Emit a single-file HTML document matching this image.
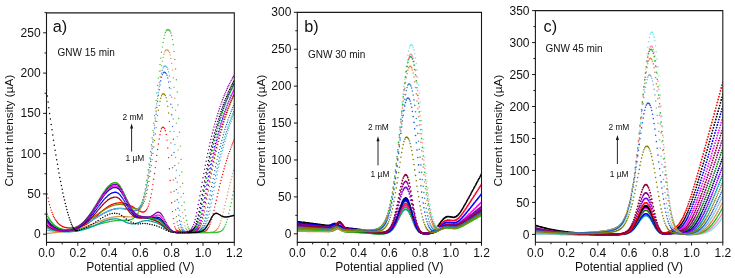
<!DOCTYPE html>
<html><head><meta charset="utf-8"><style>
html,body{margin:0;padding:0;background:#fff;}
svg{display:block;will-change:transform;}
text{font-family:"Liberation Sans", sans-serif;fill:#111;}
</style></head><body>
<svg width="735" height="278" viewBox="0 0 735 278">
<rect width="735" height="278" fill="#fff"/>
<defs><clipPath id="ca"><rect x="46.5" y="12.9" width="187.8" height="229.5"/></clipPath><clipPath id="cb"><rect x="297.3" y="12.4" width="184.2" height="230.0"/></clipPath><clipPath id="cc"><rect x="535.4" y="10.6" width="187.39999999999998" height="231.6"/></clipPath></defs>
<g clip-path="url(#ca)">
<path d="M46.5 189.6h0M47.3 194.1h0M48.1 198.0h0M48.8 201.6h0M49.6 204.8h0M50.4 207.6h0M51.2 210.1h0M52.0 212.4h0M52.8 214.4h0M53.5 216.2h0M54.3 217.8h0M55.1 219.2h0M55.9 220.4h0M56.7 221.5h0M57.5 222.5h0M58.2 223.4h0M59.0 224.1h0M59.8 224.8h0M60.6 225.4h0M61.4 225.9h0M62.2 226.3h0M62.9 226.7h0M63.7 227.0h0M64.5 227.2h0M65.3 227.4h0M66.1 227.6h0M66.8 227.7h0M67.6 227.8h0M68.4 227.9h0M69.2 227.9h0M70.0 228.0h0M70.8 228.0h0M71.5 227.9h0M72.3 227.9h0M73.1 227.8h0M73.9 227.8h0M74.7 227.7h0M75.5 227.6h0M76.2 227.5h0M77.0 227.3h0M77.8 227.2h0M78.6 227.0h0M79.4 226.8h0M80.1 226.6h0M80.9 226.4h0M81.7 226.2h0M82.5 225.9h0M83.3 225.6h0M84.1 225.3h0M84.8 225.0h0M85.6 224.6h0M86.4 224.2h0M87.2 223.7h0M88.0 223.3h0M88.8 222.7h0M89.5 222.2h0M90.3 221.6h0M91.1 221.0h0M91.9 220.4h0M92.7 219.7h0M93.5 219.0h0M94.2 218.3h0M95.0 217.6h0M95.8 216.9h0M96.6 216.2h0M97.4 215.4h0M98.1 214.7h0M98.9 214.0h0M99.7 213.2h0M100.5 212.5h0M101.3 211.8h0M102.1 211.1h0M102.8 210.4h0M103.6 209.8h0M104.4 209.2h0M105.2 208.6h0M106.0 208.0h0M106.8 207.4h0M107.5 206.9h0M108.3 206.4h0M109.1 206.0h0M109.9 205.5h0M110.7 205.1h0M111.4 204.8h0M112.2 204.4h0M113.0 204.1h0M113.8 203.8h0M114.6 203.6h0M115.4 203.4h0M116.1 203.2h0M116.9 203.1h0M117.7 202.9h0M118.5 202.9h0M119.3 202.8h0M120.1 202.8h0M120.8 202.8h0M121.6 202.9h0M122.4 202.9h0M123.2 203.0h0M124.0 203.2h0M124.8 203.4h0M125.5 203.6h0M126.3 203.8h0M127.1 204.1h0M127.9 204.4h0M128.7 204.7h0M129.4 205.1h0M130.2 205.4h0M131.0 205.9h0M131.8 206.3h0M132.6 206.7h0M133.4 207.2h0M134.1 207.7h0M134.9 208.2h0M135.7 208.6h0M136.5 209.2h0M137.3 209.6h0M138.1 210.1h0M138.8 210.6h0M139.6 211.0h0M140.4 211.4h0M141.2 211.7h0M142.0 212.0h0M142.7 212.1h0M143.5 212.0h0M144.3 211.8h0M145.1 211.3h0M145.9 210.6h0M146.7 209.5h0M147.4 208.1h0M148.2 206.2h0M149.0 203.9h0M149.8 201.1h0M150.6 197.8h0M151.4 193.9h0M152.1 189.5h0M152.9 184.6h0M153.7 179.2h0M154.5 173.5h0M155.3 167.6h0M156.1 161.5h0M156.8 155.4h0M157.6 149.5h0M158.4 144.0h0M159.2 139.0h0M160.0 134.7h0M160.7 131.2h0M161.5 128.8h0M162.3 127.4h0M163.1 127.1h0M163.9 127.6h0M164.7 128.6h0M165.4 130.7h0M166.2 134.4h0M167.0 140.1h0M167.8 147.9h0M168.6 157.6h0M169.4 168.7h0M170.1 180.5h0M170.9 192.1h0M171.7 202.7h0M172.5 211.6h0M173.3 218.6h0M174.0 223.6h0M174.8 226.9h0M175.6 228.9h0M176.4 230.1h0M177.2 230.7h0M178.0 231.0h0M178.7 231.2h0M179.5 231.4h0M180.3 231.5h0M181.1 231.6h0M181.9 231.7h0M182.7 231.7h0M183.4 231.8h0M184.2 231.9h0M185.0 231.9h0M185.8 232.0h0M186.6 232.0h0M187.4 232.1h0M188.1 232.1h0M188.9 232.2h0M189.7 232.2h0M190.5 232.3h0M191.3 232.3h0M192.0 232.3h0M192.8 232.3h0M193.6 232.4h0M194.4 232.4h0M195.2 232.4h0M196.0 232.4h0M196.7 232.4h0M197.5 232.4h0M198.3 232.4h0M199.1 232.4h0M199.9 232.3h0M200.7 232.3h0M201.4 232.2h0M202.2 232.1h0M203.0 232.0h0M203.8 231.7h0M204.6 231.5h0M205.3 231.1h0M206.1 230.5h0M206.9 229.8h0M207.7 228.8h0M208.5 227.6h0M209.3 226.1h0M210.0 224.3h0M210.8 222.1h0M211.6 219.6h0M212.4 216.7h0M213.2 213.7h0M214.0 210.5h0M214.7 207.1h0M215.5 203.7h0M216.3 200.2h0M217.1 196.8h0M217.9 193.4h0M218.7 190.0h0M219.4 186.7h0M220.2 183.5h0M221.0 180.4h0M221.8 177.3h0M222.6 174.4h0M223.3 171.5h0M224.1 168.7h0M224.9 166.0h0M225.7 163.4h0M226.5 160.8h0M227.3 158.3h0M228.0 155.9h0M228.8 153.6h0M229.6 151.4h0M230.4 149.2h0M231.2 147.1h0M232.0 145.0h0M232.7 143.0h0M233.5 141.1h0M234.3 139.2h0" stroke="#ff0000" stroke-width="1.4" stroke-linecap="round"/>
<path d="M46.5 227.5h0M47.3 227.9h0M48.1 228.3h0M48.8 228.6h0M49.6 228.9h0M50.4 229.2h0M51.2 229.4h0M52.0 229.6h0M52.8 229.8h0M53.5 230.0h0M54.3 230.1h0M55.1 230.2h0M55.9 230.3h0M56.7 230.3h0M57.5 230.4h0M58.2 230.4h0M59.0 230.4h0M59.8 230.4h0M60.6 230.4h0M61.4 230.4h0M62.2 230.3h0M62.9 230.2h0M63.7 230.2h0M64.5 230.1h0M65.3 229.9h0M66.1 229.8h0M66.8 229.7h0M67.6 229.5h0M68.4 229.4h0M69.2 229.2h0M70.0 229.0h0M70.8 228.8h0M71.5 228.6h0M72.3 228.3h0M73.1 228.1h0M73.9 227.8h0M74.7 227.6h0M75.5 227.3h0M76.2 227.0h0M77.0 226.6h0M77.8 226.3h0M78.6 226.0h0M79.4 225.6h0M80.1 225.2h0M80.9 224.9h0M81.7 224.5h0M82.5 224.0h0M83.3 223.6h0M84.1 223.2h0M84.8 222.7h0M85.6 222.3h0M86.4 221.8h0M87.2 221.3h0M88.0 220.8h0M88.8 220.3h0M89.5 219.8h0M90.3 219.3h0M91.1 218.7h0M91.9 218.2h0M92.7 217.7h0M93.5 217.1h0M94.2 216.6h0M95.0 216.0h0M95.8 215.5h0M96.6 214.9h0M97.4 214.4h0M98.1 213.8h0M98.9 213.3h0M99.7 212.7h0M100.5 212.2h0M101.3 211.7h0M102.1 211.2h0M102.8 210.7h0M103.6 210.2h0M104.4 209.7h0M105.2 209.2h0M106.0 208.8h0M106.8 208.3h0M107.5 207.9h0M108.3 207.5h0M109.1 207.1h0M109.9 206.8h0M110.7 206.4h0M111.4 206.1h0M112.2 205.8h0M113.0 205.6h0M113.8 205.3h0M114.6 205.1h0M115.4 204.9h0M116.1 204.8h0M116.9 204.6h0M117.7 204.5h0M118.5 204.5h0M119.3 204.4h0M120.1 204.4h0M120.8 204.4h0M121.6 204.5h0M122.4 204.5h0M123.2 204.6h0M124.0 204.8h0M124.8 204.9h0M125.5 205.1h0M126.3 205.3h0M127.1 205.6h0M127.9 205.9h0M128.7 206.1h0M129.4 206.4h0M130.2 206.8h0M131.0 207.1h0M131.8 207.4h0M132.6 207.7h0M133.4 208.0h0M134.1 208.3h0M134.9 208.5h0M135.7 208.7h0M136.5 208.9h0M137.3 208.9h0M138.1 208.9h0M138.8 208.7h0M139.6 208.4h0M140.4 207.8h0M141.2 207.1h0M142.0 206.1h0M142.7 204.9h0M143.5 203.3h0M144.3 201.4h0M145.1 199.1h0M145.9 196.5h0M146.7 193.4h0M147.4 189.8h0M148.2 185.8h0M149.0 181.4h0M149.8 176.5h0M150.6 171.3h0M151.4 165.6h0M152.1 159.6h0M152.9 153.4h0M153.7 147.0h0M154.5 140.5h0M155.3 134.0h0M156.1 127.6h0M156.8 121.4h0M157.6 115.6h0M158.4 110.3h0M159.2 105.6h0M160.0 101.5h0M160.7 98.2h0M161.5 95.8h0M162.3 94.2h0M163.1 93.7h0M163.9 93.9h0M164.7 94.5h0M165.4 95.6h0M166.2 97.8h0M167.0 101.2h0M167.8 106.2h0M168.6 113.0h0M169.4 121.5h0M170.1 131.6h0M170.9 142.9h0M171.7 155.2h0M172.5 167.7h0M173.3 179.9h0M174.0 191.2h0M174.8 201.3h0M175.6 209.8h0M176.4 216.6h0M177.2 221.7h0M178.0 225.4h0M178.7 227.9h0M179.5 229.5h0M180.3 230.5h0M181.1 231.1h0M181.9 231.5h0M182.7 231.7h0M183.4 231.8h0M184.2 231.9h0M185.0 232.0h0M185.8 232.0h0M186.6 232.1h0M187.4 232.1h0M188.1 232.1h0M188.9 232.2h0M189.7 232.2h0M190.5 232.2h0M191.3 232.2h0M192.0 232.1h0M192.8 232.1h0M193.6 232.0h0M194.4 231.8h0M195.2 231.7h0M196.0 231.4h0M196.7 231.0h0M197.5 230.5h0M198.3 229.7h0M199.1 228.8h0M199.9 227.5h0M200.7 226.0h0M201.4 224.0h0M202.2 221.6h0M203.0 218.7h0M203.8 215.5h0M204.6 211.9h0M205.3 208.0h0M206.1 203.9h0M206.9 199.6h0M207.7 195.3h0M208.5 191.0h0M209.3 186.6h0M210.0 182.3h0M210.8 178.1h0M211.6 174.0h0M212.4 170.0h0M213.2 166.1h0M214.0 162.3h0M214.7 158.5h0M215.5 154.9h0M216.3 151.4h0M217.1 148.0h0M217.9 144.8h0M218.7 141.6h0M219.4 138.5h0M220.2 135.5h0M221.0 132.6h0M221.8 129.7h0M222.6 127.0h0M223.3 124.4h0M224.1 121.8h0M224.9 119.3h0M225.7 116.9h0M226.5 114.5h0M227.3 112.3h0M228.0 110.1h0M228.8 107.9h0M229.6 105.9h0M230.4 103.9h0M231.2 101.9h0M232.0 100.1h0M232.7 98.2h0M233.5 96.5h0M234.3 94.8h0" stroke="#808000" stroke-width="1.4" stroke-linecap="round"/>
<path d="M46.5 225.9h0M47.3 226.5h0M48.1 227.0h0M48.8 227.5h0M49.6 227.9h0M50.4 228.3h0M51.2 228.6h0M52.0 228.9h0M52.8 229.2h0M53.5 229.4h0M54.3 229.6h0M55.1 229.8h0M55.9 229.9h0M56.7 230.0h0M57.5 230.1h0M58.2 230.2h0M59.0 230.3h0M59.8 230.3h0M60.6 230.3h0M61.4 230.3h0M62.2 230.3h0M62.9 230.3h0M63.7 230.2h0M64.5 230.2h0M65.3 230.1h0M66.1 230.0h0M66.8 229.9h0M67.6 229.8h0M68.4 229.7h0M69.2 229.6h0M70.0 229.4h0M70.8 229.2h0M71.5 229.1h0M72.3 228.9h0M73.1 228.7h0M73.9 228.4h0M74.7 228.2h0M75.5 228.0h0M76.2 227.7h0M77.0 227.4h0M77.8 227.2h0M78.6 226.9h0M79.4 226.6h0M80.1 226.3h0M80.9 225.9h0M81.7 225.6h0M82.5 225.2h0M83.3 224.9h0M84.1 224.5h0M84.8 224.1h0M85.6 223.7h0M86.4 223.3h0M87.2 222.9h0M88.0 222.5h0M88.8 222.0h0M89.5 221.6h0M90.3 221.2h0M91.1 220.7h0M91.9 220.3h0M92.7 219.8h0M93.5 219.3h0M94.2 218.9h0M95.0 218.4h0M95.8 217.9h0M96.6 217.4h0M97.4 217.0h0M98.1 216.5h0M98.9 216.0h0M99.7 215.6h0M100.5 215.1h0M101.3 214.7h0M102.1 214.2h0M102.8 213.8h0M103.6 213.4h0M104.4 213.0h0M105.2 212.6h0M106.0 212.2h0M106.8 211.8h0M107.5 211.4h0M108.3 211.1h0M109.1 210.8h0M109.9 210.5h0M110.7 210.2h0M111.4 209.9h0M112.2 209.6h0M113.0 209.4h0M113.8 209.2h0M114.6 209.0h0M115.4 208.9h0M116.1 208.7h0M116.9 208.6h0M117.7 208.5h0M118.5 208.5h0M119.3 208.4h0M120.1 208.4h0M120.8 208.4h0M121.6 208.5h0M122.4 208.5h0M123.2 208.6h0M124.0 208.7h0M124.8 208.8h0M125.5 209.0h0M126.3 209.1h0M127.1 209.3h0M127.9 209.5h0M128.7 209.7h0M129.4 209.9h0M130.2 210.1h0M131.0 210.3h0M131.8 210.5h0M132.6 210.6h0M133.4 210.7h0M134.1 210.7h0M134.9 210.7h0M135.7 210.6h0M136.5 210.4h0M137.3 210.1h0M138.1 209.6h0M138.8 208.9h0M139.6 208.1h0M140.4 207.0h0M141.2 205.7h0M142.0 204.1h0M142.7 202.2h0M143.5 199.9h0M144.3 197.3h0M145.1 194.3h0M145.9 190.8h0M146.7 187.0h0M147.4 182.7h0M148.2 178.0h0M149.0 172.9h0M149.8 167.4h0M150.6 161.5h0M151.4 155.2h0M152.1 148.7h0M152.9 142.0h0M153.7 135.1h0M154.5 128.1h0M155.3 121.1h0M156.1 114.2h0M156.8 107.5h0M157.6 101.2h0M158.4 95.2h0M159.2 89.7h0M160.0 84.9h0M160.7 80.7h0M161.5 77.3h0M162.3 74.7h0M163.1 73.0h0M163.9 72.2h0M164.7 72.3h0M165.4 72.7h0M166.2 73.6h0M167.0 75.2h0M167.8 78.0h0M168.6 82.1h0M169.4 87.8h0M170.1 95.1h0M170.9 104.2h0M171.7 114.7h0M172.5 126.6h0M173.3 139.3h0M174.0 152.5h0M174.8 165.6h0M175.6 178.1h0M176.4 189.6h0M177.2 199.7h0M178.0 208.2h0M178.7 215.1h0M179.5 220.5h0M180.3 224.5h0M181.1 227.3h0M181.9 229.2h0M182.7 230.4h0M183.4 231.1h0M184.2 231.6h0M185.0 231.9h0M185.8 232.0h0M186.6 232.1h0M187.4 232.2h0M188.1 232.2h0M188.9 232.2h0M189.7 232.3h0M190.5 232.3h0M191.3 232.3h0M192.0 232.3h0M192.8 232.3h0M193.6 232.2h0M194.4 232.2h0M195.2 232.1h0M196.0 232.0h0M196.7 231.9h0M197.5 231.6h0M198.3 231.3h0M199.1 230.9h0M199.9 230.3h0M200.7 229.5h0M201.4 228.5h0M202.2 227.2h0M203.0 225.5h0M203.8 223.4h0M204.6 220.9h0M205.3 218.0h0M206.1 214.7h0M206.9 211.1h0M207.7 207.2h0M208.5 203.2h0M209.3 199.1h0M210.0 194.9h0M210.8 190.7h0M211.6 186.5h0M212.4 182.4h0M213.2 178.4h0M214.0 174.4h0M214.7 170.6h0M215.5 166.8h0M216.3 163.2h0M217.1 159.6h0M217.9 156.2h0M218.7 152.8h0M219.4 149.6h0M220.2 146.5h0M221.0 143.4h0M221.8 140.5h0M222.6 137.6h0M223.3 134.8h0M224.1 132.1h0M224.9 129.5h0M225.7 127.0h0M226.5 124.5h0M227.3 122.2h0M228.0 119.9h0M228.8 117.6h0M229.6 115.5h0M230.4 113.4h0M231.2 111.3h0M232.0 109.4h0M232.7 107.5h0M233.5 105.6h0M234.3 103.8h0" stroke="#2060e0" stroke-width="1.4" stroke-linecap="round"/>
<path d="M46.5 229.9h0M47.3 230.1h0M48.1 230.3h0M48.8 230.5h0M49.6 230.6h0M50.4 230.7h0M51.2 230.8h0M52.0 230.9h0M52.8 231.0h0M53.5 231.0h0M54.3 231.1h0M55.1 231.1h0M55.9 231.1h0M56.7 231.1h0M57.5 231.1h0M58.2 231.1h0M59.0 231.1h0M59.8 231.0h0M60.6 231.0h0M61.4 230.9h0M62.2 230.9h0M62.9 230.8h0M63.7 230.7h0M64.5 230.6h0M65.3 230.5h0M66.1 230.4h0M66.8 230.2h0M67.6 230.1h0M68.4 229.9h0M69.2 229.8h0M70.0 229.6h0M70.8 229.4h0M71.5 229.2h0M72.3 229.0h0M73.1 228.8h0M73.9 228.6h0M74.7 228.3h0M75.5 228.1h0M76.2 227.8h0M77.0 227.5h0M77.8 227.2h0M78.6 226.9h0M79.4 226.6h0M80.1 226.3h0M80.9 226.0h0M81.7 225.6h0M82.5 225.3h0M83.3 224.9h0M84.1 224.5h0M84.8 224.1h0M85.6 223.7h0M86.4 223.3h0M87.2 222.9h0M88.0 222.5h0M88.8 222.1h0M89.5 221.6h0M90.3 221.2h0M91.1 220.7h0M91.9 220.3h0M92.7 219.8h0M93.5 219.3h0M94.2 218.9h0M95.0 218.4h0M95.8 217.9h0M96.6 217.5h0M97.4 217.0h0M98.1 216.5h0M98.9 216.0h0M99.7 215.6h0M100.5 215.1h0M101.3 214.7h0M102.1 214.2h0M102.8 213.8h0M103.6 213.4h0M104.4 213.0h0M105.2 212.6h0M106.0 212.2h0M106.8 211.8h0M107.5 211.4h0M108.3 211.1h0M109.1 210.8h0M109.9 210.5h0M110.7 210.2h0M111.4 209.9h0M112.2 209.6h0M113.0 209.4h0M113.8 209.2h0M114.6 209.0h0M115.4 208.9h0M116.1 208.7h0M116.9 208.6h0M117.7 208.5h0M118.5 208.5h0M119.3 208.4h0M120.1 208.4h0M120.8 208.4h0M121.6 208.4h0M122.4 208.5h0M123.2 208.6h0M124.0 208.7h0M124.8 208.8h0M125.5 208.9h0M126.3 209.1h0M127.1 209.2h0M127.9 209.4h0M128.7 209.6h0M129.4 209.8h0M130.2 209.9h0M131.0 210.1h0M131.8 210.2h0M132.6 210.2h0M133.4 210.3h0M134.1 210.2h0M134.9 210.1h0M135.7 209.9h0M136.5 209.6h0M137.3 209.2h0M138.1 208.5h0M138.8 207.8h0M139.6 206.8h0M140.4 205.5h0M141.2 204.1h0M142.0 202.3h0M142.7 200.2h0M143.5 197.8h0M144.3 195.1h0M145.1 191.9h0M145.9 188.4h0M146.7 184.5h0M147.4 180.1h0M148.2 175.4h0M149.0 170.2h0M149.8 164.7h0M150.6 158.8h0M151.4 152.6h0M152.1 146.1h0M152.9 139.4h0M153.7 132.6h0M154.5 125.6h0M155.3 118.7h0M156.1 111.8h0M156.8 105.1h0M157.6 98.6h0M158.4 92.5h0M159.2 86.8h0M160.0 81.7h0M160.7 77.2h0M161.5 73.3h0M162.3 70.2h0M163.1 67.9h0M163.9 66.5h0M164.7 66.0h0M165.4 66.1h0M166.2 66.6h0M167.0 67.5h0M167.8 69.2h0M168.6 71.9h0M169.4 76.0h0M170.1 81.5h0M170.9 88.6h0M171.7 97.3h0M172.5 107.5h0M173.3 119.0h0M174.0 131.4h0M174.8 144.4h0M175.6 157.5h0M176.4 170.3h0M177.2 182.2h0M178.0 193.0h0M178.7 202.4h0M179.5 210.3h0M180.3 216.6h0M181.1 221.5h0M181.9 225.1h0M182.7 227.6h0M183.4 229.4h0M184.2 230.5h0M185.0 231.2h0M185.8 231.7h0M186.6 231.9h0M187.4 232.1h0M188.1 232.2h0M188.9 232.2h0M189.7 232.3h0M190.5 232.3h0M191.3 232.3h0M192.0 232.3h0M192.8 232.4h0M193.6 232.4h0M194.4 232.4h0M195.2 232.4h0M196.0 232.3h0M196.7 232.3h0M197.5 232.2h0M198.3 232.2h0M199.1 232.0h0M199.9 231.9h0M200.7 231.6h0M201.4 231.3h0M202.2 230.9h0M203.0 230.3h0M203.8 229.4h0M204.6 228.4h0M205.3 227.0h0M206.1 225.2h0M206.9 223.1h0M207.7 220.6h0M208.5 217.6h0M209.3 214.3h0M210.0 210.7h0M210.8 206.9h0M211.6 202.9h0M212.4 198.8h0M213.2 194.7h0M214.0 190.6h0M214.7 186.5h0M215.5 182.5h0M216.3 178.5h0M217.1 174.7h0M217.9 170.9h0M218.7 167.2h0M219.4 163.7h0M220.2 160.2h0M221.0 156.9h0M221.8 153.6h0M222.6 150.4h0M223.3 147.4h0M224.1 144.4h0M224.9 141.5h0M225.7 138.7h0M226.5 136.0h0M227.3 133.4h0M228.0 130.8h0M228.8 128.3h0M229.6 125.9h0M230.4 123.6h0M231.2 121.4h0M232.0 119.2h0M232.7 117.1h0M233.5 115.0h0M234.3 113.1h0" stroke="#50b0e0" stroke-width="1.4" stroke-linecap="round"/>
<path d="M46.5 233.6h0M47.3 233.5h0M48.1 233.4h0M48.8 233.3h0M49.6 233.2h0M50.4 233.1h0M51.2 233.0h0M52.0 232.9h0M52.8 232.8h0M53.5 232.7h0M54.3 232.6h0M55.1 232.5h0M55.9 232.5h0M56.7 232.4h0M57.5 232.3h0M58.2 232.2h0M59.0 232.2h0M59.8 232.1h0M60.6 232.0h0M61.4 231.9h0M62.2 231.8h0M62.9 231.7h0M63.7 231.6h0M64.5 231.5h0M65.3 231.4h0M66.1 231.3h0M66.8 231.2h0M67.6 231.1h0M68.4 231.0h0M69.2 230.9h0M70.0 230.7h0M70.8 230.6h0M71.5 230.5h0M72.3 230.3h0M73.1 230.2h0M73.9 230.0h0M74.7 229.8h0M75.5 229.6h0M76.2 229.5h0M77.0 229.3h0M77.8 229.1h0M78.6 228.9h0M79.4 228.7h0M80.1 228.4h0M80.9 228.2h0M81.7 228.0h0M82.5 227.7h0M83.3 227.5h0M84.1 227.2h0M84.8 227.0h0M85.6 226.7h0M86.4 226.4h0M87.2 226.2h0M88.0 225.9h0M88.8 225.6h0M89.5 225.3h0M90.3 225.0h0M91.1 224.7h0M91.9 224.4h0M92.7 224.1h0M93.5 223.8h0M94.2 223.4h0M95.0 223.1h0M95.8 222.8h0M96.6 222.5h0M97.4 222.2h0M98.1 221.9h0M98.9 221.6h0M99.7 221.3h0M100.5 221.0h0M101.3 220.7h0M102.1 220.4h0M102.8 220.1h0M103.6 219.8h0M104.4 219.5h0M105.2 219.2h0M106.0 219.0h0M106.8 218.7h0M107.5 218.5h0M108.3 218.3h0M109.1 218.0h0M109.9 217.8h0M110.7 217.6h0M111.4 217.5h0M112.2 217.3h0M113.0 217.1h0M113.8 217.0h0M114.6 216.9h0M115.4 216.8h0M116.1 216.7h0M116.9 216.6h0M117.7 216.5h0M118.5 216.5h0M119.3 216.5h0M120.1 216.4h0M120.8 216.4h0M121.6 216.4h0M122.4 216.5h0M123.2 216.5h0M124.0 216.6h0M124.8 216.6h0M125.5 216.7h0M126.3 216.7h0M127.1 216.8h0M127.9 216.8h0M128.7 216.9h0M129.4 216.9h0M130.2 216.9h0M131.0 216.9h0M131.8 216.8h0M132.6 216.7h0M133.4 216.5h0M134.1 216.2h0M134.9 215.9h0M135.7 215.4h0M136.5 214.8h0M137.3 214.1h0M138.1 213.2h0M138.8 212.1h0M139.6 210.8h0M140.4 209.3h0M141.2 207.5h0M142.0 205.4h0M142.7 203.1h0M143.5 200.4h0M144.3 197.3h0M145.1 193.9h0M145.9 190.2h0M146.7 186.0h0M147.4 181.5h0M148.2 176.6h0M149.0 171.2h0M149.8 165.6h0M150.6 159.5h0M151.4 153.1h0M152.1 146.5h0M152.9 139.6h0M153.7 132.5h0M154.5 125.2h0M155.3 117.9h0M156.1 110.6h0M156.8 103.3h0M157.6 96.2h0M158.4 89.3h0M159.2 82.7h0M160.0 76.6h0M160.7 70.9h0M161.5 65.7h0M162.3 61.2h0M163.1 57.4h0M163.9 54.3h0M164.7 52.0h0M165.4 50.5h0M166.2 49.9h0M167.0 50.0h0M167.8 50.3h0M168.6 51.0h0M169.4 52.5h0M170.1 54.9h0M170.9 58.5h0M171.7 63.4h0M172.5 69.9h0M173.3 77.8h0M174.0 87.3h0M174.8 98.2h0M175.6 110.3h0M176.4 123.2h0M177.2 136.6h0M178.0 150.0h0M178.7 163.2h0M179.5 175.5h0M180.3 186.9h0M181.1 196.9h0M181.9 205.5h0M182.7 212.6h0M183.4 218.3h0M184.2 222.6h0M185.0 225.9h0M185.8 228.2h0M186.6 229.8h0M187.4 230.8h0M188.1 231.5h0M188.9 231.9h0M189.7 232.1h0M190.5 232.3h0M191.3 232.4h0M192.0 232.4h0M192.8 232.4h0M193.6 232.5h0M194.4 232.5h0M195.2 232.5h0M196.0 232.5h0M196.7 232.5h0M197.5 232.5h0M198.3 232.5h0M199.1 232.5h0M199.9 232.5h0M200.7 232.5h0M201.4 232.5h0M202.2 232.5h0M203.0 232.5h0M203.8 232.5h0M204.6 232.5h0M205.3 232.5h0M206.1 232.5h0M206.9 232.5h0M207.7 232.5h0M208.5 232.5h0M209.3 232.4h0M210.0 232.4h0M210.8 232.3h0M211.6 232.2h0M212.4 232.1h0M213.2 231.9h0M214.0 231.6h0M214.7 231.3h0M215.5 230.8h0M216.3 230.2h0M217.1 229.3h0M217.9 228.2h0M218.7 226.9h0M219.4 225.2h0M220.2 223.2h0M221.0 220.8h0M221.8 218.1h0M222.6 215.2h0M223.3 212.1h0M224.1 208.9h0M224.9 205.5h0M225.7 202.1h0M226.5 198.7h0M227.3 195.3h0M228.0 192.0h0M228.8 188.7h0M229.6 185.6h0M230.4 182.4h0M231.2 179.4h0M232.0 176.5h0M232.7 173.6h0M233.5 170.8h0M234.3 168.1h0" stroke="#d89858" stroke-width="1.4" stroke-linecap="round"/>
<path d="M46.5 214.7h0M47.3 216.4h0M48.1 217.9h0M48.8 219.3h0M49.6 220.5h0M50.4 221.6h0M51.2 222.6h0M52.0 223.6h0M52.8 224.4h0M53.5 225.1h0M54.3 225.8h0M55.1 226.4h0M55.9 226.9h0M56.7 227.4h0M57.5 227.8h0M58.2 228.2h0M59.0 228.5h0M59.8 228.8h0M60.6 229.1h0M61.4 229.3h0M62.2 229.5h0M62.9 229.7h0M63.7 229.8h0M64.5 229.9h0M65.3 230.0h0M66.1 230.1h0M66.8 230.2h0M67.6 230.2h0M68.4 230.3h0M69.2 230.3h0M70.0 230.3h0M70.8 230.3h0M71.5 230.2h0M72.3 230.2h0M73.1 230.1h0M73.9 230.1h0M74.7 230.0h0M75.5 229.9h0M76.2 229.8h0M77.0 229.7h0M77.8 229.6h0M78.6 229.5h0M79.4 229.4h0M80.1 229.2h0M80.9 229.1h0M81.7 228.9h0M82.5 228.8h0M83.3 228.6h0M84.1 228.4h0M84.8 228.2h0M85.6 228.1h0M86.4 227.9h0M87.2 227.7h0M88.0 227.5h0M88.8 227.3h0M89.5 227.0h0M90.3 226.8h0M91.1 226.6h0M91.9 226.4h0M92.7 226.2h0M93.5 225.9h0M94.2 225.7h0M95.0 225.5h0M95.8 225.2h0M96.6 225.0h0M97.4 224.8h0M98.1 224.5h0M98.9 224.3h0M99.7 224.1h0M100.5 223.8h0M101.3 223.6h0M102.1 223.4h0M102.8 223.2h0M103.6 223.0h0M104.4 222.8h0M105.2 222.6h0M106.0 222.4h0M106.8 222.2h0M107.5 222.0h0M108.3 221.8h0M109.1 221.7h0M109.9 221.5h0M110.7 221.4h0M111.4 221.2h0M112.2 221.1h0M113.0 221.0h0M113.8 220.9h0M114.6 220.8h0M115.4 220.7h0M116.1 220.6h0M116.9 220.6h0M117.7 220.5h0M118.5 220.5h0M119.3 220.4h0M120.1 220.4h0M120.8 220.4h0M121.6 220.4h0M122.4 220.4h0M123.2 220.3h0M124.0 220.3h0M124.8 220.3h0M125.5 220.3h0M126.3 220.3h0M127.1 220.2h0M127.9 220.2h0M128.7 220.1h0M129.4 219.9h0M130.2 219.7h0M131.0 219.5h0M131.8 219.2h0M132.6 218.8h0M133.4 218.4h0M134.1 217.8h0M134.9 217.1h0M135.7 216.3h0M136.5 215.4h0M137.3 214.2h0M138.1 212.9h0M138.8 211.3h0M139.6 209.6h0M140.4 207.6h0M141.2 205.3h0M142.0 202.7h0M142.7 199.8h0M143.5 196.6h0M144.3 193.0h0M145.1 189.1h0M145.9 184.8h0M146.7 180.2h0M147.4 175.2h0M148.2 169.8h0M149.0 164.0h0M149.8 158.0h0M150.6 151.5h0M151.4 144.8h0M152.1 137.8h0M152.9 130.6h0M153.7 123.2h0M154.5 115.7h0M155.3 108.1h0M156.1 100.4h0M156.8 92.9h0M157.6 85.4h0M158.4 78.1h0M159.2 71.1h0M160.0 64.4h0M160.7 58.1h0M161.5 52.3h0M162.3 47.1h0M163.1 42.4h0M163.9 38.4h0M164.7 35.1h0M165.4 32.5h0M166.2 30.8h0M167.0 29.8h0M167.8 29.7h0M168.6 29.8h0M169.4 30.3h0M170.1 31.3h0M170.9 33.0h0M171.7 35.7h0M172.5 39.6h0M173.3 44.8h0M174.0 51.4h0M174.8 59.4h0M175.6 69.0h0M176.4 79.8h0M177.2 91.9h0M178.0 104.9h0M178.7 118.5h0M179.5 132.3h0M180.3 146.1h0M181.1 159.4h0M181.9 171.9h0M182.7 183.3h0M183.4 193.5h0M184.2 202.3h0M185.0 209.7h0M185.8 215.8h0M186.6 220.5h0M187.4 224.2h0M188.1 226.9h0M188.9 228.8h0M189.7 230.2h0M190.5 231.1h0M191.3 231.7h0M192.0 232.0h0M192.8 232.2h0M193.6 232.4h0M194.4 232.4h0M195.2 232.5h0M196.0 232.5h0M196.7 232.5h0M197.5 232.5h0M198.3 232.5h0M199.1 232.5h0M199.9 232.6h0M200.7 232.6h0M201.4 232.6h0M202.2 232.6h0M203.0 232.6h0M203.8 232.6h0M204.6 232.6h0M205.3 232.6h0M206.1 232.6h0M206.9 232.6h0M207.7 232.6h0M208.5 232.6h0M209.3 232.6h0M210.0 232.6h0M210.8 232.6h0M211.6 232.6h0M212.4 232.5h0M213.2 232.5h0M214.0 232.5h0M214.7 232.5h0M215.5 232.4h0M216.3 232.4h0M217.1 232.3h0M217.9 232.2h0M218.7 232.0h0M219.4 231.8h0M220.2 231.6h0M221.0 231.2h0M221.8 230.6h0M222.6 229.9h0M223.3 229.0h0M224.1 227.8h0M224.9 226.3h0M225.7 224.4h0M226.5 222.2h0M227.3 219.6h0M228.0 216.7h0M228.8 213.5h0M229.6 210.0h0M230.4 206.4h0M231.2 202.7h0M232.0 199.0h0M232.7 195.3h0M233.5 191.5h0M234.3 187.9h0" stroke="#30c030" stroke-width="1.4" stroke-linecap="round"/>
<path d="M46.5 226.5h0M47.3 227.0h0M48.1 227.6h0M48.8 228.0h0M49.6 228.5h0M50.4 228.9h0M51.2 229.2h0M52.0 229.5h0M52.8 229.8h0M53.5 230.1h0M54.3 230.3h0M55.1 230.5h0M55.9 230.7h0M56.7 230.9h0M57.5 231.0h0M58.2 231.1h0M59.0 231.3h0M59.8 231.4h0M60.6 231.4h0M61.4 231.5h0M62.2 231.6h0M62.9 231.6h0M63.7 231.7h0M64.5 231.7h0M65.3 231.7h0M66.1 231.8h0M66.8 231.8h0M67.6 231.8h0M68.4 231.8h0M69.2 231.7h0M70.0 231.7h0M70.8 231.7h0M71.5 231.6h0M72.3 231.6h0M73.1 231.5h0M73.9 231.4h0M74.7 231.4h0M75.5 231.3h0M76.2 231.2h0M77.0 231.0h0M77.8 230.9h0M78.6 230.8h0M79.4 230.6h0M80.1 230.5h0M80.9 230.3h0M81.7 230.1h0M82.5 229.9h0M83.3 229.7h0M84.1 229.5h0M84.8 229.3h0M85.6 229.0h0M86.4 228.8h0M87.2 228.5h0M88.0 228.3h0M88.8 228.0h0M89.5 227.7h0M90.3 227.4h0M91.1 227.0h0M91.9 226.7h0M92.7 226.4h0M93.5 226.0h0M94.2 225.7h0M95.0 225.3h0M95.8 225.0h0M96.6 224.6h0M97.4 224.3h0M98.1 223.9h0M98.9 223.6h0M99.7 223.2h0M100.5 222.8h0M101.3 222.5h0M102.1 222.2h0M102.8 221.8h0M103.6 221.5h0M104.4 221.2h0M105.2 220.9h0M106.0 220.6h0M106.8 220.4h0M107.5 220.1h0M108.3 219.9h0M109.1 219.7h0M109.9 219.5h0M110.7 219.3h0M111.4 219.2h0M112.2 219.1h0M113.0 219.0h0M113.8 218.9h0M114.6 218.9h0M115.4 218.8h0M116.1 218.9h0M116.9 218.9h0M117.7 219.0h0M118.5 219.2h0M119.3 219.4h0M120.1 219.7h0M120.8 219.9h0M121.6 220.3h0M122.4 220.6h0M123.2 220.9h0M124.0 221.3h0M124.8 221.7h0M125.5 222.0h0M126.3 222.4h0M127.1 222.7h0M127.9 223.0h0M128.7 223.2h0M129.4 223.4h0M130.2 223.6h0M131.0 223.8h0M131.8 223.8h0M132.6 223.9h0M133.4 223.8h0M134.1 223.8h0M134.9 223.6h0M135.7 223.5h0M136.5 223.3h0M137.3 223.0h0M138.1 222.7h0M138.8 222.5h0M139.6 222.2h0M140.4 221.9h0M141.2 221.6h0M142.0 221.3h0M142.7 221.1h0M143.5 220.9h0M144.3 220.8h0M145.1 220.6h0M145.9 220.6h0M146.7 220.6h0M147.4 220.6h0M148.2 220.7h0M149.0 220.8h0M149.8 220.9h0M150.6 221.1h0M151.4 221.3h0M152.1 221.5h0M152.9 221.7h0M153.7 221.9h0M154.5 222.1h0M155.3 222.3h0M156.1 222.6h0M156.8 222.9h0M157.6 223.2h0M158.4 223.6h0M159.2 224.0h0M160.0 224.4h0M160.7 224.9h0M161.5 225.5h0M162.3 226.0h0M163.1 226.6h0M163.9 227.3h0M164.7 227.9h0M165.4 228.5h0M166.2 229.1h0M167.0 229.6h0M167.8 230.1h0M168.6 230.5h0M169.4 230.9h0M170.1 231.3h0M170.9 231.5h0M171.7 231.8h0M172.5 232.0h0M173.3 232.1h0M174.0 232.2h0M174.8 232.3h0M175.6 232.4h0M176.4 232.5h0M177.2 232.5h0M178.0 232.5h0M178.7 232.5h0M179.5 232.6h0M180.3 232.6h0M181.1 232.6h0M181.9 232.6h0M182.7 232.6h0M183.4 232.6h0M184.2 232.6h0M185.0 232.6h0M185.8 232.6h0M186.6 232.6h0M187.4 232.6h0M188.1 232.6h0M188.9 232.6h0M189.7 232.6h0M190.5 232.6h0M191.3 232.6h0M192.0 232.5h0M192.8 232.5h0M193.6 232.5h0M194.4 232.5h0M195.2 232.4h0M196.0 232.4h0M196.7 232.3h0M197.5 232.2h0M198.3 232.0h0M199.1 231.8h0M199.9 231.5h0M200.7 231.0h0M201.4 230.4h0M202.2 229.7h0M203.0 228.7h0M203.8 227.3h0M204.6 225.7h0M205.3 223.6h0M206.1 221.2h0M206.9 218.3h0M207.7 215.1h0M208.5 211.6h0M209.3 207.8h0M210.0 203.9h0M210.8 199.8h0M211.6 195.7h0M212.4 191.6h0M213.2 187.5h0M214.0 183.5h0M214.7 179.6h0M215.5 175.7h0M216.3 171.9h0M217.1 168.3h0M217.9 164.7h0M218.7 161.2h0M219.4 157.9h0M220.2 154.6h0M221.0 151.4h0M221.8 148.3h0M222.6 145.4h0M223.3 142.5h0M224.1 139.7h0M224.9 136.9h0M225.7 134.3h0M226.5 131.8h0M227.3 129.3h0M228.0 126.9h0M228.8 124.6h0M229.6 122.3h0M230.4 120.1h0M231.2 118.0h0M232.0 116.0h0M232.7 114.0h0M233.5 112.0h0M234.3 110.2h0" stroke="#00a0a0" stroke-width="1.4" stroke-linecap="round"/>
<path d="M46.5 224.5h0M47.3 225.3h0M48.1 226.0h0M48.8 226.6h0M49.6 227.1h0M50.4 227.6h0M51.2 228.1h0M52.0 228.5h0M52.8 228.9h0M53.5 229.2h0M54.3 229.5h0M55.1 229.8h0M55.9 230.0h0M56.7 230.2h0M57.5 230.4h0M58.2 230.6h0M59.0 230.7h0M59.8 230.8h0M60.6 230.9h0M61.4 231.0h0M62.2 231.1h0M62.9 231.1h0M63.7 231.1h0M64.5 231.1h0M65.3 231.1h0M66.1 231.1h0M66.8 231.1h0M67.6 231.0h0M68.4 230.9h0M69.2 230.8h0M70.0 230.7h0M70.8 230.6h0M71.5 230.4h0M72.3 230.3h0M73.1 230.1h0M73.9 229.9h0M74.7 229.6h0M75.5 229.4h0M76.2 229.1h0M77.0 228.8h0M77.8 228.4h0M78.6 228.1h0M79.4 227.7h0M80.1 227.3h0M80.9 226.8h0M81.7 226.3h0M82.5 225.8h0M83.3 225.3h0M84.1 224.7h0M84.8 224.1h0M85.6 223.5h0M86.4 222.8h0M87.2 222.1h0M88.0 221.4h0M88.8 220.7h0M89.5 219.9h0M90.3 219.1h0M91.1 218.3h0M91.9 217.4h0M92.7 216.6h0M93.5 215.7h0M94.2 214.8h0M95.0 213.9h0M95.8 212.9h0M96.6 212.0h0M97.4 211.1h0M98.1 210.1h0M98.9 209.2h0M99.7 208.3h0M100.5 207.4h0M101.3 206.5h0M102.1 205.6h0M102.8 204.8h0M103.6 203.9h0M104.4 203.1h0M105.2 202.4h0M106.0 201.6h0M106.8 201.0h0M107.5 200.3h0M108.3 199.7h0M109.1 199.2h0M109.9 198.7h0M110.7 198.3h0M111.4 198.0h0M112.2 197.7h0M113.0 197.4h0M113.8 197.2h0M114.6 197.1h0M115.4 197.1h0M116.1 197.1h0M116.9 197.3h0M117.7 197.7h0M118.5 198.1h0M119.3 198.7h0M120.1 199.4h0M120.8 200.2h0M121.6 201.1h0M122.4 202.1h0M123.2 203.2h0M124.0 204.2h0M124.8 205.4h0M125.5 206.5h0M126.3 207.7h0M127.1 208.8h0M127.9 209.9h0M128.7 211.0h0M129.4 212.0h0M130.2 212.9h0M131.0 213.8h0M131.8 214.6h0M132.6 215.3h0M133.4 215.9h0M134.1 216.4h0M134.9 216.9h0M135.7 217.2h0M136.5 217.5h0M137.3 217.7h0M138.1 217.8h0M138.8 217.9h0M139.6 217.9h0M140.4 217.9h0M141.2 217.9h0M142.0 217.9h0M142.7 217.9h0M143.5 217.9h0M144.3 217.9h0M145.1 217.9h0M145.9 218.0h0M146.7 218.1h0M147.4 218.2h0M148.2 218.4h0M149.0 218.6h0M149.8 218.8h0M150.6 219.1h0M151.4 219.3h0M152.1 219.6h0M152.9 219.8h0M153.7 220.1h0M154.5 220.3h0M155.3 220.6h0M156.1 220.9h0M156.8 221.2h0M157.6 221.6h0M158.4 222.0h0M159.2 222.5h0M160.0 223.0h0M160.7 223.6h0M161.5 224.2h0M162.3 224.9h0M163.1 225.6h0M163.9 226.3h0M164.7 227.0h0M165.4 227.7h0M166.2 228.4h0M167.0 229.1h0M167.8 229.6h0M168.6 230.2h0M169.4 230.6h0M170.1 231.0h0M170.9 231.4h0M171.7 231.6h0M172.5 231.9h0M173.3 232.0h0M174.0 232.2h0M174.8 232.3h0M175.6 232.4h0M176.4 232.4h0M177.2 232.5h0M178.0 232.5h0M178.7 232.5h0M179.5 232.5h0M180.3 232.6h0M181.1 232.6h0M181.9 232.6h0M182.7 232.6h0M183.4 232.6h0M184.2 232.6h0M185.0 232.6h0M185.8 232.6h0M186.6 232.6h0M187.4 232.5h0M188.1 232.5h0M188.9 232.5h0M189.7 232.5h0M190.5 232.4h0M191.3 232.4h0M192.0 232.3h0M192.8 232.1h0M193.6 232.0h0M194.4 231.7h0M195.2 231.4h0M196.0 230.9h0M196.7 230.3h0M197.5 229.5h0M198.3 228.5h0M199.1 227.1h0M199.9 225.3h0M200.7 223.2h0M201.4 220.6h0M202.2 217.6h0M203.0 214.3h0M203.8 210.6h0M204.6 206.6h0M205.3 202.5h0M206.1 198.2h0M206.9 193.9h0M207.7 189.6h0M208.5 185.3h0M209.3 181.1h0M210.0 177.0h0M210.8 172.9h0M211.6 169.0h0M212.4 165.1h0M213.2 161.4h0M214.0 157.7h0M214.7 154.2h0M215.5 150.8h0M216.3 147.4h0M217.1 144.2h0M217.9 141.1h0M218.7 138.1h0M219.4 135.1h0M220.2 132.3h0M221.0 129.5h0M221.8 126.8h0M222.6 124.2h0M223.3 121.7h0M224.1 119.3h0M224.9 116.9h0M225.7 114.6h0M226.5 112.4h0M227.3 110.3h0M228.0 108.2h0M228.8 106.1h0M229.6 104.2h0M230.4 102.3h0M231.2 100.5h0M232.0 98.7h0M232.7 96.9h0M233.5 95.3h0M234.3 93.6h0" stroke="#a00000" stroke-width="1.45" stroke-linecap="round"/>
<path d="M46.5 218.1h0M47.3 219.4h0M48.1 220.7h0M48.8 221.8h0M49.6 222.8h0M50.4 223.7h0M51.2 224.6h0M52.0 225.3h0M52.8 226.0h0M53.5 226.6h0M54.3 227.1h0M55.1 227.6h0M55.9 228.0h0M56.7 228.4h0M57.5 228.8h0M58.2 229.1h0M59.0 229.4h0M59.8 229.6h0M60.6 229.8h0M61.4 230.0h0M62.2 230.1h0M62.9 230.2h0M63.7 230.3h0M64.5 230.4h0M65.3 230.4h0M66.1 230.5h0M66.8 230.4h0M67.6 230.4h0M68.4 230.4h0M69.2 230.3h0M70.0 230.2h0M70.8 230.1h0M71.5 229.9h0M72.3 229.7h0M73.1 229.5h0M73.9 229.3h0M74.7 229.1h0M75.5 228.8h0M76.2 228.5h0M77.0 228.1h0M77.8 227.8h0M78.6 227.4h0M79.4 226.9h0M80.1 226.5h0M80.9 225.9h0M81.7 225.4h0M82.5 224.8h0M83.3 224.2h0M84.1 223.6h0M84.8 222.9h0M85.6 222.2h0M86.4 221.5h0M87.2 220.7h0M88.0 219.9h0M88.8 219.0h0M89.5 218.1h0M90.3 217.2h0M91.1 216.3h0M91.9 215.3h0M92.7 214.4h0M93.5 213.4h0M94.2 212.3h0M95.0 211.3h0M95.8 210.3h0M96.6 209.2h0M97.4 208.1h0M98.1 207.1h0M98.9 206.0h0M99.7 205.0h0M100.5 203.9h0M101.3 202.9h0M102.1 201.9h0M102.8 201.0h0M103.6 200.0h0M104.4 199.1h0M105.2 198.2h0M106.0 197.4h0M106.8 196.7h0M107.5 195.9h0M108.3 195.3h0M109.1 194.7h0M109.9 194.1h0M110.7 193.6h0M111.4 193.2h0M112.2 192.9h0M113.0 192.6h0M113.8 192.4h0M114.6 192.3h0M115.4 192.3h0M116.1 192.3h0M116.9 192.6h0M117.7 192.9h0M118.5 193.5h0M119.3 194.1h0M120.1 194.9h0M120.8 195.9h0M121.6 196.9h0M122.4 198.0h0M123.2 199.2h0M124.0 200.5h0M124.8 201.8h0M125.5 203.1h0M126.3 204.4h0M127.1 205.7h0M127.9 207.0h0M128.7 208.3h0M129.4 209.5h0M130.2 210.6h0M131.0 211.7h0M131.8 212.6h0M132.6 213.5h0M133.4 214.3h0M134.1 215.0h0M134.9 215.5h0M135.7 216.0h0M136.5 216.4h0M137.3 216.7h0M138.1 217.0h0M138.8 217.1h0M139.6 217.3h0M140.4 217.3h0M141.2 217.4h0M142.0 217.4h0M142.7 217.5h0M143.5 217.5h0M144.3 217.5h0M145.1 217.6h0M145.9 217.6h0M146.7 217.7h0M147.4 217.8h0M148.2 217.9h0M149.0 218.0h0M149.8 218.1h0M150.6 218.2h0M151.4 218.3h0M152.1 218.3h0M152.9 218.4h0M153.7 218.4h0M154.5 218.4h0M155.3 218.4h0M156.1 218.4h0M156.8 218.5h0M157.6 218.7h0M158.4 218.9h0M159.2 219.3h0M160.0 219.8h0M160.7 220.4h0M161.5 221.1h0M162.3 221.9h0M163.1 222.8h0M163.9 223.7h0M164.7 224.7h0M165.4 225.7h0M166.2 226.6h0M167.0 227.5h0M167.8 228.4h0M168.6 229.1h0M169.4 229.8h0M170.1 230.4h0M170.9 230.8h0M171.7 231.2h0M172.5 231.6h0M173.3 231.8h0M174.0 232.0h0M174.8 232.2h0M175.6 232.3h0M176.4 232.4h0M177.2 232.4h0M178.0 232.5h0M178.7 232.5h0M179.5 232.5h0M180.3 232.6h0M181.1 232.6h0M181.9 232.6h0M182.7 232.6h0M183.4 232.6h0M184.2 232.6h0M185.0 232.6h0M185.8 232.5h0M186.6 232.5h0M187.4 232.5h0M188.1 232.5h0M188.9 232.4h0M189.7 232.4h0M190.5 232.3h0M191.3 232.1h0M192.0 232.0h0M192.8 231.7h0M193.6 231.4h0M194.4 230.9h0M195.2 230.3h0M196.0 229.5h0M196.7 228.4h0M197.5 227.0h0M198.3 225.3h0M199.1 223.1h0M199.9 220.5h0M200.7 217.5h0M201.4 214.1h0M202.2 210.4h0M203.0 206.4h0M203.8 202.2h0M204.6 197.9h0M205.3 193.6h0M206.1 189.2h0M206.9 184.9h0M207.7 180.7h0M208.5 176.5h0M209.3 172.4h0M210.0 168.4h0M210.8 164.5h0M211.6 160.8h0M212.4 157.1h0M213.2 153.5h0M214.0 150.1h0M214.7 146.7h0M215.5 143.5h0M216.3 140.3h0M217.1 137.3h0M217.9 134.3h0M218.7 131.4h0M219.4 128.6h0M220.2 125.9h0M221.0 123.3h0M221.8 120.8h0M222.6 118.3h0M223.3 115.9h0M224.1 113.6h0M224.9 111.4h0M225.7 109.2h0M226.5 107.1h0M227.3 105.1h0M228.0 103.1h0M228.8 101.2h0M229.6 99.3h0M230.4 97.5h0M231.2 95.8h0M232.0 94.1h0M232.7 92.5h0M233.5 90.9h0M234.3 89.3h0" stroke="#0000ff" stroke-width="1.45" stroke-linecap="round"/>
<path d="M46.5 219.7h0M47.3 220.9h0M48.1 222.0h0M48.8 223.0h0M49.6 223.9h0M50.4 224.7h0M51.2 225.4h0M52.0 226.1h0M52.8 226.7h0M53.5 227.2h0M54.3 227.7h0M55.1 228.1h0M55.9 228.5h0M56.7 228.9h0M57.5 229.2h0M58.2 229.4h0M59.0 229.7h0M59.8 229.8h0M60.6 230.0h0M61.4 230.2h0M62.2 230.3h0M62.9 230.4h0M63.7 230.4h0M64.5 230.5h0M65.3 230.5h0M66.1 230.5h0M66.8 230.4h0M67.6 230.4h0M68.4 230.3h0M69.2 230.2h0M70.0 230.1h0M70.8 229.9h0M71.5 229.7h0M72.3 229.5h0M73.1 229.3h0M73.9 229.0h0M74.7 228.7h0M75.5 228.4h0M76.2 228.1h0M77.0 227.7h0M77.8 227.2h0M78.6 226.8h0M79.4 226.3h0M80.1 225.8h0M80.9 225.2h0M81.7 224.6h0M82.5 223.9h0M83.3 223.3h0M84.1 222.5h0M84.8 221.8h0M85.6 221.0h0M86.4 220.1h0M87.2 219.3h0M88.0 218.4h0M88.8 217.4h0M89.5 216.4h0M90.3 215.4h0M91.1 214.4h0M91.9 213.3h0M92.7 212.2h0M93.5 211.1h0M94.2 209.9h0M95.0 208.7h0M95.8 207.6h0M96.6 206.4h0M97.4 205.2h0M98.1 204.0h0M98.9 202.8h0M99.7 201.7h0M100.5 200.5h0M101.3 199.4h0M102.1 198.2h0M102.8 197.2h0M103.6 196.1h0M104.4 195.1h0M105.2 194.1h0M106.0 193.2h0M106.8 192.3h0M107.5 191.5h0M108.3 190.8h0M109.1 190.1h0M109.9 189.5h0M110.7 189.0h0M111.4 188.5h0M112.2 188.1h0M113.0 187.8h0M113.8 187.6h0M114.6 187.5h0M115.4 187.4h0M116.1 187.5h0M116.9 187.8h0M117.7 188.2h0M118.5 188.8h0M119.3 189.5h0M120.1 190.5h0M120.8 191.5h0M121.6 192.7h0M122.4 193.9h0M123.2 195.3h0M124.0 196.7h0M124.8 198.2h0M125.5 199.7h0M126.3 201.2h0M127.1 202.7h0M127.9 204.2h0M128.7 205.6h0M129.4 207.0h0M130.2 208.3h0M131.0 209.5h0M131.8 210.7h0M132.6 211.7h0M133.4 212.6h0M134.1 213.5h0M134.9 214.2h0M135.7 214.8h0M136.5 215.3h0M137.3 215.8h0M138.1 216.1h0M138.8 216.4h0M139.6 216.6h0M140.4 216.7h0M141.2 216.9h0M142.0 217.0h0M142.7 217.0h0M143.5 217.1h0M144.3 217.2h0M145.1 217.3h0M145.9 217.4h0M146.7 217.5h0M147.4 217.5h0M148.2 217.6h0M149.0 217.7h0M149.8 217.8h0M150.6 217.8h0M151.4 217.7h0M152.1 217.7h0M152.9 217.6h0M153.7 217.5h0M154.5 217.4h0M155.3 217.2h0M156.1 217.1h0M156.8 217.1h0M157.6 217.2h0M158.4 217.4h0M159.2 217.7h0M160.0 218.1h0M160.7 218.8h0M161.5 219.5h0M162.3 220.4h0M163.1 221.4h0M163.9 222.4h0M164.7 223.5h0M165.4 224.6h0M166.2 225.7h0M167.0 226.8h0M167.8 227.7h0M168.6 228.6h0M169.4 229.4h0M170.1 230.0h0M170.9 230.6h0M171.7 231.1h0M172.5 231.4h0M173.3 231.7h0M174.0 231.9h0M174.8 232.1h0M175.6 232.3h0M176.4 232.4h0M177.2 232.4h0M178.0 232.5h0M178.7 232.5h0M179.5 232.5h0M180.3 232.5h0M181.1 232.6h0M181.9 232.6h0M182.7 232.6h0M183.4 232.5h0M184.2 232.5h0M185.0 232.5h0M185.8 232.5h0M186.6 232.4h0M187.4 232.4h0M188.1 232.3h0M188.9 232.2h0M189.7 232.1h0M190.5 231.9h0M191.3 231.6h0M192.0 231.2h0M192.8 230.7h0M193.6 230.0h0M194.4 229.0h0M195.2 227.8h0M196.0 226.3h0M196.7 224.3h0M197.5 222.0h0M198.3 219.1h0M199.1 215.9h0M199.9 212.3h0M200.7 208.4h0M201.4 204.3h0M202.2 200.0h0M203.0 195.6h0M203.8 191.2h0M204.6 186.8h0M205.3 182.4h0M206.1 178.1h0M206.9 173.9h0M207.7 169.8h0M208.5 165.8h0M209.3 161.8h0M210.0 158.1h0M210.8 154.4h0M211.6 150.8h0M212.4 147.3h0M213.2 143.9h0M214.0 140.7h0M214.7 137.5h0M215.5 134.4h0M216.3 131.5h0M217.1 128.6h0M217.9 125.8h0M218.7 123.1h0M219.4 120.4h0M220.2 117.9h0M221.0 115.4h0M221.8 113.0h0M222.6 110.7h0M223.3 108.5h0M224.1 106.3h0M224.9 104.2h0M225.7 102.1h0M226.5 100.1h0M227.3 98.2h0M228.0 96.4h0M228.8 94.5h0M229.6 92.8h0M230.4 91.1h0M231.2 89.5h0M232.0 87.9h0M232.7 86.3h0M233.5 84.8h0M234.3 83.4h0" stroke="#000080" stroke-width="1.45" stroke-linecap="round"/>
<path d="M46.5 222.1h0M47.3 223.1h0M48.1 224.0h0M48.8 224.8h0M49.6 225.5h0M50.4 226.2h0M51.2 226.8h0M52.0 227.3h0M52.8 227.8h0M53.5 228.2h0M54.3 228.6h0M55.1 228.9h0M55.9 229.2h0M56.7 229.5h0M57.5 229.7h0M58.2 229.9h0M59.0 230.1h0M59.8 230.3h0M60.6 230.4h0M61.4 230.5h0M62.2 230.6h0M62.9 230.6h0M63.7 230.7h0M64.5 230.7h0M65.3 230.7h0M66.1 230.6h0M66.8 230.6h0M67.6 230.5h0M68.4 230.4h0M69.2 230.3h0M70.0 230.1h0M70.8 229.9h0M71.5 229.8h0M72.3 229.5h0M73.1 229.3h0M73.9 229.0h0M74.7 228.7h0M75.5 228.3h0M76.2 228.0h0M77.0 227.5h0M77.8 227.1h0M78.6 226.6h0M79.4 226.1h0M80.1 225.6h0M80.9 225.0h0M81.7 224.3h0M82.5 223.7h0M83.3 223.0h0M84.1 222.2h0M84.8 221.4h0M85.6 220.6h0M86.4 219.7h0M87.2 218.8h0M88.0 217.9h0M88.8 216.9h0M89.5 215.9h0M90.3 214.8h0M91.1 213.7h0M91.9 212.6h0M92.7 211.5h0M93.5 210.3h0M94.2 209.1h0M95.0 207.9h0M95.8 206.7h0M96.6 205.5h0M97.4 204.2h0M98.1 203.0h0M98.9 201.8h0M99.7 200.6h0M100.5 199.4h0M101.3 198.2h0M102.1 197.0h0M102.8 195.9h0M103.6 194.8h0M104.4 193.8h0M105.2 192.8h0M106.0 191.8h0M106.8 190.9h0M107.5 190.1h0M108.3 189.3h0M109.1 188.6h0M109.9 188.0h0M110.7 187.4h0M111.4 186.9h0M112.2 186.5h0M113.0 186.2h0M113.8 186.0h0M114.6 185.9h0M115.4 185.8h0M116.1 185.9h0M116.9 186.2h0M117.7 186.6h0M118.5 187.2h0M119.3 188.0h0M120.1 189.0h0M120.8 190.0h0M121.6 191.3h0M122.4 192.6h0M123.2 194.0h0M124.0 195.5h0M124.8 197.0h0M125.5 198.5h0M126.3 200.1h0M127.1 201.7h0M127.9 203.2h0M128.7 204.7h0M129.4 206.2h0M130.2 207.5h0M131.0 208.8h0M131.8 210.0h0M132.6 211.1h0M133.4 212.1h0M134.1 213.0h0M134.9 213.7h0M135.7 214.4h0M136.5 215.0h0M137.3 215.4h0M138.1 215.8h0M138.8 216.1h0M139.6 216.4h0M140.4 216.5h0M141.2 216.7h0M142.0 216.8h0M142.7 216.9h0M143.5 217.0h0M144.3 217.1h0M145.1 217.1h0M145.9 217.2h0M146.7 217.3h0M147.4 217.3h0M148.2 217.3h0M149.0 217.3h0M149.8 217.3h0M150.6 217.2h0M151.4 217.0h0M152.1 216.8h0M152.9 216.5h0M153.7 216.2h0M154.5 215.9h0M155.3 215.6h0M156.1 215.3h0M156.8 215.1h0M157.6 215.0h0M158.4 215.1h0M159.2 215.3h0M160.0 215.7h0M160.7 216.3h0M161.5 217.2h0M162.3 218.1h0M163.1 219.3h0M163.9 220.5h0M164.7 221.8h0M165.4 223.1h0M166.2 224.4h0M167.0 225.6h0M167.8 226.8h0M168.6 227.8h0M169.4 228.7h0M170.1 229.5h0M170.9 230.2h0M171.7 230.8h0M172.5 231.2h0M173.3 231.6h0M174.0 231.8h0M174.8 232.0h0M175.6 232.2h0M176.4 232.3h0M177.2 232.4h0M178.0 232.5h0M178.7 232.5h0M179.5 232.5h0M180.3 232.5h0M181.1 232.6h0M181.9 232.6h0M182.7 232.6h0M183.4 232.6h0M184.2 232.6h0M185.0 232.6h0M185.8 232.6h0M186.6 232.5h0M187.4 232.5h0M188.1 232.5h0M188.9 232.5h0M189.7 232.4h0M190.5 232.4h0M191.3 232.3h0M192.0 232.1h0M192.8 232.0h0M193.6 231.7h0M194.4 231.4h0M195.2 230.9h0M196.0 230.3h0M196.7 229.5h0M197.5 228.4h0M198.3 227.0h0M199.1 225.2h0M199.9 223.0h0M200.7 220.4h0M201.4 217.3h0M202.2 213.9h0M203.0 210.1h0M203.8 206.1h0M204.6 201.8h0M205.3 197.5h0M206.1 193.1h0M206.9 188.7h0M207.7 184.3h0M208.5 180.0h0M209.3 175.8h0M210.0 171.6h0M210.8 167.6h0M211.6 163.7h0M212.4 159.9h0M213.2 156.1h0M214.0 152.5h0M214.7 149.0h0M215.5 145.6h0M216.3 142.3h0M217.1 139.2h0M217.9 136.1h0M218.7 133.1h0M219.4 130.1h0M220.2 127.3h0M221.0 124.6h0M221.8 121.9h0M222.6 119.4h0M223.3 116.9h0M224.1 114.5h0M224.9 112.1h0M225.7 109.9h0M226.5 107.7h0M227.3 105.5h0M228.0 103.5h0M228.8 101.5h0M229.6 99.5h0M230.4 97.7h0M231.2 95.8h0M232.0 94.1h0M232.7 92.4h0M233.5 90.7h0M234.3 89.1h0" stroke="#ff00ff" stroke-width="1.45" stroke-linecap="round"/>
<path d="M46.5 212.4h0M47.3 214.3h0M48.1 216.1h0M48.8 217.6h0M49.6 219.0h0M50.4 220.3h0M51.2 221.4h0M52.0 222.5h0M52.8 223.4h0M53.5 224.3h0M54.3 225.0h0M55.1 225.7h0M55.9 226.3h0M56.7 226.9h0M57.5 227.3h0M58.2 227.8h0M59.0 228.2h0M59.8 228.5h0M60.6 228.8h0M61.4 229.0h0M62.2 229.2h0M62.9 229.4h0M63.7 229.5h0M64.5 229.6h0M65.3 229.7h0M66.1 229.8h0M66.8 229.8h0M67.6 229.8h0M68.4 229.7h0M69.2 229.6h0M70.0 229.5h0M70.8 229.4h0M71.5 229.2h0M72.3 229.0h0M73.1 228.7h0M73.9 228.5h0M74.7 228.2h0M75.5 227.8h0M76.2 227.4h0M77.0 227.0h0M77.8 226.6h0M78.6 226.1h0M79.4 225.5h0M80.1 224.9h0M80.9 224.3h0M81.7 223.7h0M82.5 223.0h0M83.3 222.2h0M84.1 221.4h0M84.8 220.6h0M85.6 219.7h0M86.4 218.8h0M87.2 217.8h0M88.0 216.8h0M88.8 215.7h0M89.5 214.7h0M90.3 213.5h0M91.1 212.4h0M91.9 211.2h0M92.7 210.0h0M93.5 208.7h0M94.2 207.5h0M95.0 206.2h0M95.8 204.9h0M96.6 203.6h0M97.4 202.3h0M98.1 201.0h0M98.9 199.6h0M99.7 198.3h0M100.5 197.1h0M101.3 195.8h0M102.1 194.6h0M102.8 193.4h0M103.6 192.2h0M104.4 191.1h0M105.2 190.0h0M106.0 189.0h0M106.8 188.0h0M107.5 187.1h0M108.3 186.3h0M109.1 185.6h0M109.9 184.9h0M110.7 184.3h0M111.4 183.8h0M112.2 183.4h0M113.0 183.0h0M113.8 182.8h0M114.6 182.6h0M115.4 182.6h0M116.1 182.7h0M116.9 183.0h0M117.7 183.4h0M118.5 184.1h0M119.3 185.0h0M120.1 186.0h0M120.8 187.1h0M121.6 188.4h0M122.4 189.8h0M123.2 191.4h0M124.0 192.9h0M124.8 194.6h0M125.5 196.3h0M126.3 198.0h0M127.1 199.7h0M127.9 201.3h0M128.7 203.0h0M129.4 204.5h0M130.2 206.0h0M131.0 207.4h0M131.8 208.7h0M132.6 209.9h0M133.4 211.0h0M134.1 212.0h0M134.9 212.9h0M135.7 213.6h0M136.5 214.3h0M137.3 214.8h0M138.1 215.2h0M138.8 215.6h0M139.6 215.9h0M140.4 216.2h0M141.2 216.4h0M142.0 216.5h0M142.7 216.7h0M143.5 216.8h0M144.3 217.0h0M145.1 217.1h0M145.9 217.3h0M146.7 217.4h0M147.4 217.6h0M148.2 217.8h0M149.0 218.0h0M149.8 218.2h0M150.6 218.3h0M151.4 218.5h0M152.1 218.6h0M152.9 218.8h0M153.7 218.9h0M154.5 219.0h0M155.3 219.1h0M156.1 219.2h0M156.8 219.4h0M157.6 219.7h0M158.4 220.0h0M159.2 220.4h0M160.0 220.9h0M160.7 221.5h0M161.5 222.2h0M162.3 222.9h0M163.1 223.7h0M163.9 224.6h0M164.7 225.5h0M165.4 226.4h0M166.2 227.3h0M167.0 228.1h0M167.8 228.8h0M168.6 229.5h0M169.4 230.1h0M170.1 230.6h0M170.9 231.0h0M171.7 231.4h0M172.5 231.7h0M173.3 231.9h0M174.0 232.1h0M174.8 232.2h0M175.6 232.3h0M176.4 232.4h0M177.2 232.5h0M178.0 232.5h0M178.7 232.5h0M179.5 232.5h0M180.3 232.5h0M181.1 232.6h0M181.9 232.6h0M182.7 232.6h0M183.4 232.6h0M184.2 232.5h0M185.0 232.5h0M185.8 232.5h0M186.6 232.5h0M187.4 232.4h0M188.1 232.4h0M188.9 232.3h0M189.7 232.2h0M190.5 232.1h0M191.3 231.9h0M192.0 231.6h0M192.8 231.2h0M193.6 230.7h0M194.4 230.0h0M195.2 229.0h0M196.0 227.8h0M196.7 226.3h0M197.5 224.3h0M198.3 221.9h0M199.1 219.1h0M199.9 215.8h0M200.7 212.2h0M201.4 208.3h0M202.2 204.2h0M203.0 199.8h0M203.8 195.4h0M204.6 191.0h0M205.3 186.6h0M206.1 182.2h0M206.9 177.9h0M207.7 173.6h0M208.5 169.5h0M209.3 165.5h0M210.0 161.6h0M210.8 157.7h0M211.6 154.0h0M212.4 150.4h0M213.2 147.0h0M214.0 143.6h0M214.7 140.3h0M215.5 137.1h0M216.3 134.0h0M217.1 131.0h0M217.9 128.1h0M218.7 125.3h0M219.4 122.6h0M220.2 120.0h0M221.0 117.4h0M221.8 114.9h0M222.6 112.5h0M223.3 110.2h0M224.1 107.9h0M224.9 105.8h0M225.7 103.6h0M226.5 101.6h0M227.3 99.6h0M228.0 97.7h0M228.8 95.8h0M229.6 94.0h0M230.4 92.2h0M231.2 90.5h0M232.0 88.9h0M232.7 87.3h0M233.5 85.7h0M234.3 84.2h0" stroke="#10b010" stroke-width="1.45" stroke-linecap="round"/>
<path d="M46.5 220.5h0M47.3 221.6h0M48.1 222.7h0M48.8 223.6h0M49.6 224.4h0M50.4 225.2h0M51.2 225.9h0M52.0 226.5h0M52.8 227.0h0M53.5 227.5h0M54.3 228.0h0M55.1 228.4h0M55.9 228.7h0M56.7 229.1h0M57.5 229.3h0M58.2 229.6h0M59.0 229.8h0M59.8 230.0h0M60.6 230.1h0M61.4 230.2h0M62.2 230.3h0M62.9 230.4h0M63.7 230.5h0M64.5 230.5h0M65.3 230.5h0M66.1 230.5h0M66.8 230.4h0M67.6 230.3h0M68.4 230.2h0M69.2 230.1h0M70.0 230.0h0M70.8 229.8h0M71.5 229.6h0M72.3 229.4h0M73.1 229.1h0M73.9 228.8h0M74.7 228.5h0M75.5 228.2h0M76.2 227.8h0M77.0 227.3h0M77.8 226.9h0M78.6 226.4h0M79.4 225.9h0M80.1 225.3h0M80.9 224.7h0M81.7 224.0h0M82.5 223.3h0M83.3 222.6h0M84.1 221.8h0M84.8 221.0h0M85.6 220.2h0M86.4 219.3h0M87.2 218.3h0M88.0 217.3h0M88.8 216.3h0M89.5 215.3h0M90.3 214.2h0M91.1 213.1h0M91.9 211.9h0M92.7 210.7h0M93.5 209.5h0M94.2 208.3h0M95.0 207.1h0M95.8 205.8h0M96.6 204.5h0M97.4 203.3h0M98.1 202.0h0M98.9 200.7h0M99.7 199.5h0M100.5 198.2h0M101.3 197.0h0M102.1 195.8h0M102.8 194.6h0M103.6 193.5h0M104.4 192.4h0M105.2 191.4h0M106.0 190.4h0M106.8 189.5h0M107.5 188.6h0M108.3 187.8h0M109.1 187.1h0M109.9 186.4h0M110.7 185.9h0M111.4 185.4h0M112.2 185.0h0M113.0 184.6h0M113.8 184.4h0M114.6 184.3h0M115.4 184.2h0M116.1 184.3h0M116.9 184.6h0M117.7 185.0h0M118.5 185.7h0M119.3 186.5h0M120.1 187.5h0M120.8 188.6h0M121.6 189.8h0M122.4 191.2h0M123.2 192.7h0M124.0 194.2h0M124.8 195.8h0M125.5 197.4h0M126.3 199.0h0M127.1 200.7h0M127.9 202.3h0M128.7 203.8h0M129.4 205.3h0M130.2 206.8h0M131.0 208.1h0M131.8 209.4h0M132.6 210.5h0M133.4 211.6h0M134.1 212.5h0M134.9 213.3h0M135.7 214.0h0M136.5 214.6h0M137.3 215.1h0M138.1 215.5h0M138.8 215.9h0M139.6 216.1h0M140.4 216.3h0M141.2 216.5h0M142.0 216.6h0M142.7 216.7h0M143.5 216.8h0M144.3 216.9h0M145.1 217.0h0M145.9 217.0h0M146.7 217.0h0M147.4 217.0h0M148.2 217.0h0M149.0 216.9h0M149.8 216.7h0M150.6 216.4h0M151.4 216.1h0M152.1 215.7h0M152.9 215.2h0M153.7 214.6h0M154.5 214.1h0M155.3 213.5h0M156.1 213.0h0M156.8 212.6h0M157.6 212.3h0M158.4 212.2h0M159.2 212.4h0M160.0 212.7h0M160.7 213.4h0M161.5 214.3h0M162.3 215.4h0M163.1 216.7h0M163.9 218.1h0M164.7 219.6h0M165.4 221.2h0M166.2 222.7h0M167.0 224.2h0M167.8 225.6h0M168.6 226.8h0M169.4 228.0h0M170.1 228.9h0M170.9 229.7h0M171.7 230.4h0M172.5 230.9h0M173.3 231.4h0M174.0 231.7h0M174.8 231.9h0M175.6 232.1h0M176.4 232.3h0M177.2 232.4h0M178.0 232.4h0M178.7 232.5h0M179.5 232.5h0M180.3 232.5h0M181.1 232.5h0M181.9 232.5h0M182.7 232.5h0M183.4 232.4h0M184.2 232.4h0M185.0 232.3h0M185.8 232.2h0M186.6 232.1h0M187.4 231.9h0M188.1 231.6h0M188.9 231.3h0M189.7 230.8h0M190.5 230.1h0M191.3 229.2h0M192.0 228.0h0M192.8 226.5h0M193.6 224.6h0M194.4 222.3h0M195.2 219.5h0M196.0 216.3h0M196.7 212.7h0M197.5 208.7h0M198.3 204.5h0M199.1 200.2h0M199.9 195.7h0M200.7 191.2h0M201.4 186.7h0M202.2 182.2h0M203.0 177.8h0M203.8 173.5h0M204.6 169.3h0M205.3 165.2h0M206.1 161.2h0M206.9 157.3h0M207.7 153.5h0M208.5 149.8h0M209.3 146.3h0M210.0 142.8h0M210.8 139.4h0M211.6 136.2h0M212.4 133.0h0M213.2 130.0h0M214.0 127.0h0M214.7 124.1h0M215.5 121.4h0M216.3 118.7h0M217.1 116.0h0M217.9 113.5h0M218.7 111.0h0M219.4 108.7h0M220.2 106.4h0M221.0 104.1h0M221.8 101.9h0M222.6 99.8h0M223.3 97.8h0M224.1 95.8h0M224.9 93.9h0M225.7 92.1h0M226.5 90.3h0M227.3 88.5h0M228.0 86.8h0M228.8 85.2h0M229.6 83.6h0M230.4 82.1h0M231.2 80.6h0M232.0 79.1h0M232.7 77.7h0M233.5 76.4h0M234.3 75.1h0" stroke="#8000a0" stroke-width="1.45" stroke-linecap="round"/>
<path d="M46.5 90.0h0M47.3 96.0h0M48.1 101.9h0M48.8 107.7h0M49.6 113.4h0M50.4 118.9h0M51.2 124.4h0M52.0 129.8h0M52.8 135.0h0M53.5 140.2h0M54.3 145.2h0M55.1 150.2h0M55.9 155.0h0M56.7 159.7h0M57.5 164.3h0M58.2 168.8h0M59.0 173.1h0M59.8 177.4h0M60.6 181.5h0M61.4 185.5h0M62.2 189.3h0M62.9 193.1h0M63.7 196.7h0M64.5 200.1h0M65.3 203.4h0M66.1 206.6h0M66.8 209.6h0M67.6 212.5h0M68.4 215.1h0M69.2 217.7h0M70.0 220.0h0M70.8 222.2h0M71.5 224.2h0M72.3 225.9h0M73.1 227.5h0M73.9 228.8h0M74.7 229.8h0M75.5 230.5h0M76.2 230.8h0M77.0 230.6h0M77.8 230.4h0M79.4 230.0h0M81.7 229.2h0M84.1 228.3h0M86.4 227.3h0M88.8 226.1h0M91.1 224.8h0M93.5 223.4h0M95.8 221.9h0M98.1 220.4h0M100.5 218.8h0M102.8 217.4h0M105.2 216.1h0M107.5 215.0h0M109.9 214.1h0M112.2 213.5h0M114.6 213.2h0M116.9 213.4h0M119.3 214.1h0M121.6 215.4h0M124.0 217.1h0M126.3 218.9h0M128.7 220.6h0M131.0 222.1h0M133.4 223.1h0M135.7 223.7h0M138.1 223.9h0M140.4 223.8h0M142.7 223.6h0M145.1 223.6h0M147.4 223.8h0M149.8 224.2h0M152.1 224.7h0M154.5 225.3h0M156.8 226.0h0M159.2 226.9h0M161.5 227.9h0M163.9 229.1h0M166.2 230.3h0M168.6 231.3h0M170.9 231.9h0M173.3 232.3h0M175.6 232.5h0M178.0 232.5h0M180.3 232.6h0M182.7 232.5h0M185.0 232.5h0M187.4 232.3h0M189.7 231.8h0M190.5 231.5h0M191.3 231.1h0M192.0 230.5h0M192.8 229.8h0M193.6 228.8h0M194.4 227.5h0M195.2 225.9h0M196.0 223.8h0M196.7 221.3h0M197.5 218.4h0M198.3 215.1h0M199.1 211.4h0M199.9 207.4h0M200.7 203.2h0M201.4 198.8h0M202.2 194.4h0M203.0 189.9h0M203.8 185.5h0M204.6 181.1h0M205.3 176.8h0M206.1 172.6h0M206.9 168.4h0M207.7 164.4h0M208.5 160.5h0M209.3 156.7h0M210.0 153.0h0M210.8 149.4h0M211.6 145.9h0M212.4 142.5h0M213.2 139.3h0M214.0 136.1h0M214.7 133.0h0M215.5 130.0h0M216.3 127.1h0M217.1 124.3h0M217.9 121.6h0M218.7 119.0h0M219.4 116.4h0M220.2 114.0h0M221.0 111.6h0M221.8 109.2h0M222.6 107.0h0M223.3 104.8h0M224.1 102.7h0M224.9 100.6h0M225.7 98.7h0M226.5 96.7h0M227.3 94.9h0M228.0 93.0h0M228.8 91.3h0M229.6 89.6h0M230.4 87.9h0M231.2 86.3h0M232.0 84.8h0M232.7 83.3h0M233.5 81.8h0M234.3 80.4h0" stroke="#000000" stroke-width="1.5" stroke-linecap="round"/>
<path d="M187.8 232.6h0M188.3 232.6h0M188.8 232.6h0M189.2 232.6h0M189.7 232.6h0M190.2 232.6h0M190.6 232.6h0M191.1 232.5h0M191.6 232.5h0M192.0 232.5h0M192.5 232.5h0M193.0 232.5h0M193.5 232.5h0M193.9 232.5h0M194.4 232.5h0M194.9 232.4h0M195.3 232.4h0M195.8 232.4h0M196.3 232.4h0M196.7 232.3h0M197.2 232.3h0M197.7 232.2h0M198.1 232.2h0M198.6 232.1h0M199.1 232.0h0M199.6 231.9h0M200.0 231.8h0M200.5 231.7h0M201.0 231.5h0M201.4 231.4h0M201.9 231.2h0M202.4 230.9h0M202.8 230.7h0M203.3 230.4h0M203.8 230.0h0M204.3 229.6h0M204.7 229.2h0M205.2 228.7h0M205.7 228.1h0M206.1 227.5h0M206.6 226.8h0M207.1 226.1h0M207.5 225.3h0M208.0 224.5h0M208.5 223.6h0M208.9 222.7h0M209.4 221.8h0M209.9 220.8h0M210.4 219.9h0M210.8 219.0h0M211.3 218.1h0M211.8 217.3h0M212.2 216.5h0M212.7 215.8h0M213.2 215.2h0M213.6 214.7h0M214.1 214.2h0M214.6 213.9h0M215.1 213.6h0M215.5 213.4h0M216.0 213.3h0M216.5 213.3h0M216.9 213.4h0M217.4 213.5h0M217.9 213.7h0M218.3 214.0h0M218.8 214.2h0M219.3 214.5h0M219.7 214.8h0M220.2 215.1h0M220.7 215.4h0M221.2 215.7h0M221.6 215.9h0M222.1 216.2h0M222.6 216.4h0M223.0 216.6h0M223.5 216.7h0M224.0 216.8h0M224.4 216.9h0M224.9 217.0h0M225.4 217.0h0M225.8 217.0h0M226.3 217.0h0M226.8 217.0h0M227.3 216.9h0M227.7 216.8h0M228.2 216.8h0M228.7 216.7h0M229.1 216.6h0M229.6 216.5h0M230.1 216.3h0M230.5 216.2h0M231.0 216.1h0M231.5 216.0h0M232.0 215.9h0M232.4 215.8h0M232.9 215.7h0M233.4 215.6h0M233.8 215.5h0M234.3 215.5h0" stroke="#000000" stroke-width="1.5" stroke-linecap="round"/>
</g>
<g clip-path="url(#cb)">
<path d="M297.3 229.4h0M298.1 229.4h0M298.8 229.4h0M299.6 229.5h0M300.4 229.5h0M301.1 229.5h0M301.9 229.6h0M302.7 229.6h0M303.4 229.6h0M304.2 229.7h0M305.0 229.7h0M305.7 229.7h0M306.5 229.8h0M307.3 229.8h0M308.0 229.9h0M308.8 229.9h0M309.6 229.9h0M310.3 230.0h0M311.1 230.0h0M311.9 230.0h0M312.7 230.1h0M313.4 230.1h0M314.2 230.1h0M315.0 230.2h0M315.7 230.2h0M316.5 230.2h0M317.3 230.3h0M318.0 230.3h0M318.8 230.3h0M319.6 230.4h0M320.3 230.4h0M321.1 230.5h0M321.9 230.5h0M322.6 230.5h0M323.4 230.6h0M324.2 230.6h0M324.9 230.6h0M325.7 230.7h0M326.5 230.7h0M327.2 230.7h0M328.0 230.8h0M328.8 230.8h0M329.5 230.8h0M330.3 230.8h0M331.1 230.7h0M331.8 230.7h0M332.6 230.5h0M333.4 230.2h0M334.1 229.9h0M334.9 229.4h0M335.7 228.9h0M336.4 228.4h0M337.2 227.9h0M338.0 227.6h0M338.7 227.6h0M339.5 227.7h0M340.3 228.1h0M341.0 228.6h0M341.8 229.2h0M342.6 229.7h0M343.4 230.3h0M344.1 230.7h0M344.9 231.0h0M345.7 231.3h0M346.4 231.4h0M347.2 231.6h0M348.0 231.6h0M348.7 231.7h0M349.5 231.7h0M350.3 231.8h0M351.0 231.8h0M351.8 231.9h0M352.6 231.9h0M353.3 231.9h0M354.1 232.0h0M354.9 232.0h0M355.6 232.0h0M356.4 232.1h0M357.2 232.1h0M357.9 232.1h0M358.7 232.2h0M359.5 232.2h0M360.2 232.3h0M361.0 232.3h0M361.8 232.4h0M362.5 232.4h0M363.3 232.5h0M364.1 232.5h0M364.8 232.6h0M365.6 232.6h0M366.4 232.7h0M367.1 232.8h0M367.9 232.8h0M368.7 232.9h0M369.4 233.0h0M370.2 233.0h0M371.0 233.1h0M371.7 233.2h0M372.5 233.3h0M373.3 233.3h0M374.1 233.4h0M374.8 233.5h0M375.6 233.5h0M376.4 233.6h0M377.1 233.6h0M377.9 233.6h0M378.7 233.7h0M379.4 233.7h0M380.2 233.7h0M381.0 233.7h0M381.7 233.6h0M382.5 233.6h0M383.3 233.5h0M384.0 233.5h0M384.8 233.4h0M385.6 233.2h0M386.3 233.0h0M387.1 232.8h0M387.9 232.6h0M388.6 232.2h0M389.4 231.8h0M390.2 231.4h0M390.9 230.8h0M391.7 230.1h0M392.5 229.4h0M393.2 228.4h0M394.0 227.4h0M394.8 226.2h0M395.5 224.9h0M396.3 223.5h0M397.1 222.1h0M397.8 220.5h0M398.6 219.0h0M399.4 217.4h0M400.1 215.8h0M400.9 214.4h0M401.7 213.0h0M402.4 211.8h0M403.2 210.8h0M404.0 210.1h0M404.8 209.6h0M405.5 209.4h0M406.3 209.5h0M407.1 209.9h0M407.8 210.6h0M408.6 211.6h0M409.4 212.9h0M410.1 214.4h0M410.9 216.2h0M411.7 218.1h0M412.4 220.0h0M413.2 221.9h0M414.0 223.8h0M414.7 225.5h0M415.5 227.1h0M416.3 228.4h0M417.0 229.6h0M417.8 230.6h0M418.6 231.4h0M419.3 232.0h0M420.1 232.5h0M420.9 232.9h0M421.6 233.2h0M422.4 233.4h0M423.2 233.5h0M423.9 233.6h0M424.7 233.6h0M425.5 233.6h0M426.2 233.6h0M427.0 233.6h0M427.8 233.6h0M428.5 233.5h0M429.3 233.4h0M430.1 233.3h0M430.8 233.2h0M431.6 233.1h0M432.4 232.9h0M433.1 232.7h0M433.9 232.5h0M434.7 232.2h0M435.5 231.9h0M436.2 231.5h0M437.0 231.2h0M437.8 230.8h0M438.5 230.4h0M439.3 230.0h0M440.1 229.6h0M440.8 229.2h0M441.6 228.9h0M442.4 228.6h0M443.1 228.3h0M443.9 228.0h0M444.7 227.8h0M445.4 227.6h0M446.2 227.5h0M447.0 227.4h0M447.7 227.4h0M448.5 227.3h0M449.3 227.3h0M450.0 227.4h0M450.8 227.4h0M451.6 227.4h0M452.3 227.4h0M453.1 227.4h0M453.9 227.4h0M454.6 227.4h0M455.4 227.3h0M456.2 227.2h0M456.9 227.0h0M457.7 226.8h0M458.5 226.6h0M459.2 226.3h0M460.0 226.0h0M460.8 225.7h0M461.5 225.3h0M462.3 225.0h0M463.1 224.6h0M463.8 224.2h0M464.6 223.8h0M465.4 223.4h0M466.2 223.0h0M466.9 222.6h0M467.7 222.2h0M468.5 221.7h0M469.2 221.3h0M470.0 220.9h0M470.8 220.5h0M471.5 220.1h0M472.3 219.6h0M473.1 219.2h0M473.8 218.8h0M474.6 218.4h0M475.4 218.0h0M476.1 217.5h0M476.9 217.1h0M477.7 216.7h0M478.4 216.3h0M479.2 215.9h0M480.0 215.4h0M480.7 215.0h0M481.5 214.6h0" stroke="#00a0a0" stroke-width="1.8" stroke-linecap="round"/>
<path d="M297.3 230.1h0M298.1 230.1h0M298.8 230.2h0M299.6 230.2h0M300.4 230.2h0M301.1 230.2h0M301.9 230.3h0M302.7 230.3h0M303.4 230.3h0M304.2 230.4h0M305.0 230.4h0M305.7 230.4h0M306.5 230.4h0M307.3 230.5h0M308.0 230.5h0M308.8 230.5h0M309.6 230.6h0M310.3 230.6h0M311.1 230.6h0M311.9 230.7h0M312.7 230.7h0M313.4 230.7h0M314.2 230.7h0M315.0 230.8h0M315.7 230.8h0M316.5 230.8h0M317.3 230.9h0M318.0 230.9h0M318.8 230.9h0M319.6 230.9h0M320.3 231.0h0M321.1 231.0h0M321.9 231.0h0M322.6 231.1h0M323.4 231.1h0M324.2 231.1h0M324.9 231.2h0M325.7 231.2h0M326.5 231.2h0M327.2 231.2h0M328.0 231.3h0M328.8 231.3h0M329.5 231.3h0M330.3 231.2h0M331.1 231.2h0M331.8 231.0h0M332.6 230.8h0M333.4 230.5h0M334.1 230.1h0M334.9 229.7h0M335.7 229.3h0M336.4 229.0h0M337.2 228.8h0M338.0 228.7h0M338.7 228.8h0M339.5 229.1h0M340.3 229.5h0M341.0 230.0h0M341.8 230.4h0M342.6 230.9h0M343.4 231.2h0M344.1 231.5h0M344.9 231.7h0M345.7 231.8h0M346.4 231.9h0M347.2 232.0h0M348.0 232.0h0M348.7 232.0h0M349.5 232.1h0M350.3 232.1h0M351.0 232.1h0M351.8 232.2h0M352.6 232.2h0M353.3 232.2h0M354.1 232.2h0M354.9 232.3h0M355.6 232.3h0M356.4 232.3h0M357.2 232.4h0M357.9 232.4h0M358.7 232.4h0M359.5 232.5h0M360.2 232.5h0M361.0 232.5h0M361.8 232.6h0M362.5 232.6h0M363.3 232.7h0M364.1 232.7h0M364.8 232.8h0M365.6 232.8h0M366.4 232.9h0M367.1 232.9h0M367.9 233.0h0M368.7 233.1h0M369.4 233.1h0M370.2 233.2h0M371.0 233.3h0M371.7 233.3h0M372.5 233.4h0M373.3 233.5h0M374.1 233.5h0M374.8 233.6h0M375.6 233.6h0M376.4 233.7h0M377.1 233.7h0M377.9 233.7h0M378.7 233.8h0M379.4 233.8h0M380.2 233.8h0M381.0 233.7h0M381.7 233.7h0M382.5 233.6h0M383.3 233.6h0M384.0 233.5h0M384.8 233.4h0M385.6 233.2h0M386.3 233.0h0M387.1 232.8h0M387.9 232.5h0M388.6 232.1h0M389.4 231.7h0M390.2 231.2h0M390.9 230.5h0M391.7 229.8h0M392.5 228.9h0M393.2 227.9h0M394.0 226.8h0M394.8 225.5h0M395.5 224.1h0M396.3 222.6h0M397.1 221.0h0M397.8 219.3h0M398.6 217.6h0M399.4 215.9h0M400.1 214.2h0M400.9 212.6h0M401.7 211.1h0M402.4 209.8h0M403.2 208.7h0M404.0 207.9h0M404.8 207.4h0M405.5 207.2h0M406.3 207.3h0M407.1 207.7h0M407.8 208.5h0M408.6 209.6h0M409.4 211.0h0M410.1 212.7h0M410.9 214.6h0M411.7 216.6h0M412.4 218.7h0M413.2 220.8h0M414.0 222.8h0M414.7 224.7h0M415.5 226.4h0M416.3 227.9h0M417.0 229.2h0M417.8 230.3h0M418.6 231.2h0M419.3 231.9h0M420.1 232.4h0M420.9 232.8h0M421.6 233.1h0M422.4 233.3h0M423.2 233.5h0M423.9 233.5h0M424.7 233.6h0M425.5 233.6h0M426.2 233.6h0M427.0 233.6h0M427.8 233.5h0M428.5 233.5h0M429.3 233.4h0M430.1 233.3h0M430.8 233.2h0M431.6 233.0h0M432.4 232.8h0M433.1 232.6h0M433.9 232.3h0M434.7 232.0h0M435.5 231.6h0M436.2 231.3h0M437.0 230.8h0M437.8 230.4h0M438.5 230.0h0M439.3 229.5h0M440.1 229.1h0M440.8 228.7h0M441.6 228.3h0M442.4 227.9h0M443.1 227.6h0M443.9 227.4h0M444.7 227.1h0M445.4 227.0h0M446.2 226.8h0M447.0 226.7h0M447.7 226.6h0M448.5 226.6h0M449.3 226.6h0M450.0 226.6h0M450.8 226.7h0M451.6 226.7h0M452.3 226.7h0M453.1 226.7h0M453.9 226.7h0M454.6 226.6h0M455.4 226.5h0M456.2 226.4h0M456.9 226.2h0M457.7 226.0h0M458.5 225.8h0M459.2 225.5h0M460.0 225.2h0M460.8 224.8h0M461.5 224.4h0M462.3 224.1h0M463.1 223.7h0M463.8 223.2h0M464.6 222.8h0M465.4 222.4h0M466.2 222.0h0M466.9 221.5h0M467.7 221.1h0M468.5 220.7h0M469.2 220.2h0M470.0 219.8h0M470.8 219.3h0M471.5 218.9h0M472.3 218.5h0M473.1 218.0h0M473.8 217.6h0M474.6 217.1h0M475.4 216.7h0M476.1 216.2h0M476.9 215.8h0M477.7 215.3h0M478.4 214.9h0M479.2 214.5h0M480.0 214.0h0M480.7 213.6h0M481.5 213.1h0" stroke="#10b010" stroke-width="1.8" stroke-linecap="round"/>
<path d="M297.3 226.4h0M298.1 226.5h0M298.8 226.5h0M299.6 226.6h0M300.4 226.6h0M301.1 226.7h0M301.9 226.8h0M302.7 226.8h0M303.4 226.9h0M304.2 226.9h0M305.0 227.0h0M305.7 227.1h0M306.5 227.1h0M307.3 227.2h0M308.0 227.2h0M308.8 227.3h0M309.6 227.3h0M310.3 227.4h0M311.1 227.5h0M311.9 227.5h0M312.7 227.6h0M313.4 227.6h0M314.2 227.7h0M315.0 227.8h0M315.7 227.8h0M316.5 227.9h0M317.3 227.9h0M318.0 228.0h0M318.8 228.1h0M319.6 228.1h0M320.3 228.2h0M321.1 228.2h0M321.9 228.3h0M322.6 228.4h0M323.4 228.4h0M324.2 228.5h0M324.9 228.5h0M325.7 228.6h0M326.5 228.6h0M327.2 228.7h0M328.0 228.8h0M328.8 228.8h0M329.5 228.9h0M330.3 228.9h0M331.1 228.9h0M331.8 228.8h0M332.6 228.6h0M333.4 228.3h0M334.1 227.8h0M334.9 227.1h0M335.7 226.3h0M336.4 225.4h0M337.2 224.5h0M338.0 223.7h0M338.7 223.1h0M339.5 223.0h0M340.3 223.3h0M341.0 223.9h0M341.8 224.8h0M342.6 225.9h0M343.4 226.9h0M344.1 227.8h0M344.9 228.6h0M345.7 229.2h0M346.4 229.6h0M347.2 229.9h0M348.0 230.1h0M348.7 230.3h0M349.5 230.4h0M350.3 230.4h0M351.0 230.5h0M351.8 230.6h0M352.6 230.6h0M353.3 230.7h0M354.1 230.8h0M354.9 230.8h0M355.6 230.9h0M356.4 230.9h0M357.2 231.0h0M357.9 231.1h0M358.7 231.1h0M359.5 231.2h0M360.2 231.2h0M361.0 231.3h0M361.8 231.4h0M362.5 231.5h0M363.3 231.5h0M364.1 231.6h0M364.8 231.7h0M365.6 231.8h0M366.4 231.9h0M367.1 231.9h0M367.9 232.0h0M368.7 232.1h0M369.4 232.2h0M370.2 232.3h0M371.0 232.4h0M371.7 232.5h0M372.5 232.6h0M373.3 232.7h0M374.1 232.8h0M374.8 232.9h0M375.6 233.0h0M376.4 233.0h0M377.1 233.1h0M377.9 233.2h0M378.7 233.2h0M379.4 233.2h0M380.2 233.3h0M381.0 233.3h0M381.7 233.3h0M382.5 233.2h0M383.3 233.2h0M384.0 233.1h0M384.8 233.0h0M385.6 232.9h0M386.3 232.7h0M387.1 232.5h0M387.9 232.2h0M388.6 231.8h0M389.4 231.4h0M390.2 230.9h0M390.9 230.2h0M391.7 229.5h0M392.5 228.6h0M393.2 227.5h0M394.0 226.3h0M394.8 224.9h0M395.5 223.4h0M396.3 221.8h0M397.1 220.1h0M397.8 218.3h0M398.6 216.4h0M399.4 214.6h0M400.1 212.8h0M400.9 211.1h0M401.7 209.5h0M402.4 208.1h0M403.2 206.9h0M404.0 206.1h0M404.8 205.5h0M405.5 205.3h0M406.3 205.4h0M407.1 205.8h0M407.8 206.6h0M408.6 207.8h0M409.4 209.3h0M410.1 211.2h0M410.9 213.2h0M411.7 215.4h0M412.4 217.6h0M413.2 219.9h0M414.0 222.1h0M414.7 224.1h0M415.5 225.9h0M416.3 227.5h0M417.0 228.9h0M417.8 230.1h0M418.6 231.0h0M419.3 231.7h0M420.1 232.3h0M420.9 232.8h0M421.6 233.1h0M422.4 233.3h0M423.2 233.4h0M423.9 233.5h0M424.7 233.6h0M425.5 233.6h0M426.2 233.6h0M427.0 233.5h0M427.8 233.5h0M428.5 233.4h0M429.3 233.3h0M430.1 233.2h0M430.8 233.0h0M431.6 232.8h0M432.4 232.6h0M433.1 232.3h0M433.9 232.0h0M434.7 231.6h0M435.5 231.2h0M436.2 230.7h0M437.0 230.1h0M437.8 229.6h0M438.5 229.0h0M439.3 228.4h0M440.1 227.9h0M440.8 227.3h0M441.6 226.8h0M442.4 226.3h0M443.1 225.9h0M443.9 225.5h0M444.7 225.2h0M445.4 224.9h0M446.2 224.7h0M447.0 224.6h0M447.7 224.5h0M448.5 224.5h0M449.3 224.5h0M450.0 224.6h0M450.8 224.6h0M451.6 224.7h0M452.3 224.8h0M453.1 224.8h0M453.9 224.8h0M454.6 224.7h0M455.4 224.6h0M456.2 224.4h0M456.9 224.1h0M457.7 223.7h0M458.5 223.3h0M459.2 222.8h0M460.0 222.3h0M460.8 221.7h0M461.5 221.1h0M462.3 220.5h0M463.1 219.8h0M463.8 219.1h0M464.6 218.4h0M465.4 217.7h0M466.2 216.9h0M466.9 216.2h0M467.7 215.5h0M468.5 214.7h0M469.2 214.0h0M470.0 213.3h0M470.8 212.5h0M471.5 211.8h0M472.3 211.0h0M473.1 210.3h0M473.8 209.5h0M474.6 208.8h0M475.4 208.0h0M476.1 207.3h0M476.9 206.5h0M477.7 205.8h0M478.4 205.0h0M479.2 204.3h0M480.0 203.5h0M480.7 202.8h0M481.5 202.1h0" stroke="#ff00ff" stroke-width="1.8" stroke-linecap="round"/>
<path d="M297.3 225.7h0M298.1 225.7h0M298.8 225.8h0M299.6 225.9h0M300.4 225.9h0M301.1 226.0h0M301.9 226.1h0M302.7 226.1h0M303.4 226.2h0M304.2 226.2h0M305.0 226.3h0M305.7 226.4h0M306.5 226.4h0M307.3 226.5h0M308.0 226.6h0M308.8 226.6h0M309.6 226.7h0M310.3 226.8h0M311.1 226.8h0M311.9 226.9h0M312.7 227.0h0M313.4 227.0h0M314.2 227.1h0M315.0 227.2h0M315.7 227.2h0M316.5 227.3h0M317.3 227.4h0M318.0 227.4h0M318.8 227.5h0M319.6 227.6h0M320.3 227.6h0M321.1 227.7h0M321.9 227.7h0M322.6 227.8h0M323.4 227.9h0M324.2 227.9h0M324.9 228.0h0M325.7 228.1h0M326.5 228.1h0M327.2 228.2h0M328.0 228.3h0M328.8 228.3h0M329.5 228.4h0M330.3 228.4h0M331.1 228.4h0M331.8 228.3h0M332.6 228.1h0M333.4 227.7h0M334.1 227.2h0M334.9 226.4h0M335.7 225.5h0M336.4 224.5h0M337.2 223.5h0M338.0 222.6h0M338.7 222.0h0M339.5 221.9h0M340.3 222.1h0M341.0 222.8h0M341.8 223.9h0M342.6 225.0h0M343.4 226.2h0M344.1 227.2h0M344.9 228.1h0M345.7 228.7h0M346.4 229.2h0M347.2 229.6h0M348.0 229.8h0M348.7 229.9h0M349.5 230.0h0M350.3 230.1h0M351.0 230.2h0M351.8 230.3h0M352.6 230.3h0M353.3 230.4h0M354.1 230.5h0M354.9 230.5h0M355.6 230.6h0M356.4 230.6h0M357.2 230.7h0M357.9 230.8h0M358.7 230.9h0M359.5 230.9h0M360.2 231.0h0M361.0 231.1h0M361.8 231.1h0M362.5 231.2h0M363.3 231.3h0M364.1 231.4h0M364.8 231.5h0M365.6 231.6h0M366.4 231.6h0M367.1 231.7h0M367.9 231.8h0M368.7 231.9h0M369.4 232.0h0M370.2 232.1h0M371.0 232.2h0M371.7 232.4h0M372.5 232.5h0M373.3 232.6h0M374.1 232.6h0M374.8 232.7h0M375.6 232.8h0M376.4 232.9h0M377.1 233.0h0M377.9 233.0h0M378.7 233.1h0M379.4 233.1h0M380.2 233.1h0M381.0 233.2h0M381.7 233.1h0M382.5 233.1h0M383.3 233.1h0M384.0 233.0h0M384.8 232.9h0M385.6 232.8h0M386.3 232.6h0M387.1 232.4h0M387.9 232.1h0M388.6 231.7h0M389.4 231.2h0M390.2 230.7h0M390.9 230.0h0M391.7 229.2h0M392.5 228.2h0M393.2 227.1h0M394.0 225.8h0M394.8 224.3h0M395.5 222.8h0M396.3 221.0h0M397.1 219.2h0M397.8 217.3h0M398.6 215.3h0M399.4 213.4h0M400.1 211.5h0M400.9 209.6h0M401.7 208.0h0M402.4 206.5h0M403.2 205.3h0M404.0 204.3h0M404.8 203.8h0M405.5 203.5h0M406.3 203.6h0M407.1 204.1h0M407.8 205.0h0M408.6 206.2h0M409.4 207.8h0M410.1 209.7h0M410.9 211.9h0M411.7 214.2h0M412.4 216.6h0M413.2 219.0h0M414.0 221.3h0M414.7 223.5h0M415.5 225.4h0M416.3 227.1h0M417.0 228.6h0M417.8 229.8h0M418.6 230.8h0M419.3 231.6h0M420.1 232.2h0M420.9 232.7h0M421.6 233.0h0M422.4 233.2h0M423.2 233.4h0M423.9 233.5h0M424.7 233.5h0M425.5 233.5h0M426.2 233.5h0M427.0 233.4h0M427.8 233.3h0M428.5 233.2h0M429.3 233.1h0M430.1 232.9h0M430.8 232.7h0M431.6 232.4h0M432.4 232.0h0M433.1 231.6h0M433.9 231.1h0M434.7 230.6h0M435.5 229.9h0M436.2 229.2h0M437.0 228.5h0M437.8 227.7h0M438.5 226.8h0M439.3 226.0h0M440.1 225.2h0M440.8 224.4h0M441.6 223.6h0M442.4 222.9h0M443.1 222.2h0M443.9 221.7h0M444.7 221.2h0M445.4 220.8h0M446.2 220.5h0M447.0 220.3h0M447.7 220.2h0M448.5 220.1h0M449.3 220.2h0M450.0 220.3h0M450.8 220.4h0M451.6 220.5h0M452.3 220.6h0M453.1 220.6h0M453.9 220.6h0M454.6 220.5h0M455.4 220.2h0M456.2 219.9h0M456.9 219.4h0M457.7 218.9h0M458.5 218.2h0M459.2 217.5h0M460.0 216.6h0M460.8 215.7h0M461.5 214.7h0M462.3 213.7h0M463.1 212.6h0M463.8 211.5h0M464.6 210.4h0M465.4 209.2h0M466.2 208.1h0M466.9 206.9h0M467.7 205.7h0M468.5 204.6h0M469.2 203.4h0M470.0 202.2h0M470.8 201.0h0M471.5 199.8h0M472.3 198.6h0M473.1 197.4h0M473.8 196.2h0M474.6 195.1h0M475.4 193.9h0M476.1 192.7h0M476.9 191.5h0M477.7 190.3h0M478.4 189.1h0M479.2 187.9h0M480.0 186.7h0M480.7 185.5h0M481.5 184.3h0" stroke="#ff0030" stroke-width="1.8" stroke-linecap="round"/>
<path d="M297.3 227.9h0M298.1 227.9h0M298.8 228.0h0M299.6 228.0h0M300.4 228.1h0M301.1 228.1h0M301.9 228.2h0M302.7 228.2h0M303.4 228.3h0M304.2 228.3h0M305.0 228.3h0M305.7 228.4h0M306.5 228.4h0M307.3 228.5h0M308.0 228.5h0M308.8 228.6h0M309.6 228.6h0M310.3 228.7h0M311.1 228.7h0M311.9 228.8h0M312.7 228.8h0M313.4 228.9h0M314.2 228.9h0M315.0 229.0h0M315.7 229.0h0M316.5 229.1h0M317.3 229.1h0M318.0 229.2h0M318.8 229.2h0M319.6 229.2h0M320.3 229.3h0M321.1 229.3h0M321.9 229.4h0M322.6 229.4h0M323.4 229.5h0M324.2 229.5h0M324.9 229.6h0M325.7 229.6h0M326.5 229.7h0M327.2 229.7h0M328.0 229.8h0M328.8 229.8h0M329.5 229.8h0M330.3 229.8h0M331.1 229.8h0M331.8 229.7h0M332.6 229.5h0M333.4 229.3h0M334.1 228.9h0M334.9 228.5h0M335.7 228.0h0M336.4 227.5h0M337.2 227.1h0M338.0 226.8h0M338.7 226.7h0M339.5 226.9h0M340.3 227.3h0M341.0 227.8h0M341.8 228.4h0M342.6 229.0h0M343.4 229.5h0M344.1 229.9h0M344.9 230.3h0M345.7 230.5h0M346.4 230.7h0M347.2 230.8h0M348.0 230.9h0M348.7 231.0h0M349.5 231.1h0M350.3 231.1h0M351.0 231.2h0M351.8 231.2h0M352.6 231.2h0M353.3 231.3h0M354.1 231.3h0M354.9 231.4h0M355.6 231.4h0M356.4 231.5h0M357.2 231.5h0M357.9 231.6h0M358.7 231.6h0M359.5 231.7h0M360.2 231.7h0M361.0 231.8h0M361.8 231.8h0M362.5 231.9h0M363.3 232.0h0M364.1 232.0h0M364.8 232.1h0M365.6 232.2h0M366.4 232.2h0M367.1 232.3h0M367.9 232.4h0M368.7 232.5h0M369.4 232.6h0M370.2 232.6h0M371.0 232.7h0M371.7 232.8h0M372.5 232.9h0M373.3 233.0h0M374.1 233.1h0M374.8 233.1h0M375.6 233.2h0M376.4 233.3h0M377.1 233.3h0M377.9 233.3h0M378.7 233.4h0M379.4 233.4h0M380.2 233.4h0M381.0 233.4h0M381.7 233.4h0M382.5 233.3h0M383.3 233.2h0M384.0 233.1h0M384.8 233.0h0M385.6 232.8h0M386.3 232.6h0M387.1 232.4h0M387.9 232.0h0M388.6 231.6h0M389.4 231.1h0M390.2 230.4h0M390.9 229.7h0M391.7 228.8h0M392.5 227.7h0M393.2 226.5h0M394.0 225.1h0M394.8 223.5h0M395.5 221.7h0M396.3 219.9h0M397.1 217.9h0M397.8 215.8h0M398.6 213.7h0M399.4 211.5h0M400.1 209.5h0M400.9 207.5h0M401.7 205.6h0M402.4 204.0h0M403.2 202.7h0M404.0 201.7h0M404.8 201.0h0M405.5 200.8h0M406.3 200.9h0M407.1 201.4h0M407.8 202.4h0M408.6 203.7h0M409.4 205.5h0M410.1 207.6h0M410.9 209.9h0M411.7 212.5h0M412.4 215.1h0M413.2 217.7h0M414.0 220.2h0M414.7 222.5h0M415.5 224.7h0M416.3 226.5h0M417.0 228.1h0M417.8 229.5h0M418.6 230.6h0M419.3 231.4h0M420.1 232.1h0M420.9 232.6h0M421.6 233.0h0M422.4 233.2h0M423.2 233.4h0M423.9 233.5h0M424.7 233.6h0M425.5 233.6h0M426.2 233.6h0M427.0 233.6h0M427.8 233.5h0M428.5 233.5h0M429.3 233.4h0M430.1 233.3h0M430.8 233.2h0M431.6 233.0h0M432.4 232.8h0M433.1 232.6h0M433.9 232.3h0M434.7 232.0h0M435.5 231.6h0M436.2 231.3h0M437.0 230.8h0M437.8 230.4h0M438.5 230.0h0M439.3 229.5h0M440.1 229.1h0M440.8 228.7h0M441.6 228.3h0M442.4 227.9h0M443.1 227.6h0M443.9 227.4h0M444.7 227.1h0M445.4 227.0h0M446.2 226.8h0M447.0 226.7h0M447.7 226.6h0M448.5 226.6h0M449.3 226.6h0M450.0 226.6h0M450.8 226.6h0M451.6 226.7h0M452.3 226.7h0M453.1 226.7h0M453.9 226.6h0M454.6 226.6h0M455.4 226.5h0M456.2 226.3h0M456.9 226.1h0M457.7 225.9h0M458.5 225.6h0M459.2 225.3h0M460.0 224.9h0M460.8 224.6h0M461.5 224.2h0M462.3 223.7h0M463.1 223.3h0M463.8 222.8h0M464.6 222.4h0M465.4 221.9h0M466.2 221.4h0M466.9 220.9h0M467.7 220.5h0M468.5 220.0h0M469.2 219.5h0M470.0 219.0h0M470.8 218.5h0M471.5 218.0h0M472.3 217.5h0M473.1 217.0h0M473.8 216.6h0M474.6 216.1h0M475.4 215.6h0M476.1 215.1h0M476.9 214.6h0M477.7 214.1h0M478.4 213.6h0M479.2 213.1h0M480.0 212.6h0M480.7 212.1h0M481.5 211.7h0" stroke="#008000" stroke-width="1.8" stroke-linecap="round"/>
<path d="M297.3 223.8h0M298.1 223.9h0M298.8 224.0h0M299.6 224.1h0M300.4 224.1h0M301.1 224.2h0M301.9 224.3h0M302.7 224.4h0M303.4 224.5h0M304.2 224.5h0M305.0 224.6h0M305.7 224.7h0M306.5 224.8h0M307.3 224.9h0M308.0 224.9h0M308.8 225.0h0M309.6 225.1h0M310.3 225.2h0M311.1 225.3h0M311.9 225.3h0M312.7 225.4h0M313.4 225.5h0M314.2 225.6h0M315.0 225.7h0M315.7 225.7h0M316.5 225.8h0M317.3 225.9h0M318.0 226.0h0M318.8 226.1h0M319.6 226.1h0M320.3 226.2h0M321.1 226.3h0M321.9 226.4h0M322.6 226.4h0M323.4 226.5h0M324.2 226.6h0M324.9 226.7h0M325.7 226.7h0M326.5 226.8h0M327.2 226.8h0M328.0 226.8h0M328.8 226.8h0M329.5 226.7h0M330.3 226.4h0M331.1 226.1h0M331.8 225.7h0M332.6 225.2h0M333.4 224.8h0M334.1 224.4h0M334.9 224.1h0M335.7 224.1h0M336.4 224.3h0M337.2 224.7h0M338.0 225.3h0M338.7 225.9h0M339.5 226.5h0M340.3 227.1h0M341.0 227.6h0M341.8 227.9h0M342.6 228.2h0M343.4 228.4h0M344.1 228.6h0M344.9 228.7h0M345.7 228.8h0M346.4 228.9h0M347.2 229.0h0M348.0 229.1h0M348.7 229.1h0M349.5 229.2h0M350.3 229.3h0M351.0 229.4h0M351.8 229.5h0M352.6 229.5h0M353.3 229.6h0M354.1 229.7h0M354.9 229.8h0M355.6 229.9h0M356.4 229.9h0M357.2 230.0h0M357.9 230.1h0M358.7 230.2h0M359.5 230.3h0M360.2 230.3h0M361.0 230.4h0M361.8 230.5h0M362.5 230.6h0M363.3 230.7h0M364.1 230.8h0M364.8 230.9h0M365.6 231.0h0M366.4 231.1h0M367.1 231.2h0M367.9 231.3h0M368.7 231.5h0M369.4 231.6h0M370.2 231.7h0M371.0 231.8h0M371.7 231.9h0M372.5 232.0h0M373.3 232.1h0M374.1 232.3h0M374.8 232.4h0M375.6 232.5h0M376.4 232.5h0M377.1 232.6h0M377.9 232.7h0M378.7 232.8h0M379.4 232.8h0M380.2 232.8h0M381.0 232.9h0M381.7 232.9h0M382.5 232.8h0M383.3 232.8h0M384.0 232.7h0M384.8 232.6h0M385.6 232.5h0M386.3 232.3h0M387.1 232.0h0M387.9 231.7h0M388.6 231.2h0M389.4 230.7h0M390.2 230.0h0M390.9 229.2h0M391.7 228.3h0M392.5 227.2h0M393.2 225.8h0M394.0 224.3h0M394.8 222.6h0M395.5 220.7h0M396.3 218.7h0M397.1 216.5h0M397.8 214.3h0M398.6 212.0h0M399.4 209.7h0M400.1 207.4h0M400.9 205.2h0M401.7 203.2h0M402.4 201.5h0M403.2 200.0h0M404.0 199.0h0M404.8 198.3h0M405.5 198.0h0M406.3 198.1h0M407.1 198.7h0M407.8 199.7h0M408.6 201.2h0M409.4 203.1h0M410.1 205.3h0M410.9 207.9h0M411.7 210.7h0M412.4 213.5h0M413.2 216.3h0M414.0 219.0h0M414.7 221.6h0M415.5 223.9h0M416.3 225.9h0M417.0 227.7h0M417.8 229.1h0M418.6 230.3h0M419.3 231.2h0M420.1 232.0h0M420.9 232.5h0M421.6 232.9h0M422.4 233.2h0M423.2 233.4h0M423.9 233.5h0M424.7 233.5h0M425.5 233.6h0M426.2 233.6h0M427.0 233.6h0M427.8 233.5h0M428.5 233.4h0M429.3 233.4h0M430.1 233.2h0M430.8 233.1h0M431.6 232.9h0M432.4 232.7h0M433.1 232.4h0M433.9 232.1h0M434.7 231.8h0M435.5 231.4h0M436.2 230.9h0M437.0 230.5h0M437.8 230.0h0M438.5 229.4h0M439.3 228.9h0M440.1 228.4h0M440.8 227.9h0M441.6 227.4h0M442.4 226.9h0M443.1 226.5h0M443.9 226.1h0M444.7 225.8h0M445.4 225.6h0M446.2 225.4h0M447.0 225.3h0M447.7 225.2h0M448.5 225.2h0M449.3 225.2h0M450.0 225.3h0M450.8 225.4h0M451.6 225.5h0M452.3 225.6h0M453.1 225.6h0M453.9 225.6h0M454.6 225.6h0M455.4 225.5h0M456.2 225.4h0M456.9 225.2h0M457.7 224.9h0M458.5 224.6h0M459.2 224.3h0M460.0 223.9h0M460.8 223.5h0M461.5 223.0h0M462.3 222.5h0M463.1 222.0h0M463.8 221.5h0M464.6 220.9h0M465.4 220.4h0M466.2 219.9h0M466.9 219.3h0M467.7 218.8h0M468.5 218.2h0M469.2 217.7h0M470.0 217.1h0M470.8 216.5h0M471.5 216.0h0M472.3 215.4h0M473.1 214.9h0M473.8 214.3h0M474.6 213.7h0M475.4 213.2h0M476.1 212.6h0M476.9 212.1h0M477.7 211.5h0M478.4 210.9h0M479.2 210.4h0M480.0 209.8h0M480.7 209.3h0M481.5 208.7h0" stroke="#000080" stroke-width="1.8" stroke-linecap="round"/>
<path d="M297.3 221.7h0M298.1 221.8h0M298.8 221.9h0M299.6 222.0h0M300.4 222.1h0M301.1 222.2h0M301.9 222.3h0M302.7 222.4h0M303.4 222.5h0M304.2 222.5h0M305.0 222.6h0M305.7 222.7h0M306.5 222.8h0M307.3 222.9h0M308.0 223.0h0M308.8 223.1h0M309.6 223.2h0M310.3 223.3h0M311.1 223.4h0M311.9 223.5h0M312.7 223.6h0M313.4 223.7h0M314.2 223.8h0M315.0 223.9h0M315.7 224.0h0M316.5 224.1h0M317.3 224.2h0M318.0 224.3h0M318.8 224.4h0M319.6 224.5h0M320.3 224.6h0M321.1 224.7h0M321.9 224.8h0M322.6 224.9h0M323.4 225.0h0M324.2 225.1h0M324.9 225.2h0M325.7 225.3h0M326.5 225.3h0M327.2 225.4h0M328.0 225.4h0M328.8 225.4h0M329.5 225.4h0M330.3 225.2h0M331.1 225.0h0M331.8 224.7h0M332.6 224.3h0M333.4 224.0h0M334.1 223.7h0M334.9 223.6h0M335.7 223.6h0M336.4 223.8h0M337.2 224.1h0M338.0 224.6h0M338.7 225.1h0M339.5 225.7h0M340.3 226.1h0M341.0 226.6h0M341.8 226.9h0M342.6 227.2h0M343.4 227.4h0M344.1 227.5h0M344.9 227.7h0M345.7 227.8h0M346.4 227.9h0M347.2 228.0h0M348.0 228.1h0M348.7 228.2h0M349.5 228.3h0M350.3 228.4h0M351.0 228.5h0M351.8 228.5h0M352.6 228.6h0M353.3 228.7h0M354.1 228.8h0M354.9 228.9h0M355.6 229.0h0M356.4 229.1h0M357.2 229.2h0M357.9 229.3h0M358.7 229.4h0M359.5 229.5h0M360.2 229.6h0M361.0 229.7h0M361.8 229.8h0M362.5 230.0h0M363.3 230.1h0M364.1 230.2h0M364.8 230.3h0M365.6 230.4h0M366.4 230.5h0M367.1 230.7h0M367.9 230.8h0M368.7 230.9h0M369.4 231.1h0M370.2 231.2h0M371.0 231.3h0M371.7 231.5h0M372.5 231.6h0M373.3 231.7h0M374.1 231.9h0M374.8 232.0h0M375.6 232.1h0M376.4 232.2h0M377.1 232.3h0M377.9 232.4h0M378.7 232.5h0M379.4 232.5h0M380.2 232.6h0M381.0 232.6h0M381.7 232.6h0M382.5 232.6h0M383.3 232.6h0M384.0 232.6h0M384.8 232.5h0M385.6 232.4h0M386.3 232.2h0M387.1 232.0h0M387.9 231.7h0M388.6 231.3h0M389.4 230.8h0M390.2 230.2h0M390.9 229.4h0M391.7 228.6h0M392.5 227.5h0M393.2 226.3h0M394.0 224.8h0M394.8 223.2h0M395.5 221.4h0M396.3 219.5h0M397.1 217.4h0M397.8 215.3h0M398.6 213.1h0M399.4 210.9h0M400.1 208.7h0M400.9 206.7h0M401.7 204.8h0M402.4 203.2h0M403.2 201.8h0M404.0 200.8h0M404.8 200.1h0M405.5 199.8h0M406.3 200.0h0M407.1 200.5h0M407.8 201.4h0M408.6 202.8h0M409.4 204.6h0M410.1 206.8h0M410.9 209.2h0M411.7 211.9h0M412.4 214.5h0M413.2 217.2h0M414.0 219.8h0M414.7 222.2h0M415.5 224.4h0M416.3 226.3h0M417.0 228.0h0M417.8 229.3h0M418.6 230.5h0M419.3 231.3h0M420.1 232.0h0M420.9 232.5h0M421.6 232.9h0M422.4 233.1h0M423.2 233.3h0M423.9 233.4h0M424.7 233.4h0M425.5 233.4h0M426.2 233.4h0M427.0 233.3h0M427.8 233.2h0M428.5 233.1h0M429.3 232.9h0M430.1 232.7h0M430.8 232.4h0M431.6 232.0h0M432.4 231.6h0M433.1 231.1h0M433.9 230.5h0M434.7 229.8h0M435.5 229.0h0M436.2 228.1h0M437.0 227.1h0M437.8 226.1h0M438.5 225.1h0M439.3 224.0h0M440.1 223.0h0M440.8 221.9h0M441.6 221.0h0M442.4 220.1h0M443.1 219.2h0M443.9 218.5h0M444.7 217.9h0M445.4 217.3h0M446.2 217.0h0M447.0 216.7h0M447.7 216.6h0M448.5 216.6h0M449.3 216.6h0M450.0 216.8h0M450.8 216.9h0M451.6 217.1h0M452.3 217.2h0M453.1 217.3h0M453.9 217.3h0M454.6 217.1h0M455.4 216.9h0M456.2 216.5h0M456.9 216.0h0M457.7 215.3h0M458.5 214.5h0M459.2 213.6h0M460.0 212.6h0M460.8 211.5h0M461.5 210.3h0M462.3 209.1h0M463.1 207.8h0M463.8 206.5h0M464.6 205.1h0M465.4 203.8h0M466.2 202.4h0M466.9 201.0h0M467.7 199.6h0M468.5 198.2h0M469.2 196.8h0M470.0 195.4h0M470.8 193.9h0M471.5 192.5h0M472.3 191.1h0M473.1 189.7h0M473.8 188.2h0M474.6 186.8h0M475.4 185.4h0M476.1 184.0h0M476.9 182.5h0M477.7 181.1h0M478.4 179.7h0M479.2 178.3h0M480.0 176.8h0M480.7 175.4h0M481.5 174.0h0" stroke="#000000" stroke-width="1.8" stroke-linecap="round"/>
<path d="M297.3 223.1h0M298.1 223.2h0M298.8 223.2h0M299.6 223.3h0M300.4 223.4h0M301.1 223.5h0M301.9 223.6h0M302.7 223.7h0M303.4 223.8h0M304.2 223.8h0M305.0 223.9h0M305.7 224.0h0M306.5 224.1h0M307.3 224.2h0M308.0 224.3h0M308.8 224.4h0M309.6 224.5h0M310.3 224.5h0M311.1 224.6h0M311.9 224.7h0M312.7 224.8h0M313.4 224.9h0M314.2 225.0h0M315.0 225.1h0M315.7 225.1h0M316.5 225.2h0M317.3 225.3h0M318.0 225.4h0M318.8 225.5h0M319.6 225.6h0M320.3 225.7h0M321.1 225.7h0M321.9 225.8h0M322.6 225.9h0M323.4 226.0h0M324.2 226.1h0M324.9 226.1h0M325.7 226.2h0M326.5 226.3h0M327.2 226.3h0M328.0 226.2h0M328.8 226.1h0M329.5 225.9h0M330.3 225.6h0M331.1 225.2h0M331.8 224.7h0M332.6 224.2h0M333.4 223.9h0M334.1 223.6h0M334.9 223.6h0M335.7 223.8h0M336.4 224.2h0M337.2 224.7h0M338.0 225.4h0M338.7 226.0h0M339.5 226.6h0M340.3 227.1h0M341.0 227.5h0M341.8 227.8h0M342.6 228.0h0M343.4 228.1h0M344.1 228.3h0M344.9 228.4h0M345.7 228.5h0M346.4 228.6h0M347.2 228.6h0M348.0 228.7h0M348.7 228.8h0M349.5 228.9h0M350.3 229.0h0M351.0 229.1h0M351.8 229.1h0M352.6 229.2h0M353.3 229.3h0M354.1 229.4h0M354.9 229.5h0M355.6 229.6h0M356.4 229.7h0M357.2 229.7h0M357.9 229.8h0M358.7 229.9h0M359.5 230.0h0M360.2 230.1h0M361.0 230.2h0M361.8 230.3h0M362.5 230.4h0M363.3 230.5h0M364.1 230.6h0M364.8 230.7h0M365.6 230.8h0M366.4 230.9h0M367.1 231.0h0M367.9 231.2h0M368.7 231.3h0M369.4 231.4h0M370.2 231.5h0M371.0 231.6h0M371.7 231.8h0M372.5 231.9h0M373.3 232.0h0M374.1 232.1h0M374.8 232.2h0M375.6 232.3h0M376.4 232.4h0M377.1 232.5h0M377.9 232.6h0M378.7 232.7h0M379.4 232.7h0M380.2 232.8h0M381.0 232.8h0M381.7 232.8h0M382.5 232.8h0M383.3 232.8h0M384.0 232.7h0M384.8 232.6h0M385.6 232.5h0M386.3 232.3h0M387.1 232.1h0M387.9 231.8h0M388.6 231.4h0M389.4 230.9h0M390.2 230.3h0M390.9 229.6h0M391.7 228.7h0M392.5 227.7h0M393.2 226.4h0M394.0 225.0h0M394.8 223.4h0M395.5 221.7h0M396.3 219.8h0M397.1 217.8h0M397.8 215.7h0M398.6 213.5h0M399.4 211.4h0M400.1 209.3h0M400.9 207.3h0M401.7 205.4h0M402.4 203.8h0M403.2 202.5h0M404.0 201.5h0M404.8 200.8h0M405.5 200.6h0M406.3 200.7h0M407.1 201.2h0M407.8 202.1h0M408.6 203.5h0M409.4 205.3h0M410.1 207.4h0M410.9 209.8h0M411.7 212.3h0M412.4 215.0h0M413.2 217.6h0M414.0 220.1h0M414.7 222.5h0M415.5 224.6h0M416.3 226.5h0M417.0 228.1h0M417.8 229.4h0M418.6 230.5h0M419.3 231.4h0M420.1 232.1h0M420.9 232.6h0M421.6 232.9h0M422.4 233.2h0M423.2 233.4h0M423.9 233.5h0M424.7 233.5h0M425.5 233.5h0M426.2 233.5h0M427.0 233.5h0M427.8 233.4h0M428.5 233.3h0M429.3 233.2h0M430.1 233.1h0M430.8 232.9h0M431.6 232.7h0M432.4 232.4h0M433.1 232.0h0M433.9 231.6h0M434.7 231.2h0M435.5 230.7h0M436.2 230.1h0M437.0 229.4h0M437.8 228.8h0M438.5 228.1h0M439.3 227.4h0M440.1 226.7h0M440.8 226.0h0M441.6 225.3h0M442.4 224.7h0M443.1 224.1h0M443.9 223.6h0M444.7 223.2h0M445.4 222.8h0M446.2 222.6h0M447.0 222.4h0M447.7 222.3h0M448.5 222.3h0M449.3 222.4h0M450.0 222.5h0M450.8 222.6h0M451.6 222.8h0M452.3 222.9h0M453.1 222.9h0M453.9 223.0h0M454.6 222.9h0M455.4 222.7h0M456.2 222.5h0M456.9 222.1h0M457.7 221.7h0M458.5 221.2h0M459.2 220.6h0M460.0 219.9h0M460.8 219.1h0M461.5 218.3h0M462.3 217.5h0M463.1 216.6h0M463.8 215.8h0M464.6 214.9h0M465.4 213.9h0M466.2 213.0h0M466.9 212.1h0M467.7 211.1h0M468.5 210.2h0M469.2 209.2h0M470.0 208.3h0M470.8 207.3h0M471.5 206.4h0M472.3 205.4h0M473.1 204.5h0M473.8 203.5h0M474.6 202.6h0M475.4 201.6h0M476.1 200.6h0M476.9 199.7h0M477.7 198.7h0M478.4 197.8h0M479.2 196.8h0M480.0 195.8h0M480.7 194.9h0M481.5 193.9h0" stroke="#0000ff" stroke-width="1.8" stroke-linecap="round"/>
<path d="M297.3 224.9h0M298.1 225.0h0M298.8 225.1h0M299.6 225.1h0M300.4 225.2h0M301.1 225.3h0M301.9 225.3h0M302.7 225.4h0M303.4 225.5h0M304.2 225.6h0M305.0 225.6h0M305.7 225.7h0M306.5 225.8h0M307.3 225.8h0M308.0 225.9h0M308.8 226.0h0M309.6 226.0h0M310.3 226.1h0M311.1 226.2h0M311.9 226.3h0M312.7 226.3h0M313.4 226.4h0M314.2 226.5h0M315.0 226.5h0M315.7 226.6h0M316.5 226.7h0M317.3 226.8h0M318.0 226.8h0M318.8 226.9h0M319.6 227.0h0M320.3 227.0h0M321.1 227.1h0M321.9 227.2h0M322.6 227.3h0M323.4 227.3h0M324.2 227.4h0M324.9 227.5h0M325.7 227.5h0M326.5 227.6h0M327.2 227.7h0M328.0 227.7h0M328.8 227.8h0M329.5 227.9h0M330.3 227.9h0M331.1 227.9h0M331.8 227.8h0M332.6 227.7h0M333.4 227.4h0M334.1 227.0h0M334.9 226.5h0M335.7 225.7h0M336.4 224.9h0M337.2 224.1h0M338.0 223.4h0M338.7 223.0h0M339.5 222.9h0M340.3 223.1h0M341.0 223.7h0M341.8 224.5h0M342.6 225.5h0M343.4 226.4h0M344.1 227.3h0M344.9 228.0h0M345.7 228.6h0M346.4 229.0h0M347.2 229.2h0M348.0 229.4h0M348.7 229.6h0M349.5 229.7h0M350.3 229.8h0M351.0 229.8h0M351.8 229.9h0M352.6 230.0h0M353.3 230.0h0M354.1 230.1h0M354.9 230.2h0M355.6 230.3h0M356.4 230.3h0M357.2 230.4h0M357.9 230.5h0M358.7 230.5h0M359.5 230.6h0M360.2 230.7h0M361.0 230.8h0M361.8 230.8h0M362.5 230.9h0M363.3 231.0h0M364.1 231.1h0M364.8 231.2h0M365.6 231.3h0M366.4 231.4h0M367.1 231.5h0M367.9 231.6h0M368.7 231.7h0M369.4 231.8h0M370.2 231.9h0M371.0 232.0h0M371.7 232.1h0M372.5 232.2h0M373.3 232.3h0M374.1 232.4h0M374.8 232.5h0M375.6 232.6h0M376.4 232.6h0M377.1 232.7h0M377.9 232.8h0M378.7 232.8h0M379.4 232.9h0M380.2 232.9h0M381.0 232.9h0M381.7 232.8h0M382.5 232.8h0M383.3 232.7h0M384.0 232.6h0M384.8 232.4h0M385.6 232.2h0M386.3 231.9h0M387.1 231.6h0M387.9 231.1h0M388.6 230.5h0M389.4 229.8h0M390.2 228.9h0M390.9 227.9h0M391.7 226.6h0M392.5 225.2h0M393.2 223.4h0M394.0 221.4h0M394.8 219.2h0M395.5 216.8h0M396.3 214.2h0M397.1 211.4h0M397.8 208.4h0M398.6 205.4h0M399.4 202.4h0M400.1 199.5h0M400.9 196.7h0M401.7 194.1h0M402.4 191.8h0M403.2 190.0h0M404.0 188.5h0M404.8 187.6h0M405.5 187.3h0M406.3 187.5h0M407.1 188.2h0M407.8 189.5h0M408.6 191.4h0M409.4 193.9h0M410.1 196.8h0M410.9 200.2h0M411.7 203.7h0M412.4 207.4h0M413.2 211.1h0M414.0 214.6h0M414.7 217.9h0M415.5 220.9h0M416.3 223.6h0M417.0 225.8h0M417.8 227.7h0M418.6 229.2h0M419.3 230.5h0M420.1 231.4h0M420.9 232.1h0M421.6 232.6h0M422.4 233.0h0M423.2 233.2h0M423.9 233.4h0M424.7 233.5h0M425.5 233.5h0M426.2 233.6h0M427.0 233.5h0M427.8 233.5h0M428.5 233.4h0M429.3 233.3h0M430.1 233.2h0M430.8 233.1h0M431.6 232.9h0M432.4 232.7h0M433.1 232.4h0M433.9 232.1h0M434.7 231.8h0M435.5 231.4h0M436.2 230.9h0M437.0 230.5h0M437.8 230.0h0M438.5 229.4h0M439.3 228.9h0M440.1 228.4h0M440.8 227.9h0M441.6 227.4h0M442.4 226.9h0M443.1 226.5h0M443.9 226.1h0M444.7 225.8h0M445.4 225.6h0M446.2 225.4h0M447.0 225.3h0M447.7 225.2h0M448.5 225.2h0M449.3 225.2h0M450.0 225.3h0M450.8 225.4h0M451.6 225.5h0M452.3 225.6h0M453.1 225.6h0M453.9 225.6h0M454.6 225.6h0M455.4 225.5h0M456.2 225.4h0M456.9 225.2h0M457.7 224.9h0M458.5 224.6h0M459.2 224.3h0M460.0 223.9h0M460.8 223.5h0M461.5 223.0h0M462.3 222.5h0M463.1 222.0h0M463.8 221.5h0M464.6 220.9h0M465.4 220.4h0M466.2 219.9h0M466.9 219.3h0M467.7 218.8h0M468.5 218.2h0M469.2 217.7h0M470.0 217.1h0M470.8 216.5h0M471.5 216.0h0M472.3 215.4h0M473.1 214.9h0M473.8 214.3h0M474.6 213.7h0M475.4 213.2h0M476.1 212.6h0M476.9 212.1h0M477.7 211.5h0M478.4 210.9h0M479.2 210.4h0M480.0 209.8h0M480.7 209.3h0M481.5 208.7h0" stroke="#8000ff" stroke-width="1.8" stroke-linecap="round"/>
<path d="M297.3 224.2h0M298.1 224.2h0M298.8 224.3h0M299.6 224.4h0M300.4 224.5h0M301.1 224.6h0M301.9 224.6h0M302.7 224.7h0M303.4 224.8h0M304.2 224.9h0M305.0 224.9h0M305.7 225.0h0M306.5 225.1h0M307.3 225.2h0M308.0 225.2h0M308.8 225.3h0M309.6 225.4h0M310.3 225.5h0M311.1 225.6h0M311.9 225.6h0M312.7 225.7h0M313.4 225.8h0M314.2 225.9h0M315.0 225.9h0M315.7 226.0h0M316.5 226.1h0M317.3 226.2h0M318.0 226.2h0M318.8 226.3h0M319.6 226.4h0M320.3 226.5h0M321.1 226.6h0M321.9 226.6h0M322.6 226.7h0M323.4 226.8h0M324.2 226.9h0M324.9 226.9h0M325.7 227.0h0M326.5 227.1h0M327.2 227.2h0M328.0 227.2h0M328.8 227.3h0M329.5 227.4h0M330.3 227.4h0M331.1 227.4h0M331.8 227.3h0M332.6 227.2h0M333.4 226.9h0M334.1 226.4h0M334.9 225.8h0M335.7 225.0h0M336.4 224.0h0M337.2 223.1h0M338.0 222.4h0M338.7 221.9h0M339.5 221.7h0M340.3 222.0h0M341.0 222.7h0M341.8 223.6h0M342.6 224.6h0M343.4 225.7h0M344.1 226.7h0M344.9 227.5h0M345.7 228.1h0M346.4 228.5h0M347.2 228.8h0M348.0 229.1h0M348.7 229.2h0M349.5 229.3h0M350.3 229.4h0M351.0 229.5h0M351.8 229.6h0M352.6 229.7h0M353.3 229.7h0M354.1 229.8h0M354.9 229.9h0M355.6 230.0h0M356.4 230.0h0M357.2 230.1h0M357.9 230.2h0M358.7 230.3h0M359.5 230.3h0M360.2 230.4h0M361.0 230.5h0M361.8 230.6h0M362.5 230.7h0M363.3 230.8h0M364.1 230.9h0M364.8 231.0h0M365.6 231.0h0M366.4 231.1h0M367.1 231.3h0M367.9 231.4h0M368.7 231.5h0M369.4 231.6h0M370.2 231.7h0M371.0 231.8h0M371.7 231.9h0M372.5 232.0h0M373.3 232.1h0M374.1 232.2h0M374.8 232.3h0M375.6 232.4h0M376.4 232.5h0M377.1 232.5h0M377.9 232.6h0M378.7 232.7h0M379.4 232.7h0M380.2 232.7h0M381.0 232.7h0M381.7 232.7h0M382.5 232.6h0M383.3 232.5h0M384.0 232.4h0M384.8 232.2h0M385.6 232.0h0M386.3 231.7h0M387.1 231.3h0M387.9 230.7h0M388.6 230.1h0M389.4 229.3h0M390.2 228.3h0M390.9 227.1h0M391.7 225.7h0M392.5 224.1h0M393.2 222.1h0M394.0 219.9h0M394.8 217.4h0M395.5 214.6h0M396.3 211.7h0M397.1 208.5h0M397.8 205.2h0M398.6 201.8h0M399.4 198.4h0M400.1 195.1h0M400.9 192.0h0M401.7 189.1h0M402.4 186.5h0M403.2 184.4h0M404.0 182.8h0M404.8 181.8h0M405.5 181.4h0M406.3 181.6h0M407.1 182.4h0M407.8 183.8h0M408.6 186.0h0M409.4 188.8h0M410.1 192.1h0M410.9 195.9h0M411.7 199.9h0M412.4 204.1h0M413.2 208.2h0M414.0 212.2h0M414.7 215.9h0M415.5 219.3h0M416.3 222.3h0M417.0 224.8h0M417.8 226.9h0M418.6 228.7h0M419.3 230.0h0M420.1 231.1h0M420.9 231.9h0M421.6 232.5h0M422.4 232.9h0M423.2 233.2h0M423.9 233.4h0M424.7 233.5h0M425.5 233.5h0M426.2 233.5h0M427.0 233.5h0M427.8 233.5h0M428.5 233.4h0M429.3 233.3h0M430.1 233.2h0M430.8 233.0h0M431.6 232.8h0M432.4 232.6h0M433.1 232.3h0M433.9 232.0h0M434.7 231.6h0M435.5 231.2h0M436.2 230.7h0M437.0 230.1h0M437.8 229.6h0M438.5 229.0h0M439.3 228.4h0M440.1 227.9h0M440.8 227.3h0M441.6 226.8h0M442.4 226.3h0M443.1 225.9h0M443.9 225.5h0M444.7 225.2h0M445.4 224.9h0M446.2 224.7h0M447.0 224.6h0M447.7 224.5h0M448.5 224.5h0M449.3 224.5h0M450.0 224.6h0M450.8 224.7h0M451.6 224.8h0M452.3 224.8h0M453.1 224.9h0M453.9 224.9h0M454.6 224.8h0M455.4 224.7h0M456.2 224.6h0M456.9 224.4h0M457.7 224.1h0M458.5 223.8h0M459.2 223.4h0M460.0 222.9h0M460.8 222.5h0M461.5 222.0h0M462.3 221.4h0M463.1 220.9h0M463.8 220.3h0M464.6 219.8h0M465.4 219.2h0M466.2 218.6h0M466.9 218.0h0M467.7 217.4h0M468.5 216.8h0M469.2 216.2h0M470.0 215.6h0M470.8 215.0h0M471.5 214.4h0M472.3 213.8h0M473.1 213.2h0M473.8 212.6h0M474.6 211.9h0M475.4 211.3h0M476.1 210.7h0M476.9 210.1h0M477.7 209.5h0M478.4 208.9h0M479.2 208.3h0M480.0 207.7h0M480.7 207.1h0M481.5 206.5h0" stroke="#900090" stroke-width="1.8" stroke-linecap="round"/>
<path d="M297.3 225.3h0M298.1 225.3h0M298.8 225.4h0M299.6 225.5h0M300.4 225.5h0M301.1 225.6h0M301.9 225.7h0M302.7 225.8h0M303.4 225.8h0M304.2 225.9h0M305.0 226.0h0M305.7 226.0h0M306.5 226.1h0M307.3 226.2h0M308.0 226.2h0M308.8 226.3h0M309.6 226.4h0M310.3 226.4h0M311.1 226.5h0M311.9 226.6h0M312.7 226.6h0M313.4 226.7h0M314.2 226.8h0M315.0 226.8h0M315.7 226.9h0M316.5 227.0h0M317.3 227.0h0M318.0 227.1h0M318.8 227.2h0M319.6 227.2h0M320.3 227.3h0M321.1 227.4h0M321.9 227.4h0M322.6 227.5h0M323.4 227.6h0M324.2 227.6h0M324.9 227.7h0M325.7 227.8h0M326.5 227.8h0M327.2 227.9h0M328.0 228.0h0M328.8 228.0h0M329.5 228.1h0M330.3 228.1h0M331.1 228.1h0M331.8 228.0h0M332.6 227.9h0M333.4 227.6h0M334.1 227.1h0M334.9 226.4h0M335.7 225.6h0M336.4 224.7h0M337.2 223.8h0M338.0 223.0h0M338.7 222.5h0M339.5 222.3h0M340.3 222.6h0M341.0 223.3h0M341.8 224.2h0M342.6 225.2h0M343.4 226.3h0M344.1 227.2h0M344.9 228.0h0M345.7 228.6h0M346.4 229.0h0M347.2 229.4h0M348.0 229.6h0M348.7 229.7h0M349.5 229.8h0M350.3 229.9h0M351.0 230.0h0M351.8 230.0h0M352.6 230.1h0M353.3 230.2h0M354.1 230.2h0M354.9 230.3h0M355.6 230.4h0M356.4 230.4h0M357.2 230.5h0M357.9 230.6h0M358.7 230.6h0M359.5 230.7h0M360.2 230.8h0M361.0 230.8h0M361.8 230.9h0M362.5 231.0h0M363.3 231.1h0M364.1 231.2h0M364.8 231.2h0M365.6 231.3h0M366.4 231.4h0M367.1 231.5h0M367.9 231.6h0M368.7 231.7h0M369.4 231.8h0M370.2 231.9h0M371.0 232.0h0M371.7 232.1h0M372.5 232.2h0M373.3 232.3h0M374.1 232.4h0M374.8 232.5h0M375.6 232.5h0M376.4 232.6h0M377.1 232.7h0M377.9 232.7h0M378.7 232.8h0M379.4 232.8h0M380.2 232.8h0M381.0 232.8h0M381.7 232.7h0M382.5 232.6h0M383.3 232.5h0M384.0 232.4h0M384.8 232.1h0M385.6 231.9h0M386.3 231.5h0M387.1 231.0h0M387.9 230.4h0M388.6 229.7h0M389.4 228.7h0M390.2 227.6h0M390.9 226.3h0M391.7 224.7h0M392.5 222.8h0M393.2 220.6h0M394.0 218.1h0M394.8 215.3h0M395.5 212.2h0M396.3 208.8h0M397.1 205.3h0M397.8 201.6h0M398.6 197.8h0M399.4 194.0h0M400.1 190.2h0M400.9 186.7h0M401.7 183.4h0M402.4 180.5h0M403.2 178.1h0M404.0 176.3h0M404.8 175.2h0M405.5 174.7h0M406.3 175.0h0M407.1 175.8h0M407.8 177.5h0M408.6 180.0h0M409.4 183.1h0M410.1 186.9h0M410.9 191.1h0M411.7 195.6h0M412.4 200.3h0M413.2 205.0h0M414.0 209.5h0M414.7 213.7h0M415.5 217.5h0M416.3 220.8h0M417.0 223.7h0M417.8 226.1h0M418.6 228.0h0M419.3 229.6h0M420.1 230.8h0M420.9 231.7h0M421.6 232.3h0M422.4 232.8h0M423.2 233.1h0M423.9 233.3h0M424.7 233.4h0M425.5 233.5h0M426.2 233.5h0M427.0 233.5h0M427.8 233.5h0M428.5 233.4h0M429.3 233.3h0M430.1 233.2h0M430.8 233.1h0M431.6 232.9h0M432.4 232.7h0M433.1 232.4h0M433.9 232.1h0M434.7 231.8h0M435.5 231.4h0M436.2 230.9h0M437.0 230.5h0M437.8 230.0h0M438.5 229.4h0M439.3 228.9h0M440.1 228.4h0M440.8 227.9h0M441.6 227.4h0M442.4 226.9h0M443.1 226.5h0M443.9 226.1h0M444.7 225.8h0M445.4 225.6h0M446.2 225.4h0M447.0 225.3h0M447.7 225.2h0M448.5 225.2h0M449.3 225.2h0M450.0 225.3h0M450.8 225.4h0M451.6 225.5h0M452.3 225.6h0M453.1 225.7h0M453.9 225.7h0M454.6 225.7h0M455.4 225.6h0M456.2 225.5h0M456.9 225.3h0M457.7 225.1h0M458.5 224.8h0M459.2 224.5h0M460.0 224.1h0M460.8 223.7h0M461.5 223.3h0M462.3 222.8h0M463.1 222.4h0M463.8 221.9h0M464.6 221.4h0M465.4 220.9h0M466.2 220.4h0M466.9 219.9h0M467.7 219.4h0M468.5 218.9h0M469.2 218.4h0M470.0 217.9h0M470.8 217.4h0M471.5 216.9h0M472.3 216.3h0M473.1 215.8h0M473.8 215.3h0M474.6 214.8h0M475.4 214.3h0M476.1 213.8h0M476.9 213.3h0M477.7 212.7h0M478.4 212.2h0M479.2 211.7h0M480.0 211.2h0M480.7 210.7h0M481.5 210.2h0" stroke="#900030" stroke-width="1.8" stroke-linecap="round"/>
<path d="M297.3 229.7h0M298.1 229.7h0M298.8 229.7h0M299.6 229.7h0M300.4 229.8h0M301.1 229.8h0M301.9 229.8h0M302.7 229.8h0M303.4 229.9h0M304.2 229.9h0M305.0 229.9h0M305.7 229.9h0M306.5 230.0h0M307.3 230.0h0M308.0 230.0h0M308.8 230.0h0M309.6 230.0h0M310.3 230.1h0M311.1 230.1h0M311.9 230.1h0M312.7 230.1h0M313.4 230.1h0M314.2 230.2h0M315.0 230.2h0M315.7 230.2h0M316.5 230.2h0M317.3 230.2h0M318.0 230.3h0M318.8 230.3h0M319.6 230.3h0M320.3 230.3h0M321.1 230.3h0M321.9 230.4h0M322.6 230.4h0M323.4 230.4h0M324.2 230.4h0M324.9 230.4h0M325.7 230.4h0M326.5 230.5h0M327.2 230.5h0M328.0 230.5h0M328.8 230.4h0M329.5 230.4h0M330.3 230.3h0M331.1 230.1h0M331.8 229.9h0M332.6 229.6h0M333.4 229.2h0M334.1 228.8h0M334.9 228.4h0M335.7 228.0h0M336.4 227.8h0M337.2 227.7h0M338.0 227.8h0M338.7 228.1h0M339.5 228.4h0M340.3 228.9h0M341.0 229.3h0M341.8 229.7h0M342.6 230.1h0M343.4 230.3h0M344.1 230.5h0M344.9 230.6h0M345.7 230.6h0M346.4 230.7h0M347.2 230.7h0M348.0 230.7h0M348.7 230.7h0M349.5 230.7h0M350.3 230.7h0M351.0 230.7h0M351.8 230.7h0M352.6 230.7h0M353.3 230.7h0M354.1 230.6h0M354.9 230.6h0M355.6 230.6h0M356.4 230.6h0M357.2 230.6h0M357.9 230.6h0M358.7 230.6h0M359.5 230.5h0M360.2 230.5h0M361.0 230.5h0M361.8 230.5h0M362.5 230.5h0M363.3 230.4h0M364.1 230.4h0M364.8 230.4h0M365.6 230.4h0M366.4 230.3h0M367.1 230.3h0M367.9 230.3h0M368.7 230.2h0M369.4 230.2h0M370.2 230.2h0M371.0 230.1h0M371.7 230.0h0M372.5 229.9h0M373.3 229.8h0M374.1 229.7h0M374.8 229.5h0M375.6 229.4h0M376.4 229.1h0M377.1 228.8h0M377.9 228.5h0M378.7 228.1h0M379.4 227.6h0M380.2 227.1h0M381.0 226.4h0M381.7 225.7h0M382.5 224.8h0M383.3 223.7h0M384.0 222.5h0M384.8 221.1h0M385.6 219.5h0M386.3 217.7h0M387.1 215.7h0M387.9 213.3h0M388.6 210.7h0M389.4 207.8h0M390.2 204.5h0M390.9 200.8h0M391.7 196.8h0M392.5 192.3h0M393.2 187.5h0M394.0 182.2h0M394.8 176.5h0M395.5 170.4h0M396.3 163.9h0M397.1 157.0h0M397.8 149.8h0M398.6 142.3h0M399.4 134.5h0M400.1 126.6h0M400.9 118.5h0M401.7 110.4h0M402.4 102.3h0M403.2 94.3h0M404.0 86.6h0M404.8 79.2h0M405.5 72.3h0M406.3 65.9h0M407.1 60.1h0M407.8 55.2h0M408.6 51.1h0M409.4 48.0h0M410.1 45.9h0M410.9 44.9h0M411.7 44.9h0M412.4 45.7h0M413.2 47.3h0M414.0 49.9h0M414.7 53.5h0M415.5 58.1h0M416.3 63.6h0M417.0 69.9h0M417.8 77.1h0M418.6 84.9h0M419.3 93.3h0M420.1 102.1h0M420.9 111.3h0M421.6 120.6h0M422.4 130.0h0M423.2 139.3h0M423.9 148.4h0M424.7 157.3h0M425.5 165.7h0M426.2 173.6h0M427.0 181.1h0M427.8 187.9h0M428.5 194.2h0M429.3 199.8h0M430.1 204.9h0M430.8 209.3h0M431.6 213.2h0M432.4 216.5h0M433.1 219.3h0M433.9 221.6h0M434.7 223.5h0M435.5 225.0h0M436.2 226.1h0M437.0 227.0h0M437.8 227.6h0M438.5 228.0h0M439.3 228.2h0M440.1 228.3h0M440.8 228.3h0M441.6 228.2h0M442.4 228.1h0M443.1 227.9h0M443.9 227.8h0M444.7 227.6h0M445.4 227.5h0M446.2 227.4h0M447.0 227.3h0M447.7 227.3h0M448.5 227.3h0M449.3 227.4h0M450.0 227.5h0M450.8 227.6h0M451.6 227.7h0M452.3 227.8h0M453.1 227.9h0M453.9 227.9h0M454.6 228.0h0M455.4 227.9h0M456.2 227.8h0M456.9 227.7h0M457.7 227.5h0M458.5 227.3h0M459.2 227.0h0M460.0 226.7h0M460.8 226.4h0M461.5 226.1h0M462.3 225.7h0M463.1 225.3h0M463.8 224.9h0M464.6 224.5h0M465.4 224.1h0M466.2 223.7h0M466.9 223.3h0M467.7 222.9h0M468.5 222.5h0M469.2 222.1h0M470.0 221.6h0M470.8 221.2h0M471.5 220.8h0M472.3 220.4h0M473.1 220.0h0M473.8 219.5h0M474.6 219.1h0M475.4 218.7h0M476.1 218.3h0M476.9 217.9h0M477.7 217.4h0M478.4 217.0h0M479.2 216.6h0M480.0 216.2h0M480.7 215.8h0M481.5 215.3h0" stroke="#7fe8ec" stroke-width="1.6" stroke-linecap="round"/>
<path d="M297.3 229.0h0M298.1 229.0h0M298.8 229.0h0M299.6 229.1h0M300.4 229.1h0M301.1 229.1h0M301.9 229.1h0M302.7 229.2h0M303.4 229.2h0M304.2 229.2h0M305.0 229.3h0M305.7 229.3h0M306.5 229.3h0M307.3 229.3h0M308.0 229.4h0M308.8 229.4h0M309.6 229.4h0M310.3 229.5h0M311.1 229.5h0M311.9 229.5h0M312.7 229.5h0M313.4 229.6h0M314.2 229.6h0M315.0 229.6h0M315.7 229.7h0M316.5 229.7h0M317.3 229.7h0M318.0 229.7h0M318.8 229.8h0M319.6 229.8h0M320.3 229.8h0M321.1 229.8h0M321.9 229.9h0M322.6 229.9h0M323.4 229.9h0M324.2 229.9h0M324.9 230.0h0M325.7 230.0h0M326.5 230.0h0M327.2 230.0h0M328.0 230.0h0M328.8 230.0h0M329.5 230.0h0M330.3 229.9h0M331.1 229.7h0M331.8 229.5h0M332.6 229.2h0M333.4 228.8h0M334.1 228.4h0M334.9 228.0h0M335.7 227.6h0M336.4 227.4h0M337.2 227.3h0M338.0 227.4h0M338.7 227.7h0M339.5 228.1h0M340.3 228.6h0M341.0 229.0h0M341.8 229.4h0M342.6 229.7h0M343.4 230.0h0M344.1 230.2h0M344.9 230.3h0M345.7 230.4h0M346.4 230.4h0M347.2 230.4h0M348.0 230.4h0M348.7 230.4h0M349.5 230.4h0M350.3 230.5h0M351.0 230.5h0M351.8 230.5h0M352.6 230.5h0M353.3 230.5h0M354.1 230.4h0M354.9 230.4h0M355.6 230.4h0M356.4 230.4h0M357.2 230.4h0M357.9 230.4h0M358.7 230.4h0M359.5 230.4h0M360.2 230.4h0M361.0 230.4h0M361.8 230.4h0M362.5 230.4h0M363.3 230.3h0M364.1 230.3h0M364.8 230.3h0M365.6 230.3h0M366.4 230.3h0M367.1 230.3h0M367.9 230.3h0M368.7 230.2h0M369.4 230.2h0M370.2 230.2h0M371.0 230.1h0M371.7 230.1h0M372.5 230.0h0M373.3 229.9h0M374.1 229.8h0M374.8 229.6h0M375.6 229.5h0M376.4 229.3h0M377.1 229.0h0M377.9 228.7h0M378.7 228.3h0M379.4 227.9h0M380.2 227.3h0M381.0 226.7h0M381.7 226.0h0M382.5 225.1h0M383.3 224.1h0M384.0 222.9h0M384.8 221.6h0M385.6 220.1h0M386.3 218.3h0M387.1 216.3h0M387.9 214.0h0M388.6 211.4h0M389.4 208.5h0M390.2 205.3h0M390.9 201.7h0M391.7 197.7h0M392.5 193.3h0M393.2 188.6h0M394.0 183.4h0M394.8 177.8h0M395.5 171.8h0M396.3 165.4h0M397.1 158.7h0M397.8 151.6h0M398.6 144.3h0M399.4 136.7h0M400.1 129.0h0M400.9 121.2h0M401.7 113.4h0M402.4 105.7h0M403.2 98.1h0M404.0 90.8h0M404.8 83.8h0M405.5 77.4h0M406.3 71.5h0M407.1 66.4h0M407.8 62.0h0M408.6 58.6h0M409.4 56.1h0M410.1 54.7h0M410.9 54.4h0M411.7 54.8h0M412.4 56.1h0M413.2 58.3h0M414.0 61.4h0M414.7 65.5h0M415.5 70.5h0M416.3 76.4h0M417.0 83.1h0M417.8 90.5h0M418.6 98.5h0M419.3 106.9h0M420.1 115.7h0M420.9 124.7h0M421.6 133.7h0M422.4 142.7h0M423.2 151.6h0M423.9 160.1h0M424.7 168.3h0M425.5 176.0h0M426.2 183.2h0M427.0 189.9h0M427.8 196.0h0M428.5 201.4h0M429.3 206.3h0M430.1 210.6h0M430.8 214.4h0M431.6 217.6h0M432.4 220.3h0M433.1 222.5h0M433.9 224.3h0M434.7 225.8h0M435.5 226.9h0M436.2 227.7h0M437.0 228.3h0M437.8 228.6h0M438.5 228.8h0M439.3 228.9h0M440.1 228.8h0M440.8 228.7h0M441.6 228.5h0M442.4 228.3h0M443.1 228.1h0M443.9 227.9h0M444.7 227.7h0M445.4 227.5h0M446.2 227.4h0M447.0 227.3h0M447.7 227.3h0M448.5 227.3h0M449.3 227.4h0M450.0 227.5h0M450.8 227.6h0M451.6 227.7h0M452.3 227.8h0M453.1 227.9h0M453.9 227.9h0M454.6 227.9h0M455.4 227.9h0M456.2 227.8h0M456.9 227.6h0M457.7 227.5h0M458.5 227.2h0M459.2 226.9h0M460.0 226.6h0M460.8 226.3h0M461.5 225.9h0M462.3 225.5h0M463.1 225.1h0M463.8 224.7h0M464.6 224.3h0M465.4 223.9h0M466.2 223.4h0M466.9 223.0h0M467.7 222.6h0M468.5 222.1h0M469.2 221.7h0M470.0 221.3h0M470.8 220.8h0M471.5 220.4h0M472.3 219.9h0M473.1 219.5h0M473.8 219.0h0M474.6 218.6h0M475.4 218.2h0M476.1 217.7h0M476.9 217.3h0M477.7 216.8h0M478.4 216.4h0M479.2 215.9h0M480.0 215.5h0M480.7 215.0h0M481.5 214.6h0" stroke="#ff80c0" stroke-width="1.6" stroke-linecap="round"/>
<path d="M297.3 229.7h0M298.1 229.7h0M298.8 229.8h0M299.6 229.8h0M300.4 229.8h0M301.1 229.8h0M301.9 229.9h0M302.7 229.9h0M303.4 229.9h0M304.2 229.9h0M305.0 229.9h0M305.7 230.0h0M306.5 230.0h0M307.3 230.0h0M308.0 230.0h0M308.8 230.1h0M309.6 230.1h0M310.3 230.1h0M311.1 230.1h0M311.9 230.1h0M312.7 230.2h0M313.4 230.2h0M314.2 230.2h0M315.0 230.2h0M315.7 230.3h0M316.5 230.3h0M317.3 230.3h0M318.0 230.3h0M318.8 230.3h0M319.6 230.4h0M320.3 230.4h0M321.1 230.4h0M321.9 230.4h0M322.6 230.4h0M323.4 230.4h0M324.2 230.5h0M324.9 230.5h0M325.7 230.5h0M326.5 230.5h0M327.2 230.5h0M328.0 230.5h0M328.8 230.5h0M329.5 230.5h0M330.3 230.4h0M331.1 230.2h0M331.8 230.0h0M332.6 229.7h0M333.4 229.3h0M334.1 228.9h0M334.9 228.4h0M335.7 228.1h0M336.4 227.8h0M337.2 227.8h0M338.0 227.9h0M338.7 228.1h0M339.5 228.5h0M340.3 229.0h0M341.0 229.4h0M341.8 229.8h0M342.6 230.1h0M343.4 230.4h0M344.1 230.5h0M344.9 230.7h0M345.7 230.7h0M346.4 230.8h0M347.2 230.8h0M348.0 230.8h0M348.7 230.8h0M349.5 230.8h0M350.3 230.8h0M351.0 230.8h0M351.8 230.8h0M352.6 230.8h0M353.3 230.8h0M354.1 230.8h0M354.9 230.7h0M355.6 230.7h0M356.4 230.7h0M357.2 230.7h0M357.9 230.7h0M358.7 230.7h0M359.5 230.7h0M360.2 230.6h0M361.0 230.6h0M361.8 230.6h0M362.5 230.6h0M363.3 230.6h0M364.1 230.6h0M364.8 230.5h0M365.6 230.5h0M366.4 230.5h0M367.1 230.5h0M367.9 230.4h0M368.7 230.4h0M369.4 230.4h0M370.2 230.3h0M371.0 230.3h0M371.7 230.2h0M372.5 230.1h0M373.3 230.0h0M374.1 229.9h0M374.8 229.7h0M375.6 229.6h0M376.4 229.3h0M377.1 229.0h0M377.9 228.7h0M378.7 228.3h0M379.4 227.8h0M380.2 227.3h0M381.0 226.6h0M381.7 225.8h0M382.5 224.9h0M383.3 223.9h0M384.0 222.6h0M384.8 221.2h0M385.6 219.6h0M386.3 217.8h0M387.1 215.7h0M387.9 213.3h0M388.6 210.6h0M389.4 207.6h0M390.2 204.3h0M390.9 200.6h0M391.7 196.5h0M392.5 192.0h0M393.2 187.1h0M394.0 181.8h0M394.8 176.1h0M395.5 170.1h0M396.3 163.6h0M397.1 156.8h0M397.8 149.8h0M398.6 142.4h0M399.4 134.9h0M400.1 127.2h0M400.9 119.5h0M401.7 111.8h0M402.4 104.2h0M403.2 96.8h0M404.0 89.7h0M404.8 83.0h0M405.5 76.9h0M406.3 71.4h0M407.1 66.6h0M407.8 62.7h0M408.6 59.7h0M409.4 57.7h0M410.1 56.7h0M410.9 56.7h0M411.7 57.5h0M412.4 59.1h0M413.2 61.6h0M414.0 65.1h0M414.7 69.5h0M415.5 74.8h0M416.3 80.9h0M417.0 87.8h0M417.8 95.4h0M418.6 103.4h0M419.3 111.9h0M420.1 120.7h0M420.9 129.6h0M421.6 138.6h0M422.4 147.4h0M423.2 156.0h0M423.9 164.3h0M424.7 172.2h0M425.5 179.7h0M426.2 186.6h0M427.0 192.9h0M427.8 198.7h0M428.5 203.9h0M429.3 208.5h0M430.1 212.5h0M430.8 216.0h0M431.6 219.0h0M432.4 221.5h0M433.1 223.6h0M433.9 225.3h0M434.7 226.6h0M435.5 227.7h0M436.2 228.4h0M437.0 229.0h0M437.8 229.3h0M438.5 229.5h0M439.3 229.5h0M440.1 229.5h0M440.8 229.4h0M441.6 229.2h0M442.4 229.0h0M443.1 228.8h0M443.9 228.6h0M444.7 228.4h0M445.4 228.2h0M446.2 228.1h0M447.0 228.0h0M447.7 228.0h0M448.5 228.1h0M449.3 228.1h0M450.0 228.2h0M450.8 228.3h0M451.6 228.4h0M452.3 228.5h0M453.1 228.6h0M453.9 228.7h0M454.6 228.7h0M455.4 228.6h0M456.2 228.5h0M456.9 228.4h0M457.7 228.2h0M458.5 228.0h0M459.2 227.7h0M460.0 227.4h0M460.8 227.0h0M461.5 226.7h0M462.3 226.3h0M463.1 225.9h0M463.8 225.5h0M464.6 225.0h0M465.4 224.6h0M466.2 224.2h0M466.9 223.7h0M467.7 223.3h0M468.5 222.9h0M469.2 222.4h0M470.0 222.0h0M470.8 221.6h0M471.5 221.1h0M472.3 220.7h0M473.1 220.2h0M473.8 219.8h0M474.6 219.3h0M475.4 218.9h0M476.1 218.4h0M476.9 218.0h0M477.7 217.6h0M478.4 217.1h0M479.2 216.7h0M480.0 216.2h0M480.7 215.8h0M481.5 215.3h0" stroke="#10c010" stroke-width="1.6" stroke-linecap="round"/>
<path d="M297.3 231.2h0M298.1 231.2h0M298.8 231.2h0M299.6 231.3h0M300.4 231.3h0M301.1 231.3h0M301.9 231.3h0M302.7 231.3h0M303.4 231.3h0M304.2 231.3h0M305.0 231.3h0M305.7 231.3h0M306.5 231.4h0M307.3 231.4h0M308.0 231.4h0M308.8 231.4h0M309.6 231.4h0M310.3 231.4h0M311.1 231.4h0M311.9 231.4h0M312.7 231.4h0M313.4 231.5h0M314.2 231.5h0M315.0 231.5h0M315.7 231.5h0M316.5 231.5h0M317.3 231.5h0M318.0 231.5h0M318.8 231.5h0M319.6 231.5h0M320.3 231.5h0M321.1 231.5h0M321.9 231.6h0M322.6 231.6h0M323.4 231.6h0M324.2 231.6h0M324.9 231.6h0M325.7 231.6h0M326.5 231.6h0M327.2 231.6h0M328.0 231.6h0M328.8 231.5h0M329.5 231.5h0M330.3 231.4h0M331.1 231.2h0M331.8 231.0h0M332.6 230.7h0M333.4 230.3h0M334.1 229.8h0M334.9 229.4h0M335.7 229.0h0M336.4 228.8h0M337.2 228.7h0M338.0 228.8h0M338.7 229.0h0M339.5 229.4h0M340.3 229.8h0M341.0 230.3h0M341.8 230.7h0M342.6 231.0h0M343.4 231.2h0M344.1 231.4h0M344.9 231.5h0M345.7 231.5h0M346.4 231.6h0M347.2 231.6h0M348.0 231.6h0M348.7 231.6h0M349.5 231.5h0M350.3 231.5h0M351.0 231.5h0M351.8 231.5h0M352.6 231.5h0M353.3 231.5h0M354.1 231.5h0M354.9 231.4h0M355.6 231.4h0M356.4 231.4h0M357.2 231.4h0M357.9 231.3h0M358.7 231.3h0M359.5 231.3h0M360.2 231.3h0M361.0 231.2h0M361.8 231.2h0M362.5 231.2h0M363.3 231.2h0M364.1 231.1h0M364.8 231.1h0M365.6 231.1h0M366.4 231.1h0M367.1 231.0h0M367.9 231.0h0M368.7 230.9h0M369.4 230.9h0M370.2 230.9h0M371.0 230.8h0M371.7 230.7h0M372.5 230.6h0M373.3 230.5h0M374.1 230.4h0M374.8 230.3h0M375.6 230.1h0M376.4 229.8h0M377.1 229.6h0M377.9 229.2h0M378.7 228.8h0M379.4 228.4h0M380.2 227.8h0M381.0 227.2h0M381.7 226.4h0M382.5 225.5h0M383.3 224.5h0M384.0 223.3h0M384.8 221.9h0M385.6 220.3h0M386.3 218.5h0M387.1 216.4h0M387.9 214.1h0M388.6 211.5h0M389.4 208.5h0M390.2 205.2h0M390.9 201.6h0M391.7 197.5h0M392.5 193.1h0M393.2 188.3h0M394.0 183.2h0M394.8 177.6h0M395.5 171.6h0M396.3 165.3h0M397.1 158.7h0M397.8 151.9h0M398.6 144.7h0M399.4 137.5h0M400.1 130.1h0M400.9 122.6h0M401.7 115.3h0M402.4 108.0h0M403.2 101.1h0M404.0 94.4h0M404.8 88.3h0M405.5 82.6h0M406.3 77.7h0M407.1 73.5h0M407.8 70.2h0M408.6 67.9h0M409.4 66.5h0M410.1 66.2h0M410.9 66.6h0M411.7 67.9h0M412.4 70.0h0M413.2 73.0h0M414.0 77.0h0M414.7 81.8h0M415.5 87.5h0M416.3 93.9h0M417.0 101.0h0M417.8 108.7h0M418.6 116.7h0M419.3 125.1h0M420.1 133.7h0M420.9 142.3h0M421.6 150.8h0M422.4 159.1h0M423.2 167.1h0M423.9 174.8h0M424.7 182.0h0M425.5 188.7h0M426.2 194.8h0M427.0 200.4h0M427.8 205.4h0M428.5 209.8h0M429.3 213.7h0M430.1 217.1h0M430.8 219.9h0M431.6 222.3h0M432.4 224.3h0M433.1 225.9h0M433.9 227.1h0M434.7 228.1h0M435.5 228.8h0M436.2 229.2h0M437.0 229.5h0M437.8 229.6h0M438.5 229.6h0M439.3 229.5h0M440.1 229.3h0M440.8 229.1h0M441.6 228.8h0M442.4 228.5h0M443.1 228.2h0M443.9 228.0h0M444.7 227.8h0M445.4 227.6h0M446.2 227.4h0M447.0 227.4h0M447.7 227.3h0M448.5 227.3h0M449.3 227.4h0M450.0 227.5h0M450.8 227.6h0M451.6 227.7h0M452.3 227.8h0M453.1 227.9h0M453.9 227.9h0M454.6 227.9h0M455.4 227.9h0M456.2 227.8h0M456.9 227.6h0M457.7 227.4h0M458.5 227.1h0M459.2 226.8h0M460.0 226.5h0M460.8 226.2h0M461.5 225.8h0M462.3 225.4h0M463.1 224.9h0M463.8 224.5h0M464.6 224.1h0M465.4 223.6h0M466.2 223.2h0M466.9 222.7h0M467.7 222.3h0M468.5 221.8h0M469.2 221.3h0M470.0 220.9h0M470.8 220.4h0M471.5 219.9h0M472.3 219.5h0M473.1 219.0h0M473.8 218.5h0M474.6 218.1h0M475.4 217.6h0M476.1 217.1h0M476.9 216.7h0M477.7 216.2h0M478.4 215.7h0M479.2 215.3h0M480.0 214.8h0M480.7 214.3h0M481.5 213.9h0" stroke="#e08840" stroke-width="1.6" stroke-linecap="round"/>
<path d="M297.3 228.3h0M298.1 228.4h0M298.8 228.4h0M299.6 228.4h0M300.4 228.5h0M301.1 228.5h0M301.9 228.6h0M302.7 228.6h0M303.4 228.6h0M304.2 228.7h0M305.0 228.7h0M305.7 228.7h0M306.5 228.8h0M307.3 228.8h0M308.0 228.9h0M308.8 228.9h0M309.6 228.9h0M310.3 229.0h0M311.1 229.0h0M311.9 229.0h0M312.7 229.1h0M313.4 229.1h0M314.2 229.1h0M315.0 229.2h0M315.7 229.2h0M316.5 229.2h0M317.3 229.3h0M318.0 229.3h0M318.8 229.3h0M319.6 229.4h0M320.3 229.4h0M321.1 229.4h0M321.9 229.5h0M322.6 229.5h0M323.4 229.5h0M324.2 229.6h0M324.9 229.6h0M325.7 229.6h0M326.5 229.7h0M327.2 229.7h0M328.0 229.7h0M328.8 229.7h0M329.5 229.7h0M330.3 229.6h0M331.1 229.5h0M331.8 229.3h0M332.6 229.0h0M333.4 228.6h0M334.1 228.2h0M334.9 227.8h0M335.7 227.4h0M336.4 227.2h0M337.2 227.1h0M338.0 227.3h0M338.7 227.5h0M339.5 227.9h0M340.3 228.4h0M341.0 228.9h0M341.8 229.3h0M342.6 229.6h0M343.4 229.9h0M344.1 230.1h0M344.9 230.2h0M345.7 230.3h0M346.4 230.3h0M347.2 230.4h0M348.0 230.4h0M348.7 230.4h0M349.5 230.4h0M350.3 230.5h0M351.0 230.5h0M351.8 230.5h0M352.6 230.5h0M353.3 230.5h0M354.1 230.5h0M354.9 230.5h0M355.6 230.5h0M356.4 230.6h0M357.2 230.6h0M357.9 230.6h0M358.7 230.6h0M359.5 230.6h0M360.2 230.6h0M361.0 230.6h0M361.8 230.6h0M362.5 230.6h0M363.3 230.6h0M364.1 230.6h0M364.8 230.6h0M365.6 230.6h0M366.4 230.6h0M367.1 230.7h0M367.9 230.7h0M368.7 230.7h0M369.4 230.7h0M370.2 230.7h0M371.0 230.7h0M371.7 230.6h0M372.5 230.6h0M373.3 230.6h0M374.1 230.5h0M374.8 230.4h0M375.6 230.3h0M376.4 230.2h0M377.1 230.0h0M377.9 229.7h0M378.7 229.5h0M379.4 229.1h0M380.2 228.7h0M381.0 228.2h0M381.7 227.6h0M382.5 226.9h0M383.3 226.1h0M384.0 225.1h0M384.8 224.0h0M385.6 222.7h0M386.3 221.1h0M387.1 219.3h0M387.9 217.3h0M388.6 215.0h0M389.4 212.3h0M390.2 209.4h0M390.9 206.0h0M391.7 202.3h0M392.5 198.2h0M393.2 193.7h0M394.0 188.8h0M394.8 183.5h0M395.5 177.9h0M396.3 171.8h0M397.1 165.5h0M397.8 158.9h0M398.6 152.1h0M399.4 145.1h0M400.1 138.0h0M400.9 131.0h0M401.7 124.0h0M402.4 117.3h0M403.2 110.9h0M404.0 104.9h0M404.8 99.4h0M405.5 94.6h0M406.3 90.6h0M407.1 87.5h0M407.8 85.3h0M408.6 84.1h0M409.4 84.0h0M410.1 84.5h0M410.9 85.9h0M411.7 88.1h0M412.4 91.1h0M413.2 95.1h0M414.0 99.9h0M414.7 105.4h0M415.5 111.7h0M416.3 118.5h0M417.0 125.8h0M417.8 133.4h0M418.6 141.3h0M419.3 149.2h0M420.1 157.1h0M420.9 164.9h0M421.6 172.4h0M422.4 179.6h0M423.2 186.3h0M423.9 192.6h0M424.7 198.3h0M425.5 203.5h0M426.2 208.2h0M427.0 212.3h0M427.8 215.9h0M428.5 219.0h0M429.3 221.7h0M430.1 223.9h0M430.8 225.7h0M431.6 227.1h0M432.4 228.3h0M433.1 229.1h0M433.9 229.7h0M434.7 230.1h0M435.5 230.3h0M436.2 230.3h0M437.0 230.3h0M437.8 230.1h0M438.5 229.8h0M439.3 229.5h0M440.1 229.2h0M440.8 228.8h0M441.6 228.4h0M442.4 228.1h0M443.1 227.7h0M443.9 227.4h0M444.7 227.1h0M445.4 226.9h0M446.2 226.8h0M447.0 226.7h0M447.7 226.6h0M448.5 226.6h0M449.3 226.7h0M450.0 226.8h0M450.8 226.9h0M451.6 227.0h0M452.3 227.1h0M453.1 227.1h0M453.9 227.2h0M454.6 227.2h0M455.4 227.1h0M456.2 227.0h0M456.9 226.9h0M457.7 226.7h0M458.5 226.4h0M459.2 226.1h0M460.0 225.8h0M460.8 225.4h0M461.5 225.0h0M462.3 224.6h0M463.1 224.2h0M463.8 223.8h0M464.6 223.3h0M465.4 222.9h0M466.2 222.4h0M466.9 222.0h0M467.7 221.5h0M468.5 221.1h0M469.2 220.6h0M470.0 220.1h0M470.8 219.7h0M471.5 219.2h0M472.3 218.7h0M473.1 218.3h0M473.8 217.8h0M474.6 217.3h0M475.4 216.9h0M476.1 216.4h0M476.9 215.9h0M477.7 215.5h0M478.4 215.0h0M479.2 214.5h0M480.0 214.1h0M480.7 213.6h0M481.5 213.1h0" stroke="#3090c8" stroke-width="1.6" stroke-linecap="round"/>
<path d="M297.3 226.9h0M298.1 227.0h0M298.8 227.0h0M299.6 227.1h0M300.4 227.1h0M301.1 227.2h0M301.9 227.2h0M302.7 227.3h0M303.4 227.3h0M304.2 227.4h0M305.0 227.4h0M305.7 227.5h0M306.5 227.5h0M307.3 227.5h0M308.0 227.6h0M308.8 227.6h0M309.6 227.7h0M310.3 227.7h0M311.1 227.8h0M311.9 227.8h0M312.7 227.9h0M313.4 227.9h0M314.2 228.0h0M315.0 228.0h0M315.7 228.1h0M316.5 228.1h0M317.3 228.2h0M318.0 228.2h0M318.8 228.3h0M319.6 228.3h0M320.3 228.4h0M321.1 228.4h0M321.9 228.5h0M322.6 228.5h0M323.4 228.6h0M324.2 228.6h0M324.9 228.6h0M325.7 228.7h0M326.5 228.7h0M327.2 228.8h0M328.0 228.8h0M328.8 228.8h0M329.5 228.8h0M330.3 228.7h0M331.1 228.6h0M331.8 228.4h0M332.6 228.1h0M333.4 227.8h0M334.1 227.4h0M334.9 227.0h0M335.7 226.6h0M336.4 226.4h0M337.2 226.4h0M338.0 226.5h0M338.7 226.8h0M339.5 227.2h0M340.3 227.7h0M341.0 228.2h0M341.8 228.6h0M342.6 229.0h0M343.4 229.2h0M344.1 229.4h0M344.9 229.6h0M345.7 229.7h0M346.4 229.8h0M347.2 229.8h0M348.0 229.9h0M348.7 229.9h0M349.5 229.9h0M350.3 230.0h0M351.0 230.0h0M351.8 230.0h0M352.6 230.0h0M353.3 230.1h0M354.1 230.1h0M354.9 230.1h0M355.6 230.1h0M356.4 230.2h0M357.2 230.2h0M357.9 230.2h0M358.7 230.2h0M359.5 230.3h0M360.2 230.3h0M361.0 230.3h0M361.8 230.3h0M362.5 230.4h0M363.3 230.4h0M364.1 230.4h0M364.8 230.4h0M365.6 230.5h0M366.4 230.5h0M367.1 230.5h0M367.9 230.5h0M368.7 230.6h0M369.4 230.6h0M370.2 230.6h0M371.0 230.6h0M371.7 230.6h0M372.5 230.6h0M373.3 230.6h0M374.1 230.6h0M374.8 230.5h0M375.6 230.4h0M376.4 230.3h0M377.1 230.2h0M377.9 230.0h0M378.7 229.8h0M379.4 229.5h0M380.2 229.1h0M381.0 228.7h0M381.7 228.1h0M382.5 227.5h0M383.3 226.7h0M384.0 225.8h0M384.8 224.7h0M385.6 223.4h0M386.3 221.9h0M387.1 220.2h0M387.9 218.2h0M388.6 215.9h0M389.4 213.3h0M390.2 210.4h0M390.9 207.0h0M391.7 203.3h0M392.5 199.3h0M393.2 194.7h0M394.0 189.8h0M394.8 184.5h0M395.5 178.8h0M396.3 172.9h0M397.1 166.6h0M397.8 160.1h0M398.6 153.5h0M399.4 146.7h0M400.1 140.0h0M400.9 133.4h0M401.7 127.0h0M402.4 121.0h0M403.2 115.4h0M404.0 110.4h0M404.8 106.1h0M405.5 102.6h0M406.3 100.1h0M407.1 98.5h0M407.8 98.0h0M408.6 98.2h0M409.4 99.2h0M410.1 101.0h0M410.9 103.7h0M411.7 107.2h0M412.4 111.5h0M413.2 116.6h0M414.0 122.4h0M414.7 128.7h0M415.5 135.5h0M416.3 142.7h0M417.0 150.1h0M417.8 157.5h0M418.6 164.9h0M419.3 172.2h0M420.1 179.2h0M420.9 185.8h0M421.6 192.1h0M422.4 197.8h0M423.2 203.1h0M423.9 207.8h0M424.7 212.1h0M425.5 215.8h0M426.2 219.0h0M427.0 221.7h0M427.8 224.0h0M428.5 225.9h0M429.3 227.5h0M430.1 228.7h0M430.8 229.6h0M431.6 230.4h0M432.4 230.9h0M433.1 231.2h0M433.9 231.3h0M434.7 231.4h0M435.5 231.3h0M436.2 231.1h0M437.0 230.8h0M437.8 230.5h0M438.5 230.1h0M439.3 229.7h0M440.1 229.3h0M440.8 228.9h0M441.6 228.5h0M442.4 228.1h0M443.1 227.8h0M443.9 227.4h0M444.7 227.2h0M445.4 226.9h0M446.2 226.8h0M447.0 226.7h0M447.7 226.6h0M448.5 226.6h0M449.3 226.7h0M450.0 226.8h0M450.8 226.9h0M451.6 227.0h0M452.3 227.1h0M453.1 227.1h0M453.9 227.2h0M454.6 227.2h0M455.4 227.1h0M456.2 227.0h0M456.9 226.8h0M457.7 226.6h0M458.5 226.3h0M459.2 226.0h0M460.0 225.7h0M460.8 225.3h0M461.5 224.9h0M462.3 224.5h0M463.1 224.0h0M463.8 223.6h0M464.6 223.1h0M465.4 222.6h0M466.2 222.2h0M466.9 221.7h0M467.7 221.2h0M468.5 220.7h0M469.2 220.2h0M470.0 219.7h0M470.8 219.3h0M471.5 218.8h0M472.3 218.3h0M473.1 217.8h0M473.8 217.3h0M474.6 216.8h0M475.4 216.3h0M476.1 215.8h0M476.9 215.3h0M477.7 214.8h0M478.4 214.4h0M479.2 213.9h0M480.0 213.4h0M480.7 212.9h0M481.5 212.4h0" stroke="#1f5fd0" stroke-width="1.6" stroke-linecap="round"/>
<path d="M297.3 227.7h0M298.1 227.8h0M298.8 227.8h0M299.6 227.9h0M300.4 227.9h0M301.1 228.0h0M301.9 228.0h0M302.7 228.1h0M303.4 228.1h0M304.2 228.1h0M305.0 228.2h0M305.7 228.2h0M306.5 228.3h0M307.3 228.3h0M308.0 228.4h0M308.8 228.4h0M309.6 228.5h0M310.3 228.5h0M311.1 228.6h0M311.9 228.6h0M312.7 228.6h0M313.4 228.7h0M314.2 228.7h0M315.0 228.8h0M315.7 228.8h0M316.5 228.9h0M317.3 228.9h0M318.0 228.9h0M318.8 229.0h0M319.6 229.0h0M320.3 229.1h0M321.1 229.1h0M321.9 229.2h0M322.6 229.2h0M323.4 229.2h0M324.2 229.3h0M324.9 229.3h0M325.7 229.4h0M326.5 229.4h0M327.2 229.4h0M328.0 229.5h0M328.8 229.5h0M329.5 229.5h0M330.3 229.4h0M331.1 229.3h0M331.8 229.1h0M332.6 228.8h0M333.4 228.4h0M334.1 228.0h0M334.9 227.6h0M335.7 227.3h0M336.4 227.1h0M337.2 227.0h0M338.0 227.2h0M338.7 227.5h0M339.5 227.9h0M340.3 228.4h0M341.0 228.8h0M341.8 229.3h0M342.6 229.6h0M343.4 229.9h0M344.1 230.1h0M344.9 230.2h0M345.7 230.3h0M346.4 230.4h0M347.2 230.5h0M348.0 230.5h0M348.7 230.5h0M349.5 230.6h0M350.3 230.6h0M351.0 230.6h0M351.8 230.7h0M352.6 230.7h0M353.3 230.7h0M354.1 230.8h0M354.9 230.8h0M355.6 230.8h0M356.4 230.9h0M357.2 230.9h0M357.9 230.9h0M358.7 231.0h0M359.5 231.0h0M360.2 231.0h0M361.0 231.0h0M361.8 231.1h0M362.5 231.1h0M363.3 231.1h0M364.1 231.2h0M364.8 231.2h0M365.6 231.3h0M366.4 231.3h0M367.1 231.3h0M367.9 231.4h0M368.7 231.4h0M369.4 231.5h0M370.2 231.5h0M371.0 231.5h0M371.7 231.6h0M372.5 231.6h0M373.3 231.6h0M374.1 231.6h0M374.8 231.6h0M375.6 231.6h0M376.4 231.6h0M377.1 231.5h0M377.9 231.4h0M378.7 231.3h0M379.4 231.1h0M380.2 230.9h0M381.0 230.6h0M381.7 230.3h0M382.5 229.9h0M383.3 229.4h0M384.0 228.8h0M384.8 228.0h0M385.6 227.1h0M386.3 226.1h0M387.1 224.9h0M387.9 223.4h0M388.6 221.7h0M389.4 219.8h0M390.2 217.5h0M390.9 215.0h0M391.7 212.1h0M392.5 208.9h0M393.2 205.3h0M394.0 201.4h0M394.8 197.2h0M395.5 192.7h0M396.3 187.9h0M397.1 182.9h0M397.8 177.7h0M398.6 172.5h0M399.4 167.3h0M400.1 162.2h0M400.9 157.2h0M401.7 152.6h0M402.4 148.3h0M403.2 144.6h0M404.0 141.6h0M404.8 139.2h0M405.5 137.7h0M406.3 137.1h0M407.1 137.2h0M407.8 137.9h0M408.6 139.1h0M409.4 141.0h0M410.1 143.6h0M410.9 146.8h0M411.7 150.5h0M412.4 154.8h0M413.2 159.5h0M414.0 164.6h0M414.7 169.9h0M415.5 175.4h0M416.3 180.8h0M417.0 186.3h0M417.8 191.6h0M418.6 196.7h0M419.3 201.5h0M420.1 205.9h0M420.9 210.0h0M421.6 213.7h0M422.4 217.0h0M423.2 219.9h0M423.9 222.4h0M424.7 224.6h0M425.5 226.4h0M426.2 227.9h0M427.0 229.1h0M427.8 230.1h0M428.5 230.9h0M429.3 231.5h0M430.1 231.9h0M430.8 232.2h0M431.6 232.4h0M432.4 232.4h0M433.1 232.4h0M433.9 232.3h0M434.7 232.2h0M435.5 232.0h0M436.2 231.7h0M437.0 231.4h0M437.8 231.0h0M438.5 230.7h0M439.3 230.3h0M440.1 229.9h0M440.8 229.5h0M441.6 229.1h0M442.4 228.7h0M443.1 228.4h0M443.9 228.1h0M444.7 227.8h0M445.4 227.6h0M446.2 227.5h0M447.0 227.4h0M447.7 227.3h0M448.5 227.4h0M449.3 227.4h0M450.0 227.5h0M450.8 227.6h0M451.6 227.7h0M452.3 227.8h0M453.1 227.9h0M453.9 227.9h0M454.6 227.9h0M455.4 227.9h0M456.2 227.8h0M456.9 227.6h0M457.7 227.4h0M458.5 227.1h0M459.2 226.8h0M460.0 226.5h0M460.8 226.2h0M461.5 225.8h0M462.3 225.4h0M463.1 224.9h0M463.8 224.5h0M464.6 224.1h0M465.4 223.6h0M466.2 223.2h0M466.9 222.7h0M467.7 222.3h0M468.5 221.8h0M469.2 221.3h0M470.0 220.9h0M470.8 220.4h0M471.5 219.9h0M472.3 219.5h0M473.1 219.0h0M473.8 218.5h0M474.6 218.1h0M475.4 217.6h0M476.1 217.1h0M476.9 216.7h0M477.7 216.2h0M478.4 215.7h0M479.2 215.3h0M480.0 214.8h0M480.7 214.3h0M481.5 213.9h0" stroke="#808000" stroke-width="1.6" stroke-linecap="round"/>
</g>
<g clip-path="url(#cc)">
<path d="M535.4 233.5h0M536.2 233.5h0M537.0 233.6h0M537.7 233.6h0M538.5 233.6h0M539.3 233.7h0M540.1 233.7h0M540.9 233.7h0M541.6 233.7h0M542.4 233.8h0M543.2 233.8h0M544.0 233.8h0M544.8 233.8h0M545.6 233.9h0M546.3 233.9h0M547.1 233.9h0M547.9 233.9h0M548.7 234.0h0M549.5 234.0h0M550.2 234.0h0M551.0 234.0h0M551.8 234.1h0M552.6 234.1h0M553.4 234.1h0M554.1 234.1h0M554.9 234.1h0M555.7 234.2h0M556.5 234.2h0M557.3 234.2h0M558.0 234.2h0M558.8 234.2h0M559.6 234.2h0M560.4 234.3h0M561.2 234.3h0M561.9 234.3h0M562.7 234.3h0M563.5 234.3h0M564.3 234.3h0M565.1 234.3h0M565.9 234.3h0M566.6 234.4h0M567.4 234.4h0M568.2 234.4h0M569.0 234.4h0M569.8 234.4h0M570.5 234.4h0M571.3 234.4h0M572.1 234.4h0M572.9 234.4h0M573.7 234.5h0M574.4 234.5h0M575.2 234.5h0M576.0 234.5h0M576.8 234.5h0M577.6 234.5h0M578.3 234.5h0M579.1 234.5h0M579.9 234.5h0M580.7 234.5h0M581.5 234.5h0M582.2 234.5h0M583.0 234.6h0M583.8 234.6h0M584.6 234.6h0M585.4 234.6h0M586.2 234.6h0M586.9 234.6h0M587.7 234.6h0M588.5 234.6h0M589.3 234.6h0M590.1 234.6h0M590.8 234.6h0M591.6 234.6h0M592.4 234.6h0M593.2 234.6h0M594.0 234.6h0M594.7 234.6h0M595.5 234.6h0M596.3 234.6h0M597.1 234.6h0M597.9 234.6h0M598.6 234.6h0M599.4 234.6h0M600.2 234.6h0M601.0 234.6h0M601.8 234.6h0M602.6 234.6h0M603.3 234.6h0M604.1 234.6h0M604.9 234.6h0M605.7 234.6h0M606.5 234.6h0M607.2 234.6h0M608.0 234.6h0M608.8 234.6h0M609.6 234.6h0M610.4 234.6h0M611.1 234.6h0M611.9 234.6h0M612.7 234.6h0M613.5 234.6h0M614.3 234.6h0M615.0 234.6h0M615.8 234.5h0M616.6 234.5h0M617.4 234.5h0M618.2 234.5h0M618.9 234.5h0M619.7 234.4h0M620.5 234.4h0M621.3 234.3h0M622.1 234.3h0M622.9 234.2h0M623.6 234.1h0M624.4 234.0h0M625.2 233.9h0M626.0 233.7h0M626.8 233.5h0M627.5 233.3h0M628.3 233.0h0M629.1 232.6h0M629.9 232.2h0M630.7 231.7h0M631.4 231.2h0M632.2 230.5h0M633.0 229.8h0M633.8 229.0h0M634.6 228.1h0M635.3 227.2h0M636.1 226.1h0M636.9 225.0h0M637.7 223.9h0M638.5 222.8h0M639.3 221.6h0M640.0 220.5h0M640.8 219.4h0M641.6 218.4h0M642.4 217.5h0M643.2 216.8h0M643.9 216.2h0M644.7 215.8h0M645.5 215.6h0M646.3 215.6h0M647.1 215.8h0M647.8 216.2h0M648.6 216.8h0M649.4 217.7h0M650.2 218.7h0M651.0 219.9h0M651.7 221.2h0M652.5 222.6h0M653.3 224.0h0M654.1 225.4h0M654.9 226.8h0M655.6 228.0h0M656.4 229.2h0M657.2 230.2h0M658.0 231.1h0M658.8 231.9h0M659.6 232.5h0M660.3 233.0h0M661.1 233.4h0M661.9 233.7h0M662.7 233.9h0M663.5 234.0h0M664.2 234.0h0M665.0 234.1h0M665.8 234.0h0M666.6 234.0h0M667.4 233.9h0M668.1 233.8h0M668.9 233.7h0M669.7 233.7h0M670.5 233.6h0M671.3 233.5h0M672.0 233.4h0M672.8 233.4h0M673.6 233.4h0M674.4 233.4h0M675.2 233.4h0M675.9 233.4h0M676.7 233.4h0M677.5 233.5h0M678.3 233.5h0M679.1 233.6h0M679.9 233.6h0M680.6 233.7h0M681.4 233.7h0M682.2 233.7h0M683.0 233.7h0M683.8 233.7h0M684.5 233.6h0M685.3 233.5h0M686.1 233.4h0M686.9 233.3h0M687.7 233.1h0M688.4 232.9h0M689.2 232.7h0M690.0 232.4h0M690.8 232.1h0M691.6 231.8h0M692.3 231.4h0M693.1 230.9h0M693.9 230.4h0M694.7 229.8h0M695.5 229.2h0M696.3 228.5h0M697.0 227.8h0M697.8 226.9h0M698.6 226.0h0M699.4 225.1h0M700.2 224.0h0M700.9 222.9h0M701.7 221.7h0M702.5 220.5h0M703.3 219.2h0M704.1 217.8h0M704.8 216.4h0M705.6 214.9h0M706.4 213.3h0M707.2 211.7h0M708.0 210.1h0M708.7 208.4h0M709.5 206.7h0M710.3 204.9h0M711.1 203.1h0M711.9 201.3h0M712.6 199.5h0M713.4 197.6h0M714.2 195.7h0M715.0 193.8h0M715.8 191.9h0M716.6 190.0h0M717.3 188.1h0M718.1 186.1h0M718.9 184.2h0M719.7 182.2h0M720.5 180.2h0M721.2 178.3h0M722.0 176.3h0M722.8 174.3h0" stroke="#00a0a0" stroke-width="1.8" stroke-linecap="round"/>
<path d="M535.4 229.6h0M536.2 229.8h0M537.0 229.9h0M537.7 230.1h0M538.5 230.2h0M539.3 230.3h0M540.1 230.4h0M540.9 230.6h0M541.6 230.7h0M542.4 230.8h0M543.2 230.9h0M544.0 231.0h0M544.8 231.1h0M545.6 231.2h0M546.3 231.3h0M547.1 231.4h0M547.9 231.5h0M548.7 231.6h0M549.5 231.7h0M550.2 231.8h0M551.0 231.9h0M551.8 231.9h0M552.6 232.0h0M553.4 232.1h0M554.1 232.2h0M554.9 232.3h0M555.7 232.3h0M556.5 232.4h0M557.3 232.5h0M558.0 232.6h0M558.8 232.6h0M559.6 232.7h0M560.4 232.7h0M561.2 232.8h0M561.9 232.9h0M562.7 232.9h0M563.5 233.0h0M564.3 233.0h0M565.1 233.1h0M565.9 233.2h0M566.6 233.2h0M567.4 233.3h0M568.2 233.3h0M569.0 233.4h0M569.8 233.4h0M570.5 233.4h0M571.3 233.5h0M572.1 233.5h0M572.9 233.6h0M573.7 233.6h0M574.4 233.7h0M575.2 233.7h0M576.0 233.7h0M576.8 233.8h0M577.6 233.8h0M578.3 233.8h0M579.1 233.9h0M579.9 233.9h0M580.7 233.9h0M581.5 234.0h0M582.2 234.0h0M583.0 234.0h0M583.8 234.1h0M584.6 234.1h0M585.4 234.1h0M586.2 234.1h0M586.9 234.2h0M587.7 234.2h0M588.5 234.2h0M589.3 234.2h0M590.1 234.3h0M590.8 234.3h0M591.6 234.3h0M592.4 234.3h0M593.2 234.3h0M594.0 234.4h0M594.7 234.4h0M595.5 234.4h0M596.3 234.4h0M597.1 234.4h0M597.9 234.5h0M598.6 234.5h0M599.4 234.5h0M600.2 234.5h0M601.0 234.5h0M601.8 234.5h0M602.6 234.5h0M603.3 234.5h0M604.1 234.6h0M604.9 234.6h0M605.7 234.6h0M606.5 234.6h0M607.2 234.6h0M608.0 234.6h0M608.8 234.6h0M609.6 234.6h0M610.4 234.6h0M611.1 234.6h0M611.9 234.6h0M612.7 234.6h0M613.5 234.6h0M614.3 234.5h0M615.0 234.5h0M615.8 234.5h0M616.6 234.5h0M617.4 234.5h0M618.2 234.5h0M618.9 234.4h0M619.7 234.4h0M620.5 234.4h0M621.3 234.3h0M622.1 234.2h0M622.9 234.2h0M623.6 234.1h0M624.4 234.0h0M625.2 233.8h0M626.0 233.6h0M626.8 233.4h0M627.5 233.1h0M628.3 232.8h0M629.1 232.4h0M629.9 232.0h0M630.7 231.5h0M631.4 230.8h0M632.2 230.2h0M633.0 229.4h0M633.8 228.5h0M634.6 227.5h0M635.3 226.5h0M636.1 225.3h0M636.9 224.2h0M637.7 222.9h0M638.5 221.7h0M639.3 220.4h0M640.0 219.2h0M640.8 218.0h0M641.6 216.9h0M642.4 216.0h0M643.2 215.2h0M643.9 214.5h0M644.7 214.1h0M645.5 213.9h0M646.3 213.9h0M647.1 214.1h0M647.8 214.5h0M648.6 215.2h0M649.4 216.1h0M650.2 217.2h0M651.0 218.5h0M651.7 219.9h0M652.5 221.4h0M653.3 223.0h0M654.1 224.5h0M654.9 226.0h0M655.6 227.4h0M656.4 228.6h0M657.2 229.7h0M658.0 230.7h0M658.8 231.5h0M659.6 232.2h0M660.3 232.7h0M661.1 233.1h0M661.9 233.4h0M662.7 233.5h0M663.5 233.6h0M664.2 233.7h0M665.0 233.6h0M665.8 233.5h0M666.6 233.4h0M667.4 233.3h0M668.1 233.1h0M668.9 232.9h0M669.7 232.7h0M670.5 232.5h0M671.3 232.2h0M672.0 232.0h0M672.8 231.7h0M673.6 231.5h0M674.4 231.2h0M675.2 230.9h0M675.9 230.5h0M676.7 230.2h0M677.5 229.8h0M678.3 229.3h0M679.1 228.8h0M679.9 228.2h0M680.6 227.6h0M681.4 226.8h0M682.2 226.0h0M683.0 225.1h0M683.8 224.0h0M684.5 222.9h0M685.3 221.7h0M686.1 220.4h0M686.9 218.9h0M687.7 217.4h0M688.4 215.8h0M689.2 214.0h0M690.0 212.2h0M690.8 210.3h0M691.6 208.3h0M692.3 206.3h0M693.1 204.2h0M693.9 202.0h0M694.7 199.7h0M695.5 197.4h0M696.3 195.1h0M697.0 192.7h0M697.8 190.3h0M698.6 187.9h0M699.4 185.4h0M700.2 182.9h0M700.9 180.3h0M701.7 177.8h0M702.5 175.2h0M703.3 172.7h0M704.1 170.1h0M704.8 167.5h0M705.6 164.8h0M706.4 162.2h0M707.2 159.6h0M708.0 156.9h0M708.7 154.3h0M709.5 151.6h0M710.3 149.0h0M711.1 146.3h0M711.9 143.7h0M712.6 141.0h0M713.4 138.3h0M714.2 135.7h0M715.0 133.0h0M715.8 130.3h0M716.6 127.6h0M717.3 125.0h0M718.1 122.3h0M718.9 119.6h0M719.7 116.9h0M720.5 114.2h0M721.2 111.6h0M722.0 108.9h0M722.8 106.2h0" stroke="#0000ff" stroke-width="1.8" stroke-linecap="round"/>
<path d="M535.4 232.2h0M536.2 232.3h0M537.0 232.3h0M537.7 232.4h0M538.5 232.5h0M539.3 232.5h0M540.1 232.6h0M540.9 232.7h0M541.6 232.7h0M542.4 232.8h0M543.2 232.8h0M544.0 232.9h0M544.8 232.9h0M545.6 233.0h0M546.3 233.0h0M547.1 233.1h0M547.9 233.1h0M548.7 233.2h0M549.5 233.2h0M550.2 233.3h0M551.0 233.3h0M551.8 233.3h0M552.6 233.4h0M553.4 233.4h0M554.1 233.5h0M554.9 233.5h0M555.7 233.5h0M556.5 233.6h0M557.3 233.6h0M558.0 233.6h0M558.8 233.7h0M559.6 233.7h0M560.4 233.7h0M561.2 233.8h0M561.9 233.8h0M562.7 233.8h0M563.5 233.9h0M564.3 233.9h0M565.1 233.9h0M565.9 233.9h0M566.6 234.0h0M567.4 234.0h0M568.2 234.0h0M569.0 234.0h0M569.8 234.1h0M570.5 234.1h0M571.3 234.1h0M572.1 234.1h0M572.9 234.1h0M573.7 234.2h0M574.4 234.2h0M575.2 234.2h0M576.0 234.2h0M576.8 234.2h0M577.6 234.3h0M578.3 234.3h0M579.1 234.3h0M579.9 234.3h0M580.7 234.3h0M581.5 234.3h0M582.2 234.4h0M583.0 234.4h0M583.8 234.4h0M584.6 234.4h0M585.4 234.4h0M586.2 234.4h0M586.9 234.4h0M587.7 234.4h0M588.5 234.4h0M589.3 234.5h0M590.1 234.5h0M590.8 234.5h0M591.6 234.5h0M592.4 234.5h0M593.2 234.5h0M594.0 234.5h0M594.7 234.5h0M595.5 234.5h0M596.3 234.5h0M597.1 234.5h0M597.9 234.5h0M598.6 234.6h0M599.4 234.6h0M600.2 234.6h0M601.0 234.6h0M601.8 234.6h0M602.6 234.6h0M603.3 234.6h0M604.1 234.6h0M604.9 234.6h0M605.7 234.6h0M606.5 234.6h0M607.2 234.6h0M608.0 234.6h0M608.8 234.6h0M609.6 234.6h0M610.4 234.6h0M611.1 234.6h0M611.9 234.5h0M612.7 234.5h0M613.5 234.5h0M614.3 234.5h0M615.0 234.5h0M615.8 234.5h0M616.6 234.5h0M617.4 234.4h0M618.2 234.4h0M618.9 234.4h0M619.7 234.3h0M620.5 234.3h0M621.3 234.2h0M622.1 234.2h0M622.9 234.1h0M623.6 234.0h0M624.4 233.8h0M625.2 233.6h0M626.0 233.4h0M626.8 233.2h0M627.5 232.9h0M628.3 232.5h0M629.1 232.0h0M629.9 231.5h0M630.7 230.9h0M631.4 230.2h0M632.2 229.4h0M633.0 228.5h0M633.8 227.4h0M634.6 226.3h0M635.3 225.1h0M636.1 223.8h0M636.9 222.4h0M637.7 220.9h0M638.5 219.5h0M639.3 218.0h0M640.0 216.6h0M640.8 215.2h0M641.6 213.9h0M642.4 212.8h0M643.2 211.9h0M643.9 211.1h0M644.7 210.6h0M645.5 210.4h0M646.3 210.4h0M647.1 210.6h0M647.8 211.1h0M648.6 211.9h0M649.4 213.0h0M650.2 214.3h0M651.0 215.8h0M651.7 217.5h0M652.5 219.2h0M653.3 221.0h0M654.1 222.8h0M654.9 224.6h0M655.6 226.2h0M656.4 227.7h0M657.2 229.0h0M658.0 230.1h0M658.8 231.1h0M659.6 231.9h0M660.3 232.5h0M661.1 233.0h0M661.9 233.4h0M662.7 233.7h0M663.5 233.8h0M664.2 233.9h0M665.0 233.9h0M665.8 233.9h0M666.6 233.9h0M667.4 233.8h0M668.1 233.7h0M668.9 233.6h0M669.7 233.5h0M670.5 233.4h0M671.3 233.3h0M672.0 233.2h0M672.8 233.1h0M673.6 233.1h0M674.4 233.0h0M675.2 233.0h0M675.9 232.9h0M676.7 232.9h0M677.5 232.9h0M678.3 232.8h0M679.1 232.8h0M679.9 232.7h0M680.6 232.6h0M681.4 232.5h0M682.2 232.3h0M683.0 232.1h0M683.8 231.9h0M684.5 231.6h0M685.3 231.3h0M686.1 230.9h0M686.9 230.4h0M687.7 229.9h0M688.4 229.3h0M689.2 228.6h0M690.0 227.8h0M690.8 227.0h0M691.6 226.1h0M692.3 225.1h0M693.1 224.0h0M693.9 222.9h0M694.7 221.6h0M695.5 220.3h0M696.3 218.9h0M697.0 217.4h0M697.8 215.9h0M698.6 214.2h0M699.4 212.6h0M700.2 210.8h0M700.9 209.0h0M701.7 207.1h0M702.5 205.2h0M703.3 203.3h0M704.1 201.3h0M704.8 199.2h0M705.6 197.2h0M706.4 195.1h0M707.2 193.0h0M708.0 190.8h0M708.7 188.7h0M709.5 186.5h0M710.3 184.3h0M711.1 182.1h0M711.9 179.9h0M712.6 177.6h0M713.4 175.4h0M714.2 173.1h0M715.0 170.9h0M715.8 168.6h0M716.6 166.4h0M717.3 164.1h0M718.1 161.8h0M718.9 159.5h0M719.7 157.3h0M720.5 155.0h0M721.2 152.7h0M722.0 150.4h0M722.8 148.1h0" stroke="#008000" stroke-width="1.8" stroke-linecap="round"/>
<path d="M535.4 228.4h0M536.2 228.5h0M537.0 228.7h0M537.7 228.9h0M538.5 229.0h0M539.3 229.2h0M540.1 229.3h0M540.9 229.5h0M541.6 229.6h0M542.4 229.8h0M543.2 229.9h0M544.0 230.1h0M544.8 230.2h0M545.6 230.3h0M546.3 230.4h0M547.1 230.6h0M547.9 230.7h0M548.7 230.8h0M549.5 230.9h0M550.2 231.0h0M551.0 231.1h0M551.8 231.2h0M552.6 231.3h0M553.4 231.4h0M554.1 231.5h0M554.9 231.6h0M555.7 231.7h0M556.5 231.8h0M557.3 231.9h0M558.0 232.0h0M558.8 232.1h0M559.6 232.2h0M560.4 232.2h0M561.2 232.3h0M561.9 232.4h0M562.7 232.5h0M563.5 232.5h0M564.3 232.6h0M565.1 232.7h0M565.9 232.7h0M566.6 232.8h0M567.4 232.9h0M568.2 232.9h0M569.0 233.0h0M569.8 233.0h0M570.5 233.1h0M571.3 233.2h0M572.1 233.2h0M572.9 233.3h0M573.7 233.3h0M574.4 233.4h0M575.2 233.4h0M576.0 233.5h0M576.8 233.5h0M577.6 233.6h0M578.3 233.6h0M579.1 233.6h0M579.9 233.7h0M580.7 233.7h0M581.5 233.8h0M582.2 233.8h0M583.0 233.8h0M583.8 233.9h0M584.6 233.9h0M585.4 233.9h0M586.2 234.0h0M586.9 234.0h0M587.7 234.0h0M588.5 234.1h0M589.3 234.1h0M590.1 234.1h0M590.8 234.2h0M591.6 234.2h0M592.4 234.2h0M593.2 234.2h0M594.0 234.3h0M594.7 234.3h0M595.5 234.3h0M596.3 234.3h0M597.1 234.3h0M597.9 234.4h0M598.6 234.4h0M599.4 234.4h0M600.2 234.4h0M601.0 234.4h0M601.8 234.5h0M602.6 234.5h0M603.3 234.5h0M604.1 234.5h0M604.9 234.5h0M605.7 234.5h0M606.5 234.5h0M607.2 234.5h0M608.0 234.6h0M608.8 234.6h0M609.6 234.5h0M610.4 234.5h0M611.1 234.5h0M611.9 234.5h0M612.7 234.5h0M613.5 234.5h0M614.3 234.5h0M615.0 234.5h0M615.8 234.4h0M616.6 234.4h0M617.4 234.4h0M618.2 234.4h0M618.9 234.3h0M619.7 234.3h0M620.5 234.2h0M621.3 234.2h0M622.1 234.1h0M622.9 234.0h0M623.6 233.9h0M624.4 233.7h0M625.2 233.5h0M626.0 233.3h0M626.8 233.0h0M627.5 232.7h0M628.3 232.3h0M629.1 231.8h0M629.9 231.2h0M630.7 230.5h0M631.4 229.7h0M632.2 228.8h0M633.0 227.8h0M633.8 226.7h0M634.6 225.5h0M635.3 224.1h0M636.1 222.7h0M636.9 221.1h0M637.7 219.6h0M638.5 218.0h0M639.3 216.3h0M640.0 214.8h0M640.8 213.3h0M641.6 211.9h0M642.4 210.6h0M643.2 209.6h0M643.9 208.8h0M644.7 208.2h0M645.5 207.9h0M646.3 208.0h0M647.1 208.2h0M647.8 208.8h0M648.6 209.6h0M649.4 210.8h0M650.2 212.2h0M651.0 213.9h0M651.7 215.7h0M652.5 217.7h0M653.3 219.6h0M654.1 221.6h0M654.9 223.5h0M655.6 225.3h0M656.4 226.9h0M657.2 228.4h0M658.0 229.6h0M658.8 230.7h0M659.6 231.6h0M660.3 232.2h0M661.1 232.8h0M661.9 233.2h0M662.7 233.4h0M663.5 233.6h0M664.2 233.7h0M665.0 233.7h0M665.8 233.7h0M666.6 233.6h0M667.4 233.5h0M668.1 233.3h0M668.9 233.2h0M669.7 233.0h0M670.5 232.8h0M671.3 232.7h0M672.0 232.5h0M672.8 232.3h0M673.6 232.1h0M674.4 231.9h0M675.2 231.7h0M675.9 231.5h0M676.7 231.3h0M677.5 231.0h0M678.3 230.7h0M679.1 230.3h0M679.9 230.0h0M680.6 229.5h0M681.4 229.0h0M682.2 228.4h0M683.0 227.7h0M683.8 226.9h0M684.5 226.1h0M685.3 225.1h0M686.1 224.1h0M686.9 223.0h0M687.7 221.7h0M688.4 220.4h0M689.2 218.9h0M690.0 217.4h0M690.8 215.8h0M691.6 214.0h0M692.3 212.2h0M693.1 210.4h0M693.9 208.4h0M694.7 206.4h0M695.5 204.3h0M696.3 202.2h0M697.0 200.0h0M697.8 197.8h0M698.6 195.5h0M699.4 193.2h0M700.2 190.9h0M700.9 188.5h0M701.7 186.1h0M702.5 183.7h0M703.3 181.2h0M704.1 178.8h0M704.8 176.3h0M705.6 173.8h0M706.4 171.3h0M707.2 168.8h0M708.0 166.2h0M708.7 163.7h0M709.5 161.2h0M710.3 158.6h0M711.1 156.1h0M711.9 153.5h0M712.6 150.9h0M713.4 148.4h0M714.2 145.8h0M715.0 143.2h0M715.8 140.6h0M716.6 138.1h0M717.3 135.5h0M718.1 132.9h0M718.9 130.3h0M719.7 127.8h0M720.5 125.2h0M721.2 122.6h0M722.0 120.0h0M722.8 117.4h0" stroke="#ff00ff" stroke-width="1.8" stroke-linecap="round"/>
<path d="M535.4 229.0h0M536.2 229.2h0M537.0 229.3h0M537.7 229.5h0M538.5 229.6h0M539.3 229.7h0M540.1 229.9h0M540.9 230.0h0M541.6 230.1h0M542.4 230.3h0M543.2 230.4h0M544.0 230.5h0M544.8 230.6h0M545.6 230.8h0M546.3 230.9h0M547.1 231.0h0M547.9 231.1h0M548.7 231.2h0M549.5 231.3h0M550.2 231.4h0M551.0 231.5h0M551.8 231.6h0M552.6 231.7h0M553.4 231.8h0M554.1 231.9h0M554.9 231.9h0M555.7 232.0h0M556.5 232.1h0M557.3 232.2h0M558.0 232.3h0M558.8 232.3h0M559.6 232.4h0M560.4 232.5h0M561.2 232.6h0M561.9 232.6h0M562.7 232.7h0M563.5 232.8h0M564.3 232.8h0M565.1 232.9h0M565.9 232.9h0M566.6 233.0h0M567.4 233.1h0M568.2 233.1h0M569.0 233.2h0M569.8 233.2h0M570.5 233.3h0M571.3 233.3h0M572.1 233.4h0M572.9 233.4h0M573.7 233.5h0M574.4 233.5h0M575.2 233.5h0M576.0 233.6h0M576.8 233.6h0M577.6 233.7h0M578.3 233.7h0M579.1 233.7h0M579.9 233.8h0M580.7 233.8h0M581.5 233.9h0M582.2 233.9h0M583.0 233.9h0M583.8 234.0h0M584.6 234.0h0M585.4 234.0h0M586.2 234.0h0M586.9 234.1h0M587.7 234.1h0M588.5 234.1h0M589.3 234.1h0M590.1 234.2h0M590.8 234.2h0M591.6 234.2h0M592.4 234.2h0M593.2 234.3h0M594.0 234.3h0M594.7 234.3h0M595.5 234.3h0M596.3 234.3h0M597.1 234.4h0M597.9 234.4h0M598.6 234.4h0M599.4 234.4h0M600.2 234.4h0M601.0 234.4h0M601.8 234.5h0M602.6 234.5h0M603.3 234.5h0M604.1 234.5h0M604.9 234.5h0M605.7 234.5h0M606.5 234.5h0M607.2 234.5h0M608.0 234.5h0M608.8 234.5h0M609.6 234.5h0M610.4 234.5h0M611.1 234.5h0M611.9 234.5h0M612.7 234.5h0M613.5 234.5h0M614.3 234.4h0M615.0 234.4h0M615.8 234.4h0M616.6 234.4h0M617.4 234.4h0M618.2 234.3h0M618.9 234.3h0M619.7 234.2h0M620.5 234.2h0M621.3 234.1h0M622.1 234.0h0M622.9 233.9h0M623.6 233.8h0M624.4 233.6h0M625.2 233.4h0M626.0 233.2h0M626.8 232.9h0M627.5 232.5h0M628.3 232.1h0M629.1 231.5h0M629.9 230.9h0M630.7 230.2h0M631.4 229.3h0M632.2 228.3h0M633.0 227.2h0M633.8 226.0h0M634.6 224.7h0M635.3 223.2h0M636.1 221.7h0M636.9 220.0h0M637.7 218.3h0M638.5 216.5h0M639.3 214.8h0M640.0 213.1h0M640.8 211.5h0M641.6 210.0h0M642.4 208.6h0M643.2 207.5h0M643.9 206.6h0M644.7 206.0h0M645.5 205.7h0M646.3 205.7h0M647.1 206.0h0M647.8 206.6h0M648.6 207.6h0M649.4 208.8h0M650.2 210.4h0M651.0 212.2h0M651.7 214.2h0M652.5 216.3h0M653.3 218.4h0M654.1 220.6h0M654.9 222.6h0M655.6 224.6h0M656.4 226.3h0M657.2 227.9h0M658.0 229.3h0M658.8 230.4h0M659.6 231.4h0M660.3 232.2h0M661.1 232.8h0M661.9 233.2h0M662.7 233.5h0M663.5 233.7h0M664.2 233.9h0M665.0 233.9h0M665.8 233.9h0M666.6 233.9h0M667.4 233.8h0M668.1 233.8h0M668.9 233.7h0M669.7 233.6h0M670.5 233.5h0M671.3 233.4h0M672.0 233.3h0M672.8 233.3h0M673.6 233.2h0M674.4 233.2h0M675.2 233.2h0M675.9 233.2h0M676.7 233.2h0M677.5 233.2h0M678.3 233.2h0M679.1 233.2h0M679.9 233.1h0M680.6 233.1h0M681.4 233.1h0M682.2 233.0h0M683.0 232.9h0M683.8 232.7h0M684.5 232.5h0M685.3 232.3h0M686.1 232.0h0M686.9 231.7h0M687.7 231.3h0M688.4 230.9h0M689.2 230.4h0M690.0 229.9h0M690.8 229.3h0M691.6 228.6h0M692.3 227.8h0M693.1 227.0h0M693.9 226.1h0M694.7 225.1h0M695.5 224.0h0M696.3 222.9h0M697.0 221.6h0M697.8 220.3h0M698.6 219.0h0M699.4 217.5h0M700.2 216.0h0M700.9 214.4h0M701.7 212.8h0M702.5 211.1h0M703.3 209.3h0M704.1 207.5h0M704.8 205.6h0M705.6 203.7h0M706.4 201.8h0M707.2 199.9h0M708.0 197.9h0M708.7 195.9h0M709.5 193.8h0M710.3 191.8h0M711.1 189.7h0M711.9 187.6h0M712.6 185.5h0M713.4 183.3h0M714.2 181.2h0M715.0 179.1h0M715.8 176.9h0M716.6 174.8h0M717.3 172.6h0M718.1 170.4h0M718.9 168.3h0M719.7 166.1h0M720.5 163.9h0M721.2 161.7h0M722.0 159.5h0M722.8 157.3h0" stroke="#000080" stroke-width="1.8" stroke-linecap="round"/>
<path d="M535.4 225.4h0M536.2 225.6h0M537.0 225.9h0M537.7 226.1h0M538.5 226.3h0M539.3 226.6h0M540.1 226.8h0M540.9 227.0h0M541.6 227.2h0M542.4 227.4h0M543.2 227.7h0M544.0 227.8h0M544.8 228.0h0M545.6 228.2h0M546.3 228.4h0M547.1 228.6h0M547.9 228.8h0M548.7 228.9h0M549.5 229.1h0M550.2 229.3h0M551.0 229.4h0M551.8 229.6h0M552.6 229.7h0M553.4 229.9h0M554.1 230.0h0M554.9 230.2h0M555.7 230.3h0M556.5 230.4h0M557.3 230.6h0M558.0 230.7h0M558.8 230.8h0M559.6 230.9h0M560.4 231.1h0M561.2 231.2h0M561.9 231.3h0M562.7 231.4h0M563.5 231.5h0M564.3 231.6h0M565.1 231.7h0M565.9 231.8h0M566.6 231.9h0M567.4 232.0h0M568.2 232.1h0M569.0 232.2h0M569.8 232.3h0M570.5 232.3h0M571.3 232.4h0M572.1 232.5h0M572.9 232.6h0M573.7 232.7h0M574.4 232.7h0M575.2 232.8h0M576.0 232.9h0M576.8 232.9h0M577.6 233.0h0M578.3 233.1h0M579.1 233.1h0M579.9 233.2h0M580.7 233.3h0M581.5 233.3h0M582.2 233.4h0M583.0 233.4h0M583.8 233.5h0M584.6 233.5h0M585.4 233.6h0M586.2 233.6h0M586.9 233.7h0M587.7 233.7h0M588.5 233.8h0M589.3 233.8h0M590.1 233.9h0M590.8 233.9h0M591.6 233.9h0M592.4 234.0h0M593.2 234.0h0M594.0 234.1h0M594.7 234.1h0M595.5 234.1h0M596.3 234.2h0M597.1 234.2h0M597.9 234.2h0M598.6 234.3h0M599.4 234.3h0M600.2 234.3h0M601.0 234.3h0M601.8 234.4h0M602.6 234.4h0M603.3 234.4h0M604.1 234.4h0M604.9 234.5h0M605.7 234.5h0M606.5 234.5h0M607.2 234.5h0M608.0 234.5h0M608.8 234.5h0M609.6 234.5h0M610.4 234.5h0M611.1 234.5h0M611.9 234.5h0M612.7 234.5h0M613.5 234.5h0M614.3 234.5h0M615.0 234.4h0M615.8 234.4h0M616.6 234.4h0M617.4 234.4h0M618.2 234.3h0M618.9 234.3h0M619.7 234.3h0M620.5 234.2h0M621.3 234.1h0M622.1 234.1h0M622.9 234.0h0M623.6 233.8h0M624.4 233.7h0M625.2 233.5h0M626.0 233.2h0M626.8 232.9h0M627.5 232.6h0M628.3 232.1h0M629.1 231.6h0M629.9 231.0h0M630.7 230.3h0M631.4 229.5h0M632.2 228.5h0M633.0 227.5h0M633.8 226.3h0M634.6 225.0h0M635.3 223.6h0M636.1 222.1h0M636.9 220.5h0M637.7 218.8h0M638.5 217.1h0M639.3 215.5h0M640.0 213.8h0M640.8 212.2h0M641.6 210.8h0M642.4 209.5h0M643.2 208.4h0M643.9 207.5h0M644.7 206.9h0M645.5 206.7h0M646.3 206.7h0M647.1 206.9h0M647.8 207.5h0M648.6 208.4h0M649.4 209.6h0M650.2 211.1h0M651.0 212.9h0M651.7 214.8h0M652.5 216.8h0M653.3 218.9h0M654.1 220.9h0M654.9 222.9h0M655.6 224.8h0M656.4 226.5h0M657.2 228.0h0M658.0 229.3h0M658.8 230.4h0M659.6 231.3h0M660.3 232.0h0M661.1 232.5h0M661.9 232.9h0M662.7 233.2h0M663.5 233.3h0M664.2 233.4h0M665.0 233.3h0M665.8 233.2h0M666.6 233.1h0M667.4 232.9h0M668.1 232.7h0M668.9 232.5h0M669.7 232.2h0M670.5 231.9h0M671.3 231.6h0M672.0 231.2h0M672.8 230.9h0M673.6 230.5h0M674.4 230.1h0M675.2 229.7h0M675.9 229.2h0M676.7 228.6h0M677.5 228.0h0M678.3 227.4h0M679.1 226.7h0M679.9 225.8h0M680.6 224.9h0M681.4 223.9h0M682.2 222.8h0M683.0 221.6h0M683.8 220.3h0M684.5 218.9h0M685.3 217.4h0M686.1 215.8h0M686.9 214.0h0M687.7 212.2h0M688.4 210.3h0M689.2 208.3h0M690.0 206.2h0M690.8 204.0h0M691.6 201.8h0M692.3 199.5h0M693.1 197.1h0M693.9 194.7h0M694.7 192.3h0M695.5 189.8h0M696.3 187.3h0M697.0 184.7h0M697.8 182.2h0M698.6 179.5h0M699.4 176.9h0M700.2 174.3h0M700.9 171.6h0M701.7 168.9h0M702.5 166.2h0M703.3 163.5h0M704.1 160.8h0M704.8 158.1h0M705.6 155.4h0M706.4 152.6h0M707.2 149.9h0M708.0 147.1h0M708.7 144.4h0M709.5 141.6h0M710.3 138.9h0M711.1 136.1h0M711.9 133.3h0M712.6 130.6h0M713.4 127.8h0M714.2 125.0h0M715.0 122.3h0M715.8 119.5h0M716.6 116.7h0M717.3 113.9h0M718.1 111.2h0M718.9 108.4h0M719.7 105.6h0M720.5 102.8h0M721.2 100.0h0M722.0 97.3h0M722.8 94.5h0" stroke="#000000" stroke-width="1.8" stroke-linecap="round"/>
<path d="M535.4 229.0h0M536.2 229.1h0M537.0 229.3h0M537.7 229.5h0M538.5 229.6h0M539.3 229.7h0M540.1 229.9h0M540.9 230.0h0M541.6 230.1h0M542.4 230.3h0M543.2 230.4h0M544.0 230.5h0M544.8 230.6h0M545.6 230.8h0M546.3 230.9h0M547.1 231.0h0M547.9 231.1h0M548.7 231.2h0M549.5 231.3h0M550.2 231.4h0M551.0 231.5h0M551.8 231.6h0M552.6 231.7h0M553.4 231.8h0M554.1 231.8h0M554.9 231.9h0M555.7 232.0h0M556.5 232.1h0M557.3 232.2h0M558.0 232.3h0M558.8 232.3h0M559.6 232.4h0M560.4 232.5h0M561.2 232.5h0M561.9 232.6h0M562.7 232.7h0M563.5 232.7h0M564.3 232.8h0M565.1 232.9h0M565.9 232.9h0M566.6 233.0h0M567.4 233.0h0M568.2 233.1h0M569.0 233.1h0M569.8 233.2h0M570.5 233.2h0M571.3 233.3h0M572.1 233.3h0M572.9 233.4h0M573.7 233.4h0M574.4 233.5h0M575.2 233.5h0M576.0 233.6h0M576.8 233.6h0M577.6 233.6h0M578.3 233.7h0M579.1 233.7h0M579.9 233.8h0M580.7 233.8h0M581.5 233.8h0M582.2 233.9h0M583.0 233.9h0M583.8 233.9h0M584.6 234.0h0M585.4 234.0h0M586.2 234.0h0M586.9 234.0h0M587.7 234.1h0M588.5 234.1h0M589.3 234.1h0M590.1 234.1h0M590.8 234.2h0M591.6 234.2h0M592.4 234.2h0M593.2 234.2h0M594.0 234.3h0M594.7 234.3h0M595.5 234.3h0M596.3 234.3h0M597.1 234.3h0M597.9 234.3h0M598.6 234.4h0M599.4 234.4h0M600.2 234.4h0M601.0 234.4h0M601.8 234.4h0M602.6 234.4h0M603.3 234.4h0M604.1 234.4h0M604.9 234.5h0M605.7 234.5h0M606.5 234.5h0M607.2 234.5h0M608.0 234.5h0M608.8 234.5h0M609.6 234.5h0M610.4 234.5h0M611.1 234.4h0M611.9 234.4h0M612.7 234.4h0M613.5 234.4h0M614.3 234.4h0M615.0 234.3h0M615.8 234.3h0M616.6 234.3h0M617.4 234.3h0M618.2 234.2h0M618.9 234.2h0M619.7 234.1h0M620.5 234.0h0M621.3 234.0h0M622.1 233.8h0M622.9 233.7h0M623.6 233.5h0M624.4 233.3h0M625.2 233.1h0M626.0 232.8h0M626.8 232.4h0M627.5 231.9h0M628.3 231.4h0M629.1 230.7h0M629.9 229.9h0M630.7 229.0h0M631.4 227.9h0M632.2 226.7h0M633.0 225.3h0M633.8 223.8h0M634.6 222.1h0M635.3 220.3h0M636.1 218.3h0M636.9 216.3h0M637.7 214.1h0M638.5 211.9h0M639.3 209.8h0M640.0 207.6h0M640.8 205.6h0M641.6 203.7h0M642.4 202.0h0M643.2 200.6h0M643.9 199.5h0M644.7 198.7h0M645.5 198.4h0M646.3 198.4h0M647.1 198.7h0M647.8 199.5h0M648.6 200.7h0M649.4 202.3h0M650.2 204.2h0M651.0 206.5h0M651.7 209.0h0M652.5 211.6h0M653.3 214.3h0M654.1 217.0h0M654.9 219.6h0M655.6 222.0h0M656.4 224.2h0M657.2 226.2h0M658.0 227.9h0M658.8 229.4h0M659.6 230.6h0M660.3 231.5h0M661.1 232.3h0M661.9 232.9h0M662.7 233.3h0M663.5 233.6h0M664.2 233.8h0M665.0 233.9h0M665.8 233.9h0M666.6 233.9h0M667.4 233.8h0M668.1 233.8h0M668.9 233.7h0M669.7 233.6h0M670.5 233.5h0M671.3 233.5h0M672.0 233.4h0M672.8 233.3h0M673.6 233.3h0M674.4 233.3h0M675.2 233.3h0M675.9 233.3h0M676.7 233.3h0M677.5 233.4h0M678.3 233.4h0M679.1 233.4h0M679.9 233.4h0M680.6 233.4h0M681.4 233.4h0M682.2 233.4h0M683.0 233.4h0M683.8 233.3h0M684.5 233.2h0M685.3 233.0h0M686.1 232.9h0M686.9 232.6h0M687.7 232.4h0M688.4 232.1h0M689.2 231.8h0M690.0 231.4h0M690.8 230.9h0M691.6 230.4h0M692.3 229.9h0M693.1 229.2h0M693.9 228.5h0M694.7 227.8h0M695.5 226.9h0M696.3 226.0h0M697.0 225.1h0M697.8 224.0h0M698.6 222.9h0M699.4 221.7h0M700.2 220.4h0M700.9 219.0h0M701.7 217.6h0M702.5 216.2h0M703.3 214.6h0M704.1 213.0h0M704.8 211.4h0M705.6 209.7h0M706.4 207.9h0M707.2 206.1h0M708.0 204.3h0M708.7 202.4h0M709.5 200.5h0M710.3 198.6h0M711.1 196.7h0M711.9 194.7h0M712.6 192.8h0M713.4 190.8h0M714.2 188.7h0M715.0 186.7h0M715.8 184.7h0M716.6 182.6h0M717.3 180.6h0M718.1 178.5h0M718.9 176.5h0M719.7 174.4h0M720.5 172.3h0M721.2 170.2h0M722.0 168.2h0M722.8 166.1h0" stroke="#8000ff" stroke-width="1.8" stroke-linecap="round"/>
<path d="M535.4 228.0h0M536.2 228.2h0M537.0 228.4h0M537.7 228.6h0M538.5 228.7h0M539.3 228.9h0M540.1 229.1h0M540.9 229.2h0M541.6 229.4h0M542.4 229.5h0M543.2 229.7h0M544.0 229.8h0M544.8 229.9h0M545.6 230.1h0M546.3 230.2h0M547.1 230.3h0M547.9 230.5h0M548.7 230.6h0M549.5 230.7h0M550.2 230.8h0M551.0 230.9h0M551.8 231.0h0M552.6 231.2h0M553.4 231.3h0M554.1 231.4h0M554.9 231.5h0M555.7 231.6h0M556.5 231.6h0M557.3 231.7h0M558.0 231.8h0M558.8 231.9h0M559.6 232.0h0M560.4 232.1h0M561.2 232.2h0M561.9 232.2h0M562.7 232.3h0M563.5 232.4h0M564.3 232.5h0M565.1 232.5h0M565.9 232.6h0M566.6 232.7h0M567.4 232.7h0M568.2 232.8h0M569.0 232.9h0M569.8 232.9h0M570.5 233.0h0M571.3 233.1h0M572.1 233.1h0M572.9 233.2h0M573.7 233.2h0M574.4 233.3h0M575.2 233.3h0M576.0 233.4h0M576.8 233.4h0M577.6 233.5h0M578.3 233.5h0M579.1 233.5h0M579.9 233.6h0M580.7 233.6h0M581.5 233.7h0M582.2 233.7h0M583.0 233.7h0M583.8 233.8h0M584.6 233.8h0M585.4 233.9h0M586.2 233.9h0M586.9 233.9h0M587.7 234.0h0M588.5 234.0h0M589.3 234.0h0M590.1 234.0h0M590.8 234.1h0M591.6 234.1h0M592.4 234.1h0M593.2 234.1h0M594.0 234.2h0M594.7 234.2h0M595.5 234.2h0M596.3 234.2h0M597.1 234.3h0M597.9 234.3h0M598.6 234.3h0M599.4 234.3h0M600.2 234.3h0M601.0 234.3h0M601.8 234.4h0M602.6 234.4h0M603.3 234.4h0M604.1 234.4h0M604.9 234.4h0M605.7 234.4h0M606.5 234.4h0M607.2 234.4h0M608.0 234.4h0M608.8 234.4h0M609.6 234.4h0M610.4 234.4h0M611.1 234.4h0M611.9 234.4h0M612.7 234.3h0M613.5 234.3h0M614.3 234.3h0M615.0 234.3h0M615.8 234.2h0M616.6 234.2h0M617.4 234.2h0M618.2 234.1h0M618.9 234.1h0M619.7 234.0h0M620.5 233.9h0M621.3 233.8h0M622.1 233.7h0M622.9 233.5h0M623.6 233.4h0M624.4 233.1h0M625.2 232.8h0M626.0 232.5h0M626.8 232.0h0M627.5 231.5h0M628.3 230.9h0M629.1 230.1h0M629.9 229.2h0M630.7 228.1h0M631.4 226.9h0M632.2 225.5h0M633.0 223.9h0M633.8 222.2h0M634.6 220.2h0M635.3 218.1h0M636.1 215.9h0M636.9 213.5h0M637.7 211.0h0M638.5 208.5h0M639.3 206.0h0M640.0 203.6h0M640.8 201.2h0M641.6 199.0h0M642.4 197.1h0M643.2 195.5h0M643.9 194.2h0M644.7 193.4h0M645.5 192.9h0M646.3 193.0h0M647.1 193.4h0M647.8 194.2h0M648.6 195.6h0M649.4 197.4h0M650.2 199.7h0M651.0 202.2h0M651.7 205.1h0M652.5 208.1h0M653.3 211.2h0M654.1 214.3h0M654.9 217.3h0M655.6 220.1h0M656.4 222.6h0M657.2 224.9h0M658.0 226.9h0M658.8 228.5h0M659.6 229.9h0M660.3 231.0h0M661.1 231.9h0M661.9 232.6h0M662.7 233.1h0M663.5 233.4h0M664.2 233.6h0M665.0 233.7h0M665.8 233.8h0M666.6 233.7h0M667.4 233.7h0M668.1 233.6h0M668.9 233.5h0M669.7 233.4h0M670.5 233.3h0M671.3 233.2h0M672.0 233.1h0M672.8 233.0h0M673.6 232.9h0M674.4 232.8h0M675.2 232.7h0M675.9 232.6h0M676.7 232.6h0M677.5 232.5h0M678.3 232.4h0M679.1 232.2h0M679.9 232.1h0M680.6 231.9h0M681.4 231.7h0M682.2 231.4h0M683.0 231.1h0M683.8 230.7h0M684.5 230.3h0M685.3 229.8h0M686.1 229.2h0M686.9 228.6h0M687.7 227.8h0M688.4 227.0h0M689.2 226.1h0M690.0 225.1h0M690.8 224.1h0M691.6 222.9h0M692.3 221.7h0M693.1 220.3h0M693.9 218.9h0M694.7 217.4h0M695.5 215.8h0M696.3 214.1h0M697.0 212.4h0M697.8 210.6h0M698.6 208.8h0M699.4 206.8h0M700.2 204.9h0M700.9 202.8h0M701.7 200.8h0M702.5 198.7h0M703.3 196.6h0M704.1 194.4h0M704.8 192.2h0M705.6 190.0h0M706.4 187.7h0M707.2 185.5h0M708.0 183.2h0M708.7 180.9h0M709.5 178.6h0M710.3 176.3h0M711.1 173.9h0M711.9 171.6h0M712.6 169.3h0M713.4 166.9h0M714.2 164.5h0M715.0 162.2h0M715.8 159.8h0M716.6 157.4h0M717.3 155.1h0M718.1 152.7h0M718.9 150.3h0M719.7 147.9h0M720.5 145.5h0M721.2 143.1h0M722.0 140.8h0M722.8 138.4h0" stroke="#900090" stroke-width="1.8" stroke-linecap="round"/>
<path d="M535.4 230.3h0M536.2 230.4h0M537.0 230.5h0M537.7 230.6h0M538.5 230.7h0M539.3 230.9h0M540.1 231.0h0M540.9 231.1h0M541.6 231.2h0M542.4 231.3h0M543.2 231.4h0M544.0 231.5h0M544.8 231.6h0M545.6 231.6h0M546.3 231.7h0M547.1 231.8h0M547.9 231.9h0M548.7 232.0h0M549.5 232.1h0M550.2 232.1h0M551.0 232.2h0M551.8 232.3h0M552.6 232.4h0M553.4 232.4h0M554.1 232.5h0M554.9 232.6h0M555.7 232.6h0M556.5 232.7h0M557.3 232.7h0M558.0 232.8h0M558.8 232.9h0M559.6 232.9h0M560.4 233.0h0M561.2 233.0h0M561.9 233.1h0M562.7 233.1h0M563.5 233.2h0M564.3 233.2h0M565.1 233.3h0M565.9 233.3h0M566.6 233.4h0M567.4 233.4h0M568.2 233.5h0M569.0 233.5h0M569.8 233.5h0M570.5 233.6h0M571.3 233.6h0M572.1 233.7h0M572.9 233.7h0M573.7 233.7h0M574.4 233.8h0M575.2 233.8h0M576.0 233.8h0M576.8 233.9h0M577.6 233.9h0M578.3 233.9h0M579.1 233.9h0M579.9 234.0h0M580.7 234.0h0M581.5 234.0h0M582.2 234.1h0M583.0 234.1h0M583.8 234.1h0M584.6 234.1h0M585.4 234.2h0M586.2 234.2h0M586.9 234.2h0M587.7 234.2h0M588.5 234.2h0M589.3 234.3h0M590.1 234.3h0M590.8 234.3h0M591.6 234.3h0M592.4 234.3h0M593.2 234.3h0M594.0 234.4h0M594.7 234.4h0M595.5 234.4h0M596.3 234.4h0M597.1 234.4h0M597.9 234.4h0M598.6 234.4h0M599.4 234.4h0M600.2 234.5h0M601.0 234.5h0M601.8 234.5h0M602.6 234.5h0M603.3 234.5h0M604.1 234.5h0M604.9 234.5h0M605.7 234.5h0M606.5 234.5h0M607.2 234.5h0M608.0 234.5h0M608.8 234.5h0M609.6 234.5h0M610.4 234.5h0M611.1 234.5h0M611.9 234.5h0M612.7 234.5h0M613.5 234.4h0M614.3 234.4h0M615.0 234.4h0M615.8 234.4h0M616.6 234.3h0M617.4 234.3h0M618.2 234.3h0M618.9 234.2h0M619.7 234.2h0M620.5 234.1h0M621.3 234.1h0M622.1 234.0h0M622.9 233.8h0M623.6 233.7h0M624.4 233.5h0M625.2 233.3h0M626.0 233.0h0M626.8 232.7h0M627.5 232.3h0M628.3 231.8h0M629.1 231.2h0M629.9 230.5h0M630.7 229.7h0M631.4 228.8h0M632.2 227.7h0M633.0 226.5h0M633.8 225.2h0M634.6 223.7h0M635.3 222.1h0M636.1 220.3h0M636.9 218.5h0M637.7 216.7h0M638.5 214.7h0M639.3 212.8h0M640.0 210.9h0M640.8 209.1h0M641.6 207.5h0M642.4 206.0h0M643.2 204.8h0M643.9 203.8h0M644.7 203.1h0M645.5 202.8h0M646.3 202.8h0M647.1 203.1h0M647.8 203.8h0M648.6 204.8h0M649.4 206.2h0M650.2 207.9h0M651.0 209.9h0M651.7 212.0h0M652.5 214.3h0M653.3 216.7h0M654.1 219.0h0M654.9 221.3h0M655.6 223.4h0M656.4 225.3h0M657.2 227.0h0M658.0 228.5h0M658.8 229.7h0M659.6 230.7h0M660.3 231.5h0M661.1 232.1h0M661.9 232.6h0M662.7 232.8h0M663.5 233.0h0M664.2 233.0h0M665.0 233.0h0M665.8 232.9h0M666.6 232.7h0M667.4 232.4h0M668.1 232.2h0M668.9 231.8h0M669.7 231.5h0M670.5 231.1h0M671.3 230.7h0M672.0 230.2h0M672.8 229.7h0M673.6 229.2h0M674.4 228.6h0M675.2 228.0h0M675.9 227.3h0M676.7 226.5h0M677.5 225.7h0M678.3 224.8h0M679.1 223.8h0M679.9 222.7h0M680.6 221.5h0M681.4 220.2h0M682.2 218.8h0M683.0 217.3h0M683.8 215.7h0M684.5 214.0h0M685.3 212.2h0M686.1 210.2h0M686.9 208.2h0M687.7 206.1h0M688.4 203.9h0M689.2 201.6h0M690.0 199.3h0M690.8 196.9h0M691.6 194.4h0M692.3 191.9h0M693.1 189.4h0M693.9 186.8h0M694.7 184.2h0M695.5 181.5h0M696.3 178.8h0M697.0 176.1h0M697.8 173.4h0M698.6 170.6h0M699.4 167.9h0M700.2 165.1h0M700.9 162.3h0M701.7 159.5h0M702.5 156.7h0M703.3 153.9h0M704.1 151.0h0M704.8 148.2h0M705.6 145.3h0M706.4 142.5h0M707.2 139.7h0M708.0 136.8h0M708.7 133.9h0M709.5 131.1h0M710.3 128.2h0M711.1 125.4h0M711.9 122.5h0M712.6 119.6h0M713.4 116.8h0M714.2 113.9h0M715.0 111.0h0M715.8 108.1h0M716.6 105.3h0M717.3 102.4h0M718.1 99.5h0M718.9 96.7h0M719.7 93.8h0M720.5 90.9h0M721.2 88.0h0M722.0 85.2h0M722.8 82.3h0" stroke="#ff0000" stroke-width="1.8" stroke-linecap="round"/>
<path d="M535.4 229.6h0M536.2 229.8h0M537.0 229.9h0M537.7 230.0h0M538.5 230.2h0M539.3 230.3h0M540.1 230.4h0M540.9 230.5h0M541.6 230.6h0M542.4 230.8h0M543.2 230.9h0M544.0 231.0h0M544.8 231.1h0M545.6 231.2h0M546.3 231.3h0M547.1 231.4h0M547.9 231.5h0M548.7 231.6h0M549.5 231.7h0M550.2 231.7h0M551.0 231.8h0M551.8 231.9h0M552.6 232.0h0M553.4 232.1h0M554.1 232.1h0M554.9 232.2h0M555.7 232.3h0M556.5 232.4h0M557.3 232.4h0M558.0 232.5h0M558.8 232.6h0M559.6 232.6h0M560.4 232.7h0M561.2 232.8h0M561.9 232.8h0M562.7 232.9h0M563.5 232.9h0M564.3 233.0h0M565.1 233.0h0M565.9 233.1h0M566.6 233.1h0M567.4 233.2h0M568.2 233.2h0M569.0 233.3h0M569.8 233.3h0M570.5 233.4h0M571.3 233.4h0M572.1 233.5h0M572.9 233.5h0M573.7 233.5h0M574.4 233.6h0M575.2 233.6h0M576.0 233.7h0M576.8 233.7h0M577.6 233.7h0M578.3 233.8h0M579.1 233.8h0M579.9 233.8h0M580.7 233.9h0M581.5 233.9h0M582.2 233.9h0M583.0 233.9h0M583.8 234.0h0M584.6 234.0h0M585.4 234.0h0M586.2 234.0h0M586.9 234.1h0M587.7 234.1h0M588.5 234.1h0M589.3 234.1h0M590.1 234.1h0M590.8 234.2h0M591.6 234.2h0M592.4 234.2h0M593.2 234.2h0M594.0 234.2h0M594.7 234.3h0M595.5 234.3h0M596.3 234.3h0M597.1 234.3h0M597.9 234.3h0M598.6 234.3h0M599.4 234.3h0M600.2 234.3h0M601.0 234.3h0M601.8 234.3h0M602.6 234.4h0M603.3 234.4h0M604.1 234.4h0M604.9 234.4h0M605.7 234.4h0M606.5 234.4h0M607.2 234.4h0M608.0 234.4h0M608.8 234.4h0M609.6 234.3h0M610.4 234.3h0M611.1 234.3h0M611.9 234.3h0M612.7 234.3h0M613.5 234.2h0M614.3 234.2h0M615.0 234.2h0M615.8 234.1h0M616.6 234.1h0M617.4 234.1h0M618.2 234.0h0M618.9 233.9h0M619.7 233.9h0M620.5 233.8h0M621.3 233.6h0M622.1 233.5h0M622.9 233.3h0M623.6 233.1h0M624.4 232.8h0M625.2 232.4h0M626.0 232.0h0M626.8 231.5h0M627.5 230.8h0M628.3 230.1h0M629.1 229.2h0M629.9 228.1h0M630.7 226.8h0M631.4 225.3h0M632.2 223.7h0M633.0 221.8h0M633.8 219.7h0M634.6 217.4h0M635.3 214.9h0M636.1 212.2h0M636.9 209.3h0M637.7 206.4h0M638.5 203.4h0M639.3 200.4h0M640.0 197.4h0M640.8 194.6h0M641.6 192.0h0M642.4 189.7h0M643.2 187.7h0M643.9 186.2h0M644.7 185.2h0M645.5 184.7h0M646.3 184.7h0M647.1 185.2h0M647.8 186.3h0M648.6 187.9h0M649.4 190.1h0M650.2 192.7h0M651.0 195.8h0M651.7 199.2h0M652.5 202.9h0M653.3 206.6h0M654.1 210.3h0M654.9 213.8h0M655.6 217.2h0M656.4 220.2h0M657.2 222.9h0M658.0 225.3h0M658.8 227.3h0M659.6 229.0h0M660.3 230.3h0M661.1 231.4h0M661.9 232.2h0M662.7 232.8h0M663.5 233.2h0M664.2 233.4h0M665.0 233.6h0M665.8 233.6h0M666.6 233.6h0M667.4 233.6h0M668.1 233.5h0M668.9 233.4h0M669.7 233.2h0M670.5 233.1h0M671.3 233.0h0M672.0 232.8h0M672.8 232.7h0M673.6 232.6h0M674.4 232.4h0M675.2 232.3h0M675.9 232.2h0M676.7 232.0h0M677.5 231.9h0M678.3 231.7h0M679.1 231.5h0M679.9 231.2h0M680.6 230.9h0M681.4 230.6h0M682.2 230.2h0M683.0 229.7h0M683.8 229.1h0M684.5 228.5h0M685.3 227.8h0M686.1 227.0h0M686.9 226.1h0M687.7 225.2h0M688.4 224.1h0M689.2 222.9h0M690.0 221.7h0M690.8 220.3h0M691.6 218.9h0M692.3 217.4h0M693.1 215.8h0M693.9 214.1h0M694.7 212.3h0M695.5 210.5h0M696.3 208.6h0M697.0 206.6h0M697.8 204.6h0M698.6 202.5h0M699.4 200.4h0M700.2 198.2h0M700.9 196.0h0M701.7 193.8h0M702.5 191.5h0M703.3 189.2h0M704.1 186.9h0M704.8 184.5h0M705.6 182.2h0M706.4 179.8h0M707.2 177.4h0M708.0 175.0h0M708.7 172.6h0M709.5 170.1h0M710.3 167.7h0M711.1 165.3h0M711.9 162.8h0M712.6 160.4h0M713.4 157.9h0M714.2 155.4h0M715.0 153.0h0M715.8 150.5h0M716.6 148.0h0M717.3 145.5h0M718.1 143.1h0M718.9 140.6h0M719.7 138.1h0M720.5 135.6h0M721.2 133.1h0M722.0 130.6h0M722.8 128.1h0" stroke="#900030" stroke-width="1.8" stroke-linecap="round"/>
<path d="M535.4 234.2h0M536.2 234.2h0M537.0 234.1h0M537.7 234.1h0M538.5 234.1h0M539.3 234.1h0M540.1 234.1h0M540.9 234.1h0M541.6 234.1h0M542.4 234.1h0M543.2 234.1h0M544.0 234.1h0M544.8 234.1h0M545.6 234.0h0M546.3 234.0h0M547.1 234.0h0M547.9 234.0h0M548.7 234.0h0M549.5 234.0h0M550.2 234.0h0M551.0 234.0h0M551.8 233.9h0M552.6 233.9h0M553.4 233.9h0M554.1 233.9h0M554.9 233.9h0M555.7 233.9h0M556.5 233.9h0M557.3 233.9h0M558.0 233.8h0M558.8 233.8h0M559.6 233.8h0M560.4 233.8h0M561.2 233.8h0M561.9 233.8h0M562.7 233.7h0M563.5 233.7h0M564.3 233.7h0M565.1 233.7h0M565.9 233.7h0M566.6 233.6h0M567.4 233.6h0M568.2 233.6h0M569.0 233.6h0M569.8 233.6h0M570.5 233.5h0M571.3 233.5h0M572.1 233.5h0M572.9 233.5h0M573.7 233.4h0M574.4 233.4h0M575.2 233.4h0M576.0 233.3h0M576.8 233.3h0M577.6 233.3h0M578.3 233.3h0M579.1 233.2h0M579.9 233.2h0M580.7 233.2h0M581.5 233.1h0M582.2 233.1h0M583.0 233.0h0M583.8 233.0h0M584.6 233.0h0M585.4 232.9h0M586.2 232.9h0M586.9 232.8h0M587.7 232.8h0M588.5 232.7h0M589.3 232.7h0M590.1 232.6h0M590.8 232.6h0M591.6 232.5h0M592.4 232.5h0M593.2 232.4h0M594.0 232.3h0M594.7 232.3h0M595.5 232.2h0M596.3 232.1h0M597.1 232.1h0M597.9 232.0h0M598.6 231.9h0M599.4 231.8h0M600.2 231.8h0M601.0 231.7h0M601.8 231.6h0M602.6 231.5h0M603.3 231.4h0M604.1 231.3h0M604.9 231.1h0M605.7 231.0h0M606.5 230.9h0M607.2 230.8h0M608.0 230.6h0M608.8 230.5h0M609.6 230.3h0M610.4 230.2h0M611.1 230.0h0M611.9 229.8h0M612.7 229.6h0M613.5 229.4h0M614.3 229.2h0M615.0 228.9h0M615.8 228.6h0M616.6 228.3h0M617.4 227.9h0M618.2 227.5h0M618.9 227.1h0M619.7 226.6h0M620.5 226.0h0M621.3 225.4h0M622.1 224.6h0M622.9 223.8h0M623.6 222.8h0M624.4 221.7h0M625.2 220.4h0M626.0 218.9h0M626.8 217.1h0M627.5 215.2h0M628.3 213.0h0M629.1 210.4h0M629.9 207.6h0M630.7 204.3h0M631.4 200.7h0M632.2 196.7h0M633.0 192.2h0M633.8 187.3h0M634.6 181.8h0M635.3 176.0h0M636.1 169.6h0M636.9 162.7h0M637.7 155.4h0M638.5 147.7h0M639.3 139.6h0M640.0 131.1h0M640.8 122.4h0M641.6 113.4h0M642.4 104.3h0M643.2 95.2h0M643.9 86.2h0M644.7 77.4h0M645.5 69.0h0M646.3 61.1h0M647.1 53.8h0M647.8 47.3h0M648.6 41.8h0M649.4 37.5h0M650.2 34.3h0M651.0 32.5h0M651.7 32.1h0M652.5 32.6h0M653.3 34.2h0M654.1 36.9h0M654.9 40.7h0M655.6 45.7h0M656.4 51.8h0M657.2 58.9h0M658.0 66.9h0M658.8 75.8h0M659.6 85.3h0M660.3 95.4h0M661.1 105.8h0M661.9 116.3h0M662.7 126.8h0M663.5 137.2h0M664.2 147.3h0M665.0 157.0h0M665.8 166.2h0M666.6 174.8h0M667.4 182.7h0M668.1 189.9h0M668.9 196.4h0M669.7 202.3h0M670.5 207.4h0M671.3 211.9h0M672.0 215.8h0M672.8 219.1h0M673.6 221.9h0M674.4 224.3h0M675.2 226.3h0M675.9 227.9h0M676.7 229.3h0M677.5 230.4h0M678.3 231.3h0M679.1 232.0h0M679.9 232.6h0M680.6 233.0h0M681.4 233.4h0M682.2 233.7h0M683.0 233.9h0M683.8 234.1h0M684.5 234.3h0M685.3 234.4h0M686.1 234.5h0M686.9 234.5h0M687.7 234.6h0M688.4 234.6h0M689.2 234.6h0M690.0 234.6h0M690.8 234.6h0M691.6 234.6h0M692.3 234.6h0M693.1 234.5h0M693.9 234.5h0M694.7 234.5h0M695.5 234.4h0M696.3 234.4h0M697.0 234.3h0M697.8 234.3h0M698.6 234.2h0M699.4 234.1h0M700.2 234.0h0M700.9 233.9h0M701.7 233.7h0M702.5 233.6h0M703.3 233.4h0M704.1 233.2h0M704.8 233.0h0M705.6 232.8h0M706.4 232.5h0M707.2 232.2h0M708.0 231.8h0M708.7 231.5h0M709.5 231.0h0M710.3 230.6h0M711.1 230.1h0M711.9 229.5h0M712.6 228.9h0M713.4 228.3h0M714.2 227.6h0M715.0 226.8h0M715.8 226.0h0M716.6 225.2h0M717.3 224.3h0M718.1 223.4h0M718.9 222.4h0M719.7 221.4h0M720.5 220.4h0M721.2 219.3h0M722.0 218.2h0M722.8 217.1h0" stroke="#7fe8ec" stroke-width="1.6" stroke-linecap="round"/>
<path d="M535.4 233.5h0M536.2 233.5h0M537.0 233.5h0M537.7 233.5h0M538.5 233.5h0M539.3 233.5h0M540.1 233.5h0M540.9 233.5h0M541.6 233.5h0M542.4 233.5h0M543.2 233.6h0M544.0 233.6h0M544.8 233.6h0M545.6 233.6h0M546.3 233.6h0M547.1 233.6h0M547.9 233.6h0M548.7 233.6h0M549.5 233.6h0M550.2 233.6h0M551.0 233.6h0M551.8 233.6h0M552.6 233.5h0M553.4 233.5h0M554.1 233.5h0M554.9 233.5h0M555.7 233.5h0M556.5 233.5h0M557.3 233.5h0M558.0 233.5h0M558.8 233.5h0M559.6 233.5h0M560.4 233.5h0M561.2 233.5h0M561.9 233.5h0M562.7 233.4h0M563.5 233.4h0M564.3 233.4h0M565.1 233.4h0M565.9 233.4h0M566.6 233.4h0M567.4 233.4h0M568.2 233.3h0M569.0 233.3h0M569.8 233.3h0M570.5 233.3h0M571.3 233.3h0M572.1 233.3h0M572.9 233.2h0M573.7 233.2h0M574.4 233.2h0M575.2 233.2h0M576.0 233.1h0M576.8 233.1h0M577.6 233.1h0M578.3 233.0h0M579.1 233.0h0M579.9 233.0h0M580.7 233.0h0M581.5 232.9h0M582.2 232.9h0M583.0 232.9h0M583.8 232.8h0M584.6 232.8h0M585.4 232.7h0M586.2 232.7h0M586.9 232.6h0M587.7 232.6h0M588.5 232.6h0M589.3 232.5h0M590.1 232.5h0M590.8 232.4h0M591.6 232.3h0M592.4 232.3h0M593.2 232.2h0M594.0 232.2h0M594.7 232.1h0M595.5 232.0h0M596.3 232.0h0M597.1 231.9h0M597.9 231.8h0M598.6 231.7h0M599.4 231.6h0M600.2 231.5h0M601.0 231.4h0M601.8 231.4h0M602.6 231.2h0M603.3 231.1h0M604.1 231.0h0M604.9 230.9h0M605.7 230.8h0M606.5 230.6h0M607.2 230.5h0M608.0 230.4h0M608.8 230.2h0M609.6 230.0h0M610.4 229.8h0M611.1 229.6h0M611.9 229.4h0M612.7 229.2h0M613.5 228.9h0M614.3 228.6h0M615.0 228.3h0M615.8 227.9h0M616.6 227.5h0M617.4 227.1h0M618.2 226.6h0M618.9 226.0h0M619.7 225.4h0M620.5 224.6h0M621.3 223.8h0M622.1 222.8h0M622.9 221.7h0M623.6 220.4h0M624.4 219.0h0M625.2 217.4h0M626.0 215.6h0M626.8 213.5h0M627.5 211.1h0M628.3 208.5h0M629.1 205.6h0M629.9 202.4h0M630.7 198.8h0M631.4 194.8h0M632.2 190.4h0M633.0 185.7h0M633.8 180.6h0M634.6 175.1h0M635.3 169.1h0M636.1 162.8h0M636.9 156.2h0M637.7 149.2h0M638.5 141.9h0M639.3 134.3h0M640.0 126.6h0M640.8 118.7h0M641.6 110.7h0M642.4 102.7h0M643.2 94.9h0M643.9 87.2h0M644.7 79.9h0M645.5 72.9h0M646.3 66.6h0M647.1 60.9h0M647.8 56.0h0M648.6 51.9h0M649.4 48.9h0M650.2 47.0h0M651.0 46.2h0M651.7 46.4h0M652.5 47.3h0M653.3 49.2h0M654.1 52.1h0M654.9 56.1h0M655.6 61.0h0M656.4 66.8h0M657.2 73.5h0M658.0 81.1h0M658.8 89.2h0M659.6 97.9h0M660.3 107.0h0M661.1 116.4h0M661.9 125.9h0M662.7 135.4h0M663.5 144.7h0M664.2 153.7h0M665.0 162.4h0M665.8 170.7h0M666.6 178.4h0M667.4 185.6h0M668.1 192.1h0M668.9 198.1h0M669.7 203.4h0M670.5 208.2h0M671.3 212.4h0M672.0 216.0h0M672.8 219.1h0M673.6 221.8h0M674.4 224.1h0M675.2 226.0h0M675.9 227.6h0M676.7 229.0h0M677.5 230.1h0M678.3 231.0h0M679.1 231.8h0M679.9 232.4h0M680.6 232.9h0M681.4 233.3h0M682.2 233.6h0M683.0 233.8h0M683.8 234.0h0M684.5 234.2h0M685.3 234.3h0M686.1 234.4h0M686.9 234.5h0M687.7 234.5h0M688.4 234.5h0M689.2 234.5h0M690.0 234.5h0M690.8 234.5h0M691.6 234.5h0M692.3 234.5h0M693.1 234.4h0M693.9 234.4h0M694.7 234.3h0M695.5 234.3h0M696.3 234.2h0M697.0 234.1h0M697.8 234.0h0M698.6 233.9h0M699.4 233.7h0M700.2 233.6h0M700.9 233.4h0M701.7 233.2h0M702.5 233.0h0M703.3 232.7h0M704.1 232.5h0M704.8 232.1h0M705.6 231.8h0M706.4 231.4h0M707.2 231.0h0M708.0 230.5h0M708.7 230.0h0M709.5 229.4h0M710.3 228.8h0M711.1 228.1h0M711.9 227.4h0M712.6 226.6h0M713.4 225.8h0M714.2 224.9h0M715.0 224.0h0M715.8 223.0h0M716.6 222.0h0M717.3 221.0h0M718.1 219.9h0M718.9 218.7h0M719.7 217.6h0M720.5 216.4h0M721.2 215.2h0M722.0 213.9h0M722.8 212.6h0" stroke="#ff80c0" stroke-width="1.6" stroke-linecap="round"/>
<path d="M535.4 232.2h0M536.2 232.3h0M537.0 232.3h0M537.7 232.3h0M538.5 232.4h0M539.3 232.4h0M540.1 232.5h0M540.9 232.5h0M541.6 232.5h0M542.4 232.6h0M543.2 232.6h0M544.0 232.6h0M544.8 232.7h0M545.6 232.7h0M546.3 232.7h0M547.1 232.7h0M547.9 232.8h0M548.7 232.8h0M549.5 232.8h0M550.2 232.8h0M551.0 232.8h0M551.8 232.9h0M552.6 232.9h0M553.4 232.9h0M554.1 232.9h0M554.9 232.9h0M555.7 232.9h0M556.5 232.9h0M557.3 233.0h0M558.0 233.0h0M558.8 233.0h0M559.6 233.0h0M560.4 233.0h0M561.2 233.0h0M561.9 233.0h0M562.7 233.0h0M563.5 233.0h0M564.3 233.0h0M565.1 233.0h0M565.9 233.0h0M566.6 233.0h0M567.4 233.0h0M568.2 233.0h0M569.0 233.0h0M569.8 233.0h0M570.5 233.0h0M571.3 233.0h0M572.1 233.0h0M572.9 233.0h0M573.7 232.9h0M574.4 232.9h0M575.2 232.9h0M576.0 232.9h0M576.8 232.9h0M577.6 232.9h0M578.3 232.8h0M579.1 232.8h0M579.9 232.8h0M580.7 232.8h0M581.5 232.7h0M582.2 232.7h0M583.0 232.7h0M583.8 232.7h0M584.6 232.6h0M585.4 232.6h0M586.2 232.6h0M586.9 232.5h0M587.7 232.5h0M588.5 232.4h0M589.3 232.4h0M590.1 232.4h0M590.8 232.3h0M591.6 232.3h0M592.4 232.2h0M593.2 232.2h0M594.0 232.1h0M594.7 232.0h0M595.5 232.0h0M596.3 231.9h0M597.1 231.8h0M597.9 231.8h0M598.6 231.7h0M599.4 231.6h0M600.2 231.5h0M601.0 231.4h0M601.8 231.3h0M602.6 231.2h0M603.3 231.1h0M604.1 231.0h0M604.9 230.9h0M605.7 230.8h0M606.5 230.7h0M607.2 230.5h0M608.0 230.4h0M608.8 230.2h0M609.6 230.0h0M610.4 229.8h0M611.1 229.6h0M611.9 229.4h0M612.7 229.2h0M613.5 228.9h0M614.3 228.6h0M615.0 228.3h0M615.8 227.9h0M616.6 227.5h0M617.4 227.0h0M618.2 226.5h0M618.9 225.9h0M619.7 225.2h0M620.5 224.5h0M621.3 223.6h0M622.1 222.6h0M622.9 221.4h0M623.6 220.1h0M624.4 218.7h0M625.2 217.0h0M626.0 215.1h0M626.8 213.0h0M627.5 210.6h0M628.3 207.9h0M629.1 204.9h0M629.9 201.5h0M630.7 197.8h0M631.4 193.8h0M632.2 189.4h0M633.0 184.6h0M633.8 179.4h0M634.6 173.8h0M635.3 167.8h0M636.1 161.5h0M636.9 154.8h0M637.7 147.8h0M638.5 140.5h0M639.3 133.0h0M640.0 125.3h0M640.8 117.5h0M641.6 109.6h0M642.4 101.9h0M643.2 94.2h0M643.9 86.8h0M644.7 79.7h0M645.5 73.1h0M646.3 67.1h0M647.1 61.8h0M647.8 57.3h0M648.6 53.7h0M649.4 51.2h0M650.2 49.7h0M651.0 49.4h0M651.7 49.8h0M652.5 51.1h0M653.3 53.4h0M654.1 56.7h0M654.9 60.9h0M655.6 66.1h0M656.4 72.2h0M657.2 79.2h0M658.0 86.8h0M658.8 95.1h0M659.6 103.8h0M660.3 112.9h0M661.1 122.1h0M661.9 131.5h0M662.7 140.7h0M663.5 149.8h0M664.2 158.6h0M665.0 167.0h0M665.8 174.9h0M666.6 182.3h0M667.4 189.1h0M668.1 195.3h0M668.9 200.9h0M669.7 205.9h0M670.5 210.3h0M671.3 214.2h0M672.0 217.6h0M672.8 220.5h0M673.6 223.0h0M674.4 225.0h0M675.2 226.8h0M675.9 228.3h0M676.7 229.5h0M677.5 230.5h0M678.3 231.3h0M679.1 232.0h0M679.9 232.6h0M680.6 233.0h0M681.4 233.4h0M682.2 233.6h0M683.0 233.9h0M683.8 234.1h0M684.5 234.2h0M685.3 234.3h0M686.1 234.4h0M686.9 234.4h0M687.7 234.4h0M688.4 234.4h0M689.2 234.4h0M690.0 234.4h0M690.8 234.4h0M691.6 234.4h0M692.3 234.3h0M693.1 234.2h0M693.9 234.2h0M694.7 234.1h0M695.5 234.0h0M696.3 233.9h0M697.0 233.7h0M697.8 233.6h0M698.6 233.4h0M699.4 233.2h0M700.2 233.0h0M700.9 232.7h0M701.7 232.4h0M702.5 232.1h0M703.3 231.8h0M704.1 231.4h0M704.8 230.9h0M705.6 230.4h0M706.4 229.9h0M707.2 229.3h0M708.0 228.7h0M708.7 228.0h0M709.5 227.2h0M710.3 226.4h0M711.1 225.6h0M711.9 224.7h0M712.6 223.7h0M713.4 222.7h0M714.2 221.6h0M715.0 220.5h0M715.8 219.4h0M716.6 218.2h0M717.3 217.0h0M718.1 215.7h0M718.9 214.4h0M719.7 213.1h0M720.5 211.8h0M721.2 210.4h0M722.0 209.0h0M722.8 207.6h0" stroke="#10c010" stroke-width="1.6" stroke-linecap="round"/>
<path d="M535.4 232.9h0M536.2 232.9h0M537.0 232.9h0M537.7 233.0h0M538.5 233.0h0M539.3 233.0h0M540.1 233.0h0M540.9 233.1h0M541.6 233.1h0M542.4 233.1h0M543.2 233.1h0M544.0 233.1h0M544.8 233.1h0M545.6 233.2h0M546.3 233.2h0M547.1 233.2h0M547.9 233.2h0M548.7 233.2h0M549.5 233.2h0M550.2 233.2h0M551.0 233.2h0M551.8 233.2h0M552.6 233.3h0M553.4 233.3h0M554.1 233.3h0M554.9 233.3h0M555.7 233.3h0M556.5 233.3h0M557.3 233.3h0M558.0 233.3h0M558.8 233.3h0M559.6 233.3h0M560.4 233.3h0M561.2 233.3h0M561.9 233.3h0M562.7 233.3h0M563.5 233.3h0M564.3 233.3h0M565.1 233.3h0M565.9 233.3h0M566.6 233.2h0M567.4 233.2h0M568.2 233.2h0M569.0 233.2h0M569.8 233.2h0M570.5 233.2h0M571.3 233.2h0M572.1 233.2h0M572.9 233.1h0M573.7 233.1h0M574.4 233.1h0M575.2 233.1h0M576.0 233.1h0M576.8 233.1h0M577.6 233.0h0M578.3 233.0h0M579.1 233.0h0M579.9 233.0h0M580.7 232.9h0M581.5 232.9h0M582.2 232.9h0M583.0 232.8h0M583.8 232.8h0M584.6 232.8h0M585.4 232.7h0M586.2 232.7h0M586.9 232.7h0M587.7 232.6h0M588.5 232.6h0M589.3 232.5h0M590.1 232.5h0M590.8 232.4h0M591.6 232.4h0M592.4 232.3h0M593.2 232.3h0M594.0 232.2h0M594.7 232.2h0M595.5 232.1h0M596.3 232.0h0M597.1 232.0h0M597.9 231.9h0M598.6 231.8h0M599.4 231.7h0M600.2 231.6h0M601.0 231.5h0M601.8 231.5h0M602.6 231.4h0M603.3 231.3h0M604.1 231.1h0M604.9 231.0h0M605.7 230.9h0M606.5 230.8h0M607.2 230.6h0M608.0 230.5h0M608.8 230.3h0M609.6 230.2h0M610.4 230.0h0M611.1 229.8h0M611.9 229.5h0M612.7 229.3h0M613.5 229.0h0M614.3 228.7h0M615.0 228.4h0M615.8 228.0h0M616.6 227.6h0M617.4 227.1h0M618.2 226.6h0M618.9 226.0h0M619.7 225.3h0M620.5 224.5h0M621.3 223.6h0M622.1 222.5h0M622.9 221.4h0M623.6 220.0h0M624.4 218.5h0M625.2 216.8h0M626.0 214.9h0M626.8 212.7h0M627.5 210.2h0M628.3 207.5h0M629.1 204.4h0M629.9 201.1h0M630.7 197.4h0M631.4 193.3h0M632.2 188.9h0M633.0 184.1h0M633.8 178.9h0M634.6 173.4h0M635.3 167.5h0M636.1 161.2h0M636.9 154.7h0M637.7 147.9h0M638.5 140.8h0M639.3 133.5h0M640.0 126.1h0M640.8 118.7h0M641.6 111.2h0M642.4 103.9h0M643.2 96.7h0M643.9 89.8h0M644.7 83.4h0M645.5 77.4h0M646.3 72.1h0M647.1 67.5h0M647.8 63.7h0M648.6 60.9h0M649.4 59.1h0M650.2 58.3h0M651.0 58.5h0M651.7 59.4h0M652.5 61.2h0M653.3 63.9h0M654.1 67.6h0M654.9 72.2h0M655.6 77.6h0M656.4 83.9h0M657.2 91.0h0M658.0 98.6h0M658.8 106.8h0M659.6 115.3h0M660.3 124.0h0M661.1 132.9h0M661.9 141.8h0M662.7 150.5h0M663.5 159.0h0M664.2 167.1h0M665.0 174.9h0M665.8 182.1h0M666.6 188.8h0M667.4 194.9h0M668.1 200.5h0M668.9 205.5h0M669.7 209.9h0M670.5 213.8h0M671.3 217.2h0M672.0 220.1h0M672.8 222.6h0M673.6 224.7h0M674.4 226.5h0M675.2 228.0h0M675.9 229.2h0M676.7 230.2h0M677.5 231.1h0M678.3 231.8h0M679.1 232.4h0M679.9 232.8h0M680.6 233.2h0M681.4 233.5h0M682.2 233.7h0M683.0 233.9h0M683.8 234.1h0M684.5 234.2h0M685.3 234.3h0M686.1 234.3h0M686.9 234.3h0M687.7 234.3h0M688.4 234.3h0M689.2 234.3h0M690.0 234.3h0M690.8 234.2h0M691.6 234.1h0M692.3 234.1h0M693.1 234.0h0M693.9 233.9h0M694.7 233.7h0M695.5 233.6h0M696.3 233.4h0M697.0 233.2h0M697.8 233.0h0M698.6 232.7h0M699.4 232.4h0M700.2 232.1h0M700.9 231.7h0M701.7 231.3h0M702.5 230.9h0M703.3 230.4h0M704.1 229.9h0M704.8 229.3h0M705.6 228.6h0M706.4 227.9h0M707.2 227.1h0M708.0 226.3h0M708.7 225.4h0M709.5 224.5h0M710.3 223.5h0M711.1 222.4h0M711.9 221.3h0M712.6 220.2h0M713.4 219.0h0M714.2 217.7h0M715.0 216.4h0M715.8 215.1h0M716.6 213.8h0M717.3 212.4h0M718.1 211.0h0M718.9 209.5h0M719.7 208.1h0M720.5 206.6h0M721.2 205.1h0M722.0 203.5h0M722.8 202.0h0" stroke="#e08840" stroke-width="1.6" stroke-linecap="round"/>
<path d="M535.4 231.7h0M536.2 231.8h0M537.0 231.8h0M537.7 231.9h0M538.5 231.9h0M539.3 232.0h0M540.1 232.0h0M540.9 232.1h0M541.6 232.1h0M542.4 232.2h0M543.2 232.2h0M544.0 232.3h0M544.8 232.3h0M545.6 232.4h0M546.3 232.4h0M547.1 232.4h0M547.9 232.5h0M548.7 232.5h0M549.5 232.6h0M550.2 232.6h0M551.0 232.6h0M551.8 232.7h0M552.6 232.7h0M553.4 232.7h0M554.1 232.7h0M554.9 232.8h0M555.7 232.8h0M556.5 232.8h0M557.3 232.8h0M558.0 232.9h0M558.8 232.9h0M559.6 232.9h0M560.4 232.9h0M561.2 232.9h0M561.9 232.9h0M562.7 233.0h0M563.5 233.0h0M564.3 233.0h0M565.1 233.0h0M565.9 233.0h0M566.6 233.0h0M567.4 233.0h0M568.2 233.0h0M569.0 233.0h0M569.8 233.0h0M570.5 233.0h0M571.3 233.0h0M572.1 233.0h0M572.9 233.0h0M573.7 233.0h0M574.4 233.0h0M575.2 233.0h0M576.0 233.0h0M576.8 233.0h0M577.6 233.0h0M578.3 233.0h0M579.1 233.0h0M579.9 233.0h0M580.7 232.9h0M581.5 232.9h0M582.2 232.9h0M583.0 232.9h0M583.8 232.9h0M584.6 232.8h0M585.4 232.8h0M586.2 232.8h0M586.9 232.8h0M587.7 232.7h0M588.5 232.7h0M589.3 232.7h0M590.1 232.6h0M590.8 232.6h0M591.6 232.6h0M592.4 232.5h0M593.2 232.5h0M594.0 232.4h0M594.7 232.4h0M595.5 232.3h0M596.3 232.3h0M597.1 232.2h0M597.9 232.2h0M598.6 232.1h0M599.4 232.0h0M600.2 231.9h0M601.0 231.9h0M601.8 231.8h0M602.6 231.7h0M603.3 231.6h0M604.1 231.5h0M604.9 231.4h0M605.7 231.3h0M606.5 231.2h0M607.2 231.1h0M608.0 230.9h0M608.8 230.8h0M609.6 230.6h0M610.4 230.5h0M611.1 230.3h0M611.9 230.1h0M612.7 229.9h0M613.5 229.6h0M614.3 229.3h0M615.0 229.0h0M615.8 228.7h0M616.6 228.3h0M617.4 227.9h0M618.2 227.4h0M618.9 226.8h0M619.7 226.1h0M620.5 225.4h0M621.3 224.5h0M622.1 223.6h0M622.9 222.4h0M623.6 221.2h0M624.4 219.7h0M625.2 218.1h0M626.0 216.2h0M626.8 214.1h0M627.5 211.7h0M628.3 209.0h0M629.1 206.1h0M629.9 202.8h0M630.7 199.2h0M631.4 195.2h0M632.2 190.9h0M633.0 186.2h0M633.8 181.2h0M634.6 175.8h0M635.3 170.1h0M636.1 164.1h0M636.9 157.8h0M637.7 151.3h0M638.5 144.6h0M639.3 137.7h0M640.0 130.7h0M640.8 123.8h0M641.6 116.9h0M642.4 110.2h0M643.2 103.8h0M643.9 97.7h0M644.7 92.1h0M645.5 87.2h0M646.3 82.9h0M647.1 79.5h0M647.8 77.0h0M648.6 75.5h0M649.4 74.9h0M650.2 75.2h0M651.0 76.3h0M651.7 78.2h0M652.5 81.0h0M653.3 84.8h0M654.1 89.4h0M654.9 94.9h0M655.6 101.1h0M656.4 108.0h0M657.2 115.4h0M658.0 123.3h0M658.8 131.4h0M659.6 139.7h0M660.3 148.1h0M661.1 156.3h0M661.9 164.3h0M662.7 172.1h0M663.5 179.4h0M664.2 186.2h0M665.0 192.6h0M665.8 198.4h0M666.6 203.6h0M667.4 208.3h0M668.1 212.4h0M668.9 216.0h0M669.7 219.1h0M670.5 221.8h0M671.3 224.0h0M672.0 225.9h0M672.8 227.5h0M673.6 228.8h0M674.4 229.8h0M675.2 230.7h0M675.9 231.4h0M676.7 232.0h0M677.5 232.5h0M678.3 232.9h0M679.1 233.2h0M679.9 233.4h0M680.6 233.6h0M681.4 233.8h0M682.2 234.0h0M683.0 234.1h0M683.8 234.1h0M684.5 234.2h0M685.3 234.2h0M686.1 234.2h0M686.9 234.2h0M687.7 234.2h0M688.4 234.2h0M689.2 234.1h0M690.0 234.0h0M690.8 234.0h0M691.6 233.8h0M692.3 233.7h0M693.1 233.6h0M693.9 233.4h0M694.7 233.2h0M695.5 233.0h0M696.3 232.7h0M697.0 232.4h0M697.8 232.1h0M698.6 231.7h0M699.4 231.3h0M700.2 230.9h0M700.9 230.4h0M701.7 229.8h0M702.5 229.2h0M703.3 228.5h0M704.1 227.8h0M704.8 227.0h0M705.6 226.2h0M706.4 225.3h0M707.2 224.3h0M708.0 223.3h0M708.7 222.2h0M709.5 221.0h0M710.3 219.8h0M711.1 218.6h0M711.9 217.3h0M712.6 216.0h0M713.4 214.6h0M714.2 213.2h0M715.0 211.7h0M715.8 210.2h0M716.6 208.7h0M717.3 207.2h0M718.1 205.6h0M718.9 204.0h0M719.7 202.4h0M720.5 200.8h0M721.2 199.2h0M722.0 197.5h0M722.8 195.9h0" stroke="#78b4e0" stroke-width="1.6" stroke-linecap="round"/>
<path d="M535.4 230.5h0M536.2 230.6h0M537.0 230.7h0M537.7 230.8h0M538.5 230.9h0M539.3 231.0h0M540.1 231.0h0M540.9 231.1h0M541.6 231.2h0M542.4 231.3h0M543.2 231.4h0M544.0 231.4h0M544.8 231.5h0M545.6 231.6h0M546.3 231.6h0M547.1 231.7h0M547.9 231.8h0M548.7 231.8h0M549.5 231.9h0M550.2 232.0h0M551.0 232.0h0M551.8 232.1h0M552.6 232.1h0M553.4 232.2h0M554.1 232.2h0M554.9 232.3h0M555.7 232.3h0M556.5 232.3h0M557.3 232.4h0M558.0 232.4h0M558.8 232.5h0M559.6 232.5h0M560.4 232.5h0M561.2 232.6h0M561.9 232.6h0M562.7 232.6h0M563.5 232.7h0M564.3 232.7h0M565.1 232.7h0M565.9 232.7h0M566.6 232.8h0M567.4 232.8h0M568.2 232.8h0M569.0 232.8h0M569.8 232.8h0M570.5 232.9h0M571.3 232.9h0M572.1 232.9h0M572.9 232.9h0M573.7 232.9h0M574.4 232.9h0M575.2 232.9h0M576.0 232.9h0M576.8 232.9h0M577.6 232.9h0M578.3 233.0h0M579.1 233.0h0M579.9 233.0h0M580.7 232.9h0M581.5 232.9h0M582.2 232.9h0M583.0 232.9h0M583.8 232.9h0M584.6 232.9h0M585.4 232.9h0M586.2 232.9h0M586.9 232.9h0M587.7 232.9h0M588.5 232.8h0M589.3 232.8h0M590.1 232.8h0M590.8 232.8h0M591.6 232.7h0M592.4 232.7h0M593.2 232.7h0M594.0 232.6h0M594.7 232.6h0M595.5 232.6h0M596.3 232.5h0M597.1 232.5h0M597.9 232.4h0M598.6 232.4h0M599.4 232.3h0M600.2 232.3h0M601.0 232.2h0M601.8 232.1h0M602.6 232.1h0M603.3 232.0h0M604.1 231.9h0M604.9 231.8h0M605.7 231.7h0M606.5 231.6h0M607.2 231.5h0M608.0 231.4h0M608.8 231.3h0M609.6 231.1h0M610.4 230.9h0M611.1 230.8h0M611.9 230.6h0M612.7 230.3h0M613.5 230.1h0M614.3 229.8h0M615.0 229.5h0M615.8 229.2h0M616.6 228.8h0M617.4 228.3h0M618.2 227.8h0M618.9 227.2h0M619.7 226.5h0M620.5 225.7h0M621.3 224.8h0M622.1 223.8h0M622.9 222.6h0M623.6 221.3h0M624.4 219.8h0M625.2 218.1h0M626.0 216.2h0M626.8 214.0h0M627.5 211.6h0M628.3 209.0h0M629.1 206.1h0M629.9 202.9h0M630.7 199.4h0M631.4 195.6h0M632.2 191.5h0M633.0 187.1h0M633.8 182.5h0M634.6 177.6h0M635.3 172.4h0M636.1 167.1h0M636.9 161.6h0M637.7 155.9h0M638.5 150.2h0M639.3 144.4h0M640.0 138.8h0M640.8 133.2h0M641.6 127.9h0M642.4 122.8h0M643.2 118.1h0M643.9 113.9h0M644.7 110.3h0M645.5 107.3h0M646.3 105.1h0M647.1 103.7h0M647.8 103.1h0M648.6 103.2h0M649.4 103.9h0M650.2 105.4h0M651.0 107.6h0M651.7 110.5h0M652.5 114.2h0M653.3 118.6h0M654.1 123.6h0M654.9 129.1h0M655.6 135.2h0M656.4 141.6h0M657.2 148.3h0M658.0 155.1h0M658.8 162.0h0M659.6 168.8h0M660.3 175.5h0M661.1 181.9h0M661.9 188.0h0M662.7 193.7h0M663.5 199.1h0M664.2 203.9h0M665.0 208.3h0M665.8 212.3h0M666.6 215.7h0M667.4 218.8h0M668.1 221.4h0M668.9 223.6h0M669.7 225.5h0M670.5 227.1h0M671.3 228.4h0M672.0 229.4h0M672.8 230.3h0M673.6 231.0h0M674.4 231.6h0M675.2 232.1h0M675.9 232.5h0M676.7 232.8h0M677.5 233.1h0M678.3 233.3h0M679.1 233.5h0M679.9 233.6h0M680.6 233.8h0M681.4 233.9h0M682.2 234.0h0M683.0 234.0h0M683.8 234.1h0M684.5 234.1h0M685.3 234.1h0M686.1 234.1h0M686.9 234.0h0M687.7 234.0h0M688.4 233.9h0M689.2 233.8h0M690.0 233.7h0M690.8 233.5h0M691.6 233.4h0M692.3 233.2h0M693.1 233.0h0M693.9 232.7h0M694.7 232.4h0M695.5 232.1h0M696.3 231.7h0M697.0 231.3h0M697.8 230.9h0M698.6 230.4h0M699.4 229.8h0M700.2 229.2h0M700.9 228.5h0M701.7 227.8h0M702.5 227.0h0M703.3 226.1h0M704.1 225.2h0M704.8 224.2h0M705.6 223.1h0M706.4 222.0h0M707.2 220.8h0M708.0 219.6h0M708.7 218.3h0M709.5 216.9h0M710.3 215.5h0M711.1 214.1h0M711.9 212.6h0M712.6 211.1h0M713.4 209.5h0M714.2 208.0h0M715.0 206.3h0M715.8 204.7h0M716.6 203.0h0M717.3 201.4h0M718.1 199.7h0M718.9 197.9h0M719.7 196.2h0M720.5 194.5h0M721.2 192.7h0M722.0 191.0h0M722.8 189.2h0" stroke="#1f5fd0" stroke-width="1.6" stroke-linecap="round"/>
<path d="M535.4 231.3h0M536.2 231.4h0M537.0 231.5h0M537.7 231.6h0M538.5 231.6h0M539.3 231.7h0M540.1 231.8h0M540.9 231.8h0M541.6 231.9h0M542.4 232.0h0M543.2 232.0h0M544.0 232.1h0M544.8 232.2h0M545.6 232.2h0M546.3 232.3h0M547.1 232.3h0M547.9 232.4h0M548.7 232.5h0M549.5 232.5h0M550.2 232.6h0M551.0 232.6h0M551.8 232.7h0M552.6 232.7h0M553.4 232.7h0M554.1 232.8h0M554.9 232.8h0M555.7 232.9h0M556.5 232.9h0M557.3 232.9h0M558.0 233.0h0M558.8 233.0h0M559.6 233.0h0M560.4 233.1h0M561.2 233.1h0M561.9 233.1h0M562.7 233.2h0M563.5 233.2h0M564.3 233.2h0M565.1 233.2h0M565.9 233.3h0M566.6 233.3h0M567.4 233.3h0M568.2 233.3h0M569.0 233.4h0M569.8 233.4h0M570.5 233.4h0M571.3 233.4h0M572.1 233.4h0M572.9 233.4h0M573.7 233.4h0M574.4 233.5h0M575.2 233.5h0M576.0 233.5h0M576.8 233.5h0M577.6 233.5h0M578.3 233.5h0M579.1 233.5h0M579.9 233.5h0M580.7 233.5h0M581.5 233.5h0M582.2 233.5h0M583.0 233.5h0M583.8 233.5h0M584.6 233.5h0M585.4 233.5h0M586.2 233.5h0M586.9 233.5h0M587.7 233.5h0M588.5 233.5h0M589.3 233.5h0M590.1 233.5h0M590.8 233.5h0M591.6 233.4h0M592.4 233.4h0M593.2 233.4h0M594.0 233.4h0M594.7 233.4h0M595.5 233.3h0M596.3 233.3h0M597.1 233.3h0M597.9 233.3h0M598.6 233.2h0M599.4 233.2h0M600.2 233.2h0M601.0 233.1h0M601.8 233.1h0M602.6 233.0h0M603.3 233.0h0M604.1 232.9h0M604.9 232.9h0M605.7 232.8h0M606.5 232.8h0M607.2 232.7h0M608.0 232.6h0M608.8 232.5h0M609.6 232.4h0M610.4 232.3h0M611.1 232.2h0M611.9 232.1h0M612.7 231.9h0M613.5 231.8h0M614.3 231.6h0M615.0 231.4h0M615.8 231.2h0M616.6 230.9h0M617.4 230.6h0M618.2 230.3h0M618.9 229.9h0M619.7 229.4h0M620.5 228.9h0M621.3 228.2h0M622.1 227.5h0M622.9 226.7h0M623.6 225.8h0M624.4 224.7h0M625.2 223.5h0M626.0 222.1h0M626.8 220.6h0M627.5 218.8h0M628.3 216.9h0M629.1 214.7h0M629.9 212.3h0M630.7 209.7h0M631.4 206.9h0M632.2 203.9h0M633.0 200.6h0M633.8 197.1h0M634.6 193.5h0M635.3 189.7h0M636.1 185.7h0M636.9 181.7h0M637.7 177.6h0M638.5 173.5h0M639.3 169.4h0M640.0 165.4h0M640.8 161.7h0M641.6 158.1h0M642.4 154.9h0M643.2 152.1h0M643.9 149.8h0M644.7 148.0h0M645.5 146.7h0M646.3 146.2h0M647.1 146.2h0M647.8 146.6h0M648.6 147.5h0M649.4 149.0h0M650.2 151.0h0M651.0 153.6h0M651.7 156.6h0M652.5 160.2h0M653.3 164.1h0M654.1 168.3h0M654.9 172.8h0M655.6 177.5h0M656.4 182.3h0M657.2 187.1h0M658.0 191.8h0M658.8 196.4h0M659.6 200.8h0M660.3 205.0h0M661.1 208.9h0M661.9 212.4h0M662.7 215.7h0M663.5 218.5h0M664.2 221.1h0M665.0 223.3h0M665.8 225.2h0M666.6 226.8h0M667.4 228.1h0M668.1 229.2h0M668.9 230.1h0M669.7 230.8h0M670.5 231.4h0M671.3 231.9h0M672.0 232.2h0M672.8 232.5h0M673.6 232.7h0M674.4 232.9h0M675.2 233.1h0M675.9 233.2h0M676.7 233.3h0M677.5 233.4h0M678.3 233.5h0M679.1 233.6h0M679.9 233.7h0M680.6 233.8h0M681.4 233.8h0M682.2 233.9h0M683.0 233.9h0M683.8 233.9h0M684.5 233.9h0M685.3 233.9h0M686.1 233.8h0M686.9 233.7h0M687.7 233.6h0M688.4 233.5h0M689.2 233.4h0M690.0 233.2h0M690.8 233.0h0M691.6 232.7h0M692.3 232.4h0M693.1 232.1h0M693.9 231.8h0M694.7 231.3h0M695.5 230.9h0M696.3 230.4h0M697.0 229.8h0M697.8 229.2h0M698.6 228.5h0M699.4 227.8h0M700.2 226.9h0M700.9 226.1h0M701.7 225.1h0M702.5 224.1h0M703.3 223.0h0M704.1 221.9h0M704.8 220.6h0M705.6 219.4h0M706.4 218.0h0M707.2 216.6h0M708.0 215.2h0M708.7 213.7h0M709.5 212.1h0M710.3 210.6h0M711.1 208.9h0M711.9 207.3h0M712.6 205.6h0M713.4 203.9h0M714.2 202.1h0M715.0 200.4h0M715.8 198.6h0M716.6 196.8h0M717.3 195.0h0M718.1 193.2h0M718.9 191.3h0M719.7 189.5h0M720.5 187.6h0M721.2 185.8h0M722.0 183.9h0M722.8 182.0h0" stroke="#808000" stroke-width="1.6" stroke-linecap="round"/>
</g>
<path d="M46.50 12.90H234.30V242.40H46.50Z" fill="none" stroke="#1a1a1a" stroke-width="1.1"/>
<path d="M46.50 234.20h-3.4M46.50 193.92h-3.4M46.50 153.64h-3.4M46.50 113.36h-3.4M46.50 73.08h-3.4M46.50 32.80h-3.4M46.50 214.06h-2M46.50 173.78h-2M46.50 133.50h-2M46.50 93.22h-2M46.50 52.94h-2M46.50 12.66h-2M46.50 242.40v3.4M77.80 242.40v3.4M109.10 242.40v3.4M140.40 242.40v3.4M171.70 242.40v3.4M203.00 242.40v3.4M234.30 242.40v3.4M62.15 242.40v2M93.45 242.40v2M124.75 242.40v2M156.05 242.40v2M187.35 242.40v2M218.65 242.40v2" fill="none" stroke="#1a1a1a" stroke-width="1"/>
<text x="40.60" y="238.30" text-anchor="end" font-size="12">0</text>
<text x="40.60" y="198.02" text-anchor="end" font-size="12">50</text>
<text x="40.60" y="157.74" text-anchor="end" font-size="12">100</text>
<text x="40.60" y="117.46" text-anchor="end" font-size="12">150</text>
<text x="40.60" y="77.18" text-anchor="end" font-size="12">200</text>
<text x="40.60" y="36.90" text-anchor="end" font-size="12">250</text>
<text x="46.50" y="257.3" text-anchor="middle" font-size="12">0.0</text>
<text x="77.80" y="257.3" text-anchor="middle" font-size="12">0.2</text>
<text x="109.10" y="257.3" text-anchor="middle" font-size="12">0.4</text>
<text x="140.40" y="257.3" text-anchor="middle" font-size="12">0.6</text>
<text x="171.70" y="257.3" text-anchor="middle" font-size="12">0.8</text>
<text x="203.00" y="257.3" text-anchor="middle" font-size="12">1.0</text>
<text x="234.30" y="257.3" text-anchor="middle" font-size="12">1.2</text>
<text x="140.40" y="270.8" text-anchor="middle" font-size="12">Potential applied (V)</text>
<path d="M297.30 12.40H481.50V242.40H297.30Z" fill="none" stroke="#1a1a1a" stroke-width="1.1"/>
<path d="M297.30 233.80h-3.4M297.30 196.89h-3.4M297.30 159.97h-3.4M297.30 123.06h-3.4M297.30 86.14h-3.4M297.30 49.23h-3.4M297.30 12.31h-3.4M297.30 215.34h-2M297.30 178.43h-2M297.30 141.51h-2M297.30 104.60h-2M297.30 67.68h-2M297.30 30.77h-2M297.30 242.40v3.4M328.00 242.40v3.4M358.70 242.40v3.4M389.40 242.40v3.4M420.10 242.40v3.4M450.80 242.40v3.4M481.50 242.40v3.4M312.65 242.40v2M343.35 242.40v2M374.05 242.40v2M404.75 242.40v2M435.45 242.40v2M466.15 242.40v2" fill="none" stroke="#1a1a1a" stroke-width="1"/>
<text x="291.40" y="237.90" text-anchor="end" font-size="12">0</text>
<text x="291.40" y="200.99" text-anchor="end" font-size="12">50</text>
<text x="291.40" y="164.07" text-anchor="end" font-size="12">100</text>
<text x="291.40" y="127.16" text-anchor="end" font-size="12">150</text>
<text x="291.40" y="90.24" text-anchor="end" font-size="12">200</text>
<text x="291.40" y="53.33" text-anchor="end" font-size="12">250</text>
<text x="291.40" y="16.41" text-anchor="end" font-size="12">300</text>
<text x="297.30" y="257.3" text-anchor="middle" font-size="12">0.0</text>
<text x="328.00" y="257.3" text-anchor="middle" font-size="12">0.2</text>
<text x="358.70" y="257.3" text-anchor="middle" font-size="12">0.4</text>
<text x="389.40" y="257.3" text-anchor="middle" font-size="12">0.6</text>
<text x="420.10" y="257.3" text-anchor="middle" font-size="12">0.8</text>
<text x="450.80" y="257.3" text-anchor="middle" font-size="12">1.0</text>
<text x="481.50" y="257.3" text-anchor="middle" font-size="12">1.2</text>
<text x="389.40" y="270.8" text-anchor="middle" font-size="12">Potential applied (V)</text>
<path d="M535.40 10.60H722.80V242.20H535.40Z" fill="none" stroke="#1a1a1a" stroke-width="1.1"/>
<path d="M535.40 234.40h-3.4M535.40 202.43h-3.4M535.40 170.46h-3.4M535.40 138.49h-3.4M535.40 106.52h-3.4M535.40 74.55h-3.4M535.40 42.58h-3.4M535.40 10.61h-3.4M535.40 218.42h-2M535.40 186.44h-2M535.40 154.48h-2M535.40 122.51h-2M535.40 90.54h-2M535.40 58.57h-2M535.40 26.60h-2M535.40 242.20v3.4M566.63 242.20v3.4M597.87 242.20v3.4M629.10 242.20v3.4M660.33 242.20v3.4M691.57 242.20v3.4M722.80 242.20v3.4M551.02 242.20v2M582.25 242.20v2M613.48 242.20v2M644.72 242.20v2M675.95 242.20v2M707.18 242.20v2" fill="none" stroke="#1a1a1a" stroke-width="1"/>
<text x="529.50" y="238.50" text-anchor="end" font-size="12">0</text>
<text x="529.50" y="206.53" text-anchor="end" font-size="12">50</text>
<text x="529.50" y="174.56" text-anchor="end" font-size="12">100</text>
<text x="529.50" y="142.59" text-anchor="end" font-size="12">150</text>
<text x="529.50" y="110.62" text-anchor="end" font-size="12">200</text>
<text x="529.50" y="78.65" text-anchor="end" font-size="12">250</text>
<text x="529.50" y="46.68" text-anchor="end" font-size="12">300</text>
<text x="529.50" y="14.71" text-anchor="end" font-size="12">350</text>
<text x="535.40" y="257.3" text-anchor="middle" font-size="12">0.0</text>
<text x="566.63" y="257.3" text-anchor="middle" font-size="12">0.2</text>
<text x="597.87" y="257.3" text-anchor="middle" font-size="12">0.4</text>
<text x="629.10" y="257.3" text-anchor="middle" font-size="12">0.6</text>
<text x="660.33" y="257.3" text-anchor="middle" font-size="12">0.8</text>
<text x="691.57" y="257.3" text-anchor="middle" font-size="12">1.0</text>
<text x="722.80" y="257.3" text-anchor="middle" font-size="12">1.2</text>
<text x="629.10" y="270.8" text-anchor="middle" font-size="12">Potential applied (V)</text>
<text transform="translate(13.1,186.4) rotate(-90)" font-size="11.8">Current intensity (µA)</text>
<text transform="translate(264.5,186.4) rotate(-90)" font-size="11.8">Current intensity (µA)</text>
<text transform="translate(502.4,186.4) rotate(-90)" font-size="11.8">Current intensity (µA)</text>
<text x="52.8" y="31.6" font-size="16.3">a)</text>
<text x="57.6" y="56.0" font-size="10">GNW 15 min</text>
<text x="122.4" y="120.1" font-size="8.4">2 mM</text>
<text x="125.5" y="160.8" font-size="8.4">1 µM</text>
<path d="M131.6 151.5V126.4" stroke="#111" stroke-width="0.9"/>
<path d="M130.1 128.4L131.6 123.4L133.1 128.4Z" fill="#111"/>
<text x="304.2" y="31.6" font-size="16.3">b)</text>
<text x="308.1" y="57.6" font-size="10">GNW 30 min</text>
<text x="367.9" y="130.3" font-size="8.4">2 mM</text>
<text x="370.6" y="177.0" font-size="8.4">1 µM</text>
<path d="M378.0 165.4V139.2" stroke="#111" stroke-width="0.9"/>
<path d="M376.5 141.2L378.0 136.2L379.5 141.2Z" fill="#111"/>
<text x="543.6" y="31.8" font-size="16.3">c)</text>
<text x="545.4" y="52.2" font-size="10">GNW 45 min</text>
<text x="608.4" y="129.5" font-size="8.4">2 mM</text>
<text x="609.8" y="177.0" font-size="8.4">1 µM</text>
<path d="M617.4 164.0V138.1" stroke="#111" stroke-width="0.9"/>
<path d="M615.9 140.1L617.4 135.1L618.9 140.1Z" fill="#111"/>
</svg></body></html>
